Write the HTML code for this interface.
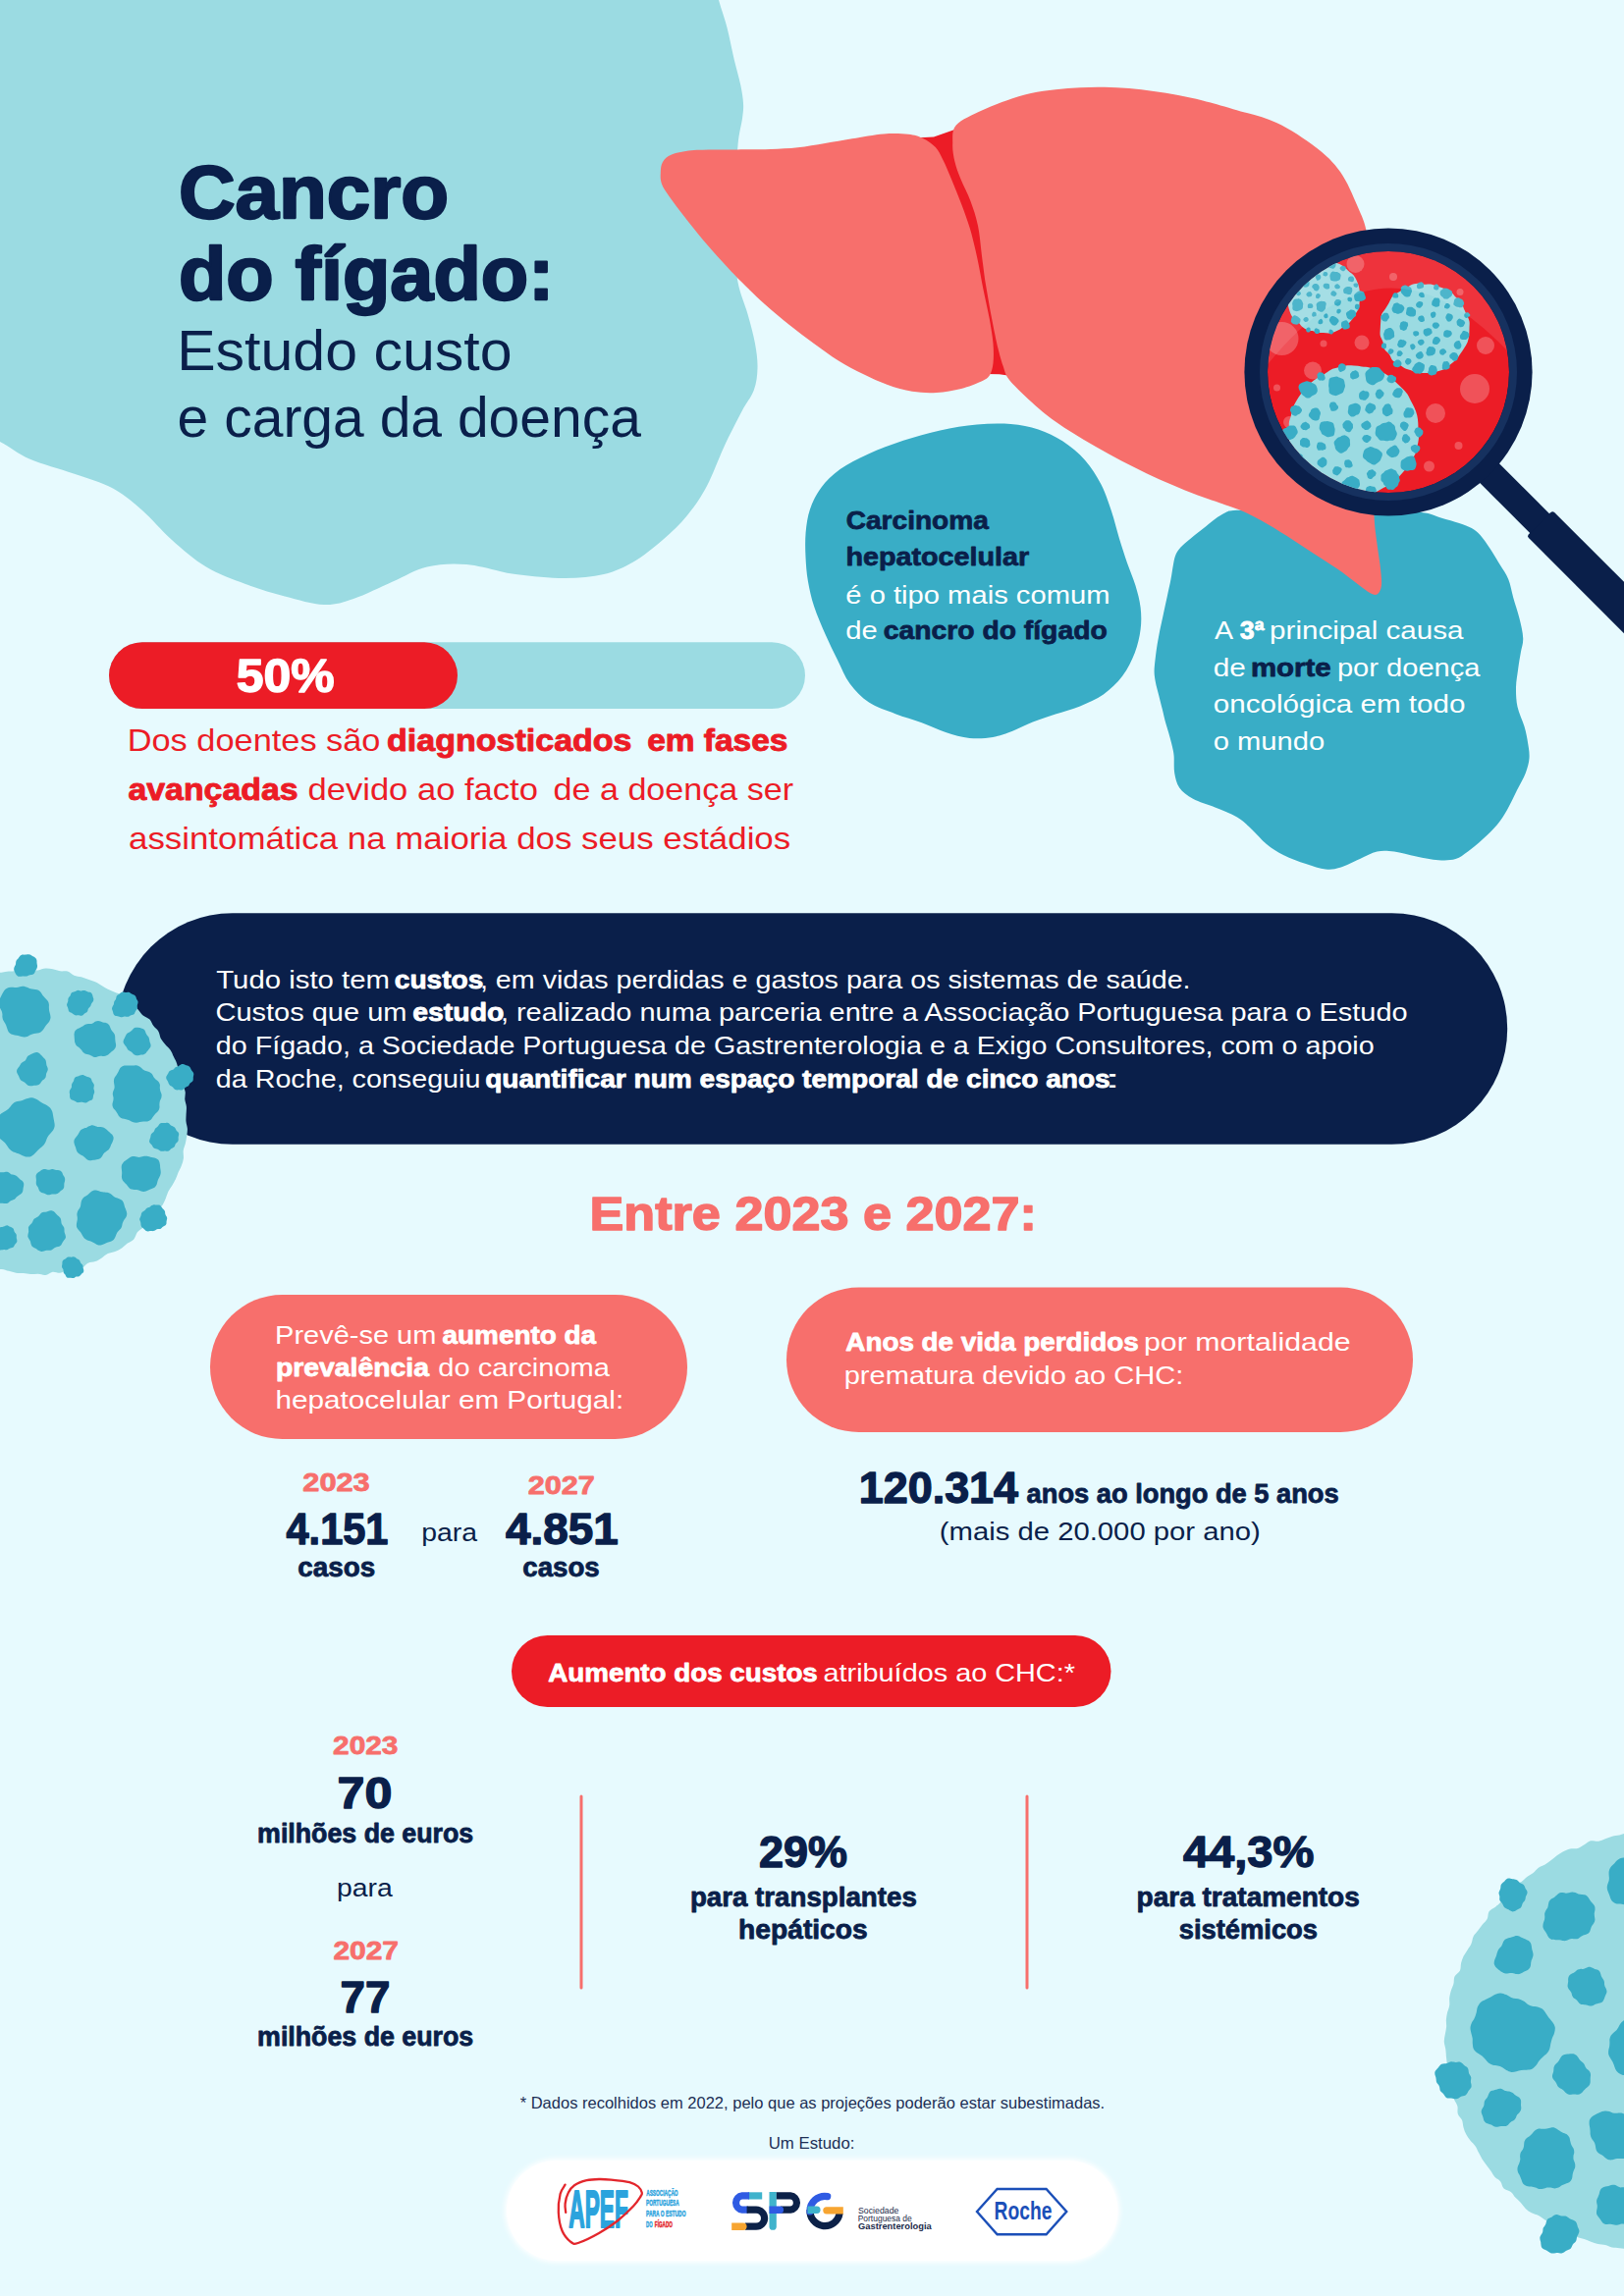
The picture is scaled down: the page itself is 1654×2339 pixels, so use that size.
<!DOCTYPE html>
<html lang="pt">
<head>
<meta charset="utf-8">
<title>Cancro do fígado: Estudo custo e carga da doença</title>
<style>
html,body{margin:0;padding:0;background:#e7fafe;}
body{width:1654px;height:2339px;position:relative;overflow:hidden;font-family:"Liberation Sans",sans-serif;}
svg text{white-space:pre;}
</style>
</head>
<body>
<svg width="1654" height="2339" viewBox="0 0 1654 2339" font-family="'Liberation Sans', sans-serif" style="position:absolute;left:0;top:0;display:block">
<rect width="1654" height="2339" fill="#e7fafe"/>
<path d="M722 -40C723.7 -33.3 728.9 -11.3 732 0C735.1 11.3 737.8 17.5 740.4 27.7C743 37.9 745.5 51.1 747.8 61C750.1 70.8 752.8 79.4 754.3 86.8C755.8 94.2 756.7 99.8 757 105.3C757.3 110.8 757 112.9 756.1 120C755.2 127.1 752.7 134.5 751.5 147.8C750.3 161.1 749.4 183 749 200C748.6 217 748.6 235.4 749 250C749.4 264.6 749.4 275.8 751.5 287.5C753.6 299.2 758.6 309.6 761.5 320C764.4 330.4 767.3 340.8 769 350C770.7 359.2 771.7 367.1 771.5 375C771.3 382.9 770.5 390 767.8 397.5C765 405 760 410.4 755 420C750 429.6 743.3 442.5 737.5 455C731.7 467.5 726.2 483.3 720 495C713.8 506.7 707.5 515.8 700 525C692.5 534.2 684.2 542.1 675 550C665.8 557.9 655 566.7 645 572.5C635 578.3 626.7 582.2 615 585C603.3 587.8 590 589 575 589C560 589 541.7 587.3 525 585C508.3 582.7 490 576.2 475 575C460 573.8 447.5 574.6 435 577.5C422.5 580.4 412.5 587.1 400 592.5C387.5 597.9 371.7 606.1 360 610C348.3 613.9 341.7 616.4 330 616C318.3 615.6 303.3 611 290 607.5C276.7 604 263.3 600 250 595C236.7 590 222.5 585 210 577.5C197.5 570 185.8 559.6 175 550C164.2 540.4 155 528.8 145 520C135 511.2 126.7 503.8 115 497.5C103.3 491.2 89.2 487.5 75 482.5C60.8 477.5 42.5 472.9 30 467.5C17.5 462.1 11.7 455.9 0 450C-11.7 444.1 -33.3 435 -40 432L-40 -40Z" fill="#9bdbe2"/>
<path d="M820.5 567.5C820.1 559.3 819.9 550.6 820.6 542.5C821.4 534.4 822.4 526.4 825 518.8C827.6 511.1 831.1 503.6 836.2 496.9C841.4 490.1 847.6 483.9 855.6 478.1C863.6 472.4 873.6 467.4 884.4 462.5C895.1 457.6 907.8 452.8 920 448.8C932.2 444.7 945 441.1 957.5 438.4C970 435.7 983 433.6 995 432.5C1007 431.4 1019 431.2 1029.4 432C1039.8 432.8 1048.6 434.6 1057.5 437.5C1066.4 440.4 1074.6 444.4 1082.5 449.6C1090.4 454.8 1098.5 461.5 1105 468.8C1111.5 476 1116.8 484.5 1121.2 493.1C1125.7 501.8 1128.8 511.4 1131.9 520.6C1135 529.9 1137.3 539.9 1140 548.8C1142.7 557.6 1145.4 565.8 1148.1 573.8C1150.9 581.7 1154.1 588.8 1156.4 596.2C1158.6 603.8 1160.8 611.2 1161.6 618.8C1162.5 626.2 1162.6 633.5 1161.6 641.2C1160.6 649 1158.8 657.1 1155.8 665C1152.7 672.9 1148.5 681.7 1143.1 688.8C1137.8 695.8 1130.9 702.4 1123.8 707.5C1116.6 712.6 1108.1 716 1100 719.4C1091.9 722.7 1083 724.8 1075 727.5C1067 730.2 1059.1 732.8 1051.9 735.6C1044.7 738.4 1038.6 741.8 1031.9 744.4C1025.1 746.9 1018.6 749.7 1011.2 750.9C1003.9 752.2 995.5 752.7 987.5 751.9C979.5 751 971.2 748.5 963.1 745.9C955 743.3 947.3 739.4 938.8 736.2C930.2 733.1 920.8 730.6 911.9 727.2C902.9 723.8 892.7 720.7 885 715.6C877.3 710.5 870.9 703.8 865.6 696.6C860.3 689.4 857.3 680.9 853.1 672.5C849 664.1 844.6 655.3 840.6 646.2C836.6 637.2 832.2 627.2 829.2 618.1C826.3 609.1 824.3 600.3 822.9 591.9C821.4 583.4 820.9 575.7 820.5 567.5Z" fill="#39adc6"/>
<path d="M1247.5 522.5C1250.6 521 1250 520.5 1256.2 520C1262.5 519.5 1271.9 519.5 1285 519.5C1298.1 519.5 1315.8 519.9 1335 520C1354.2 520.1 1381.2 519.7 1400 520C1418.8 520.3 1436.2 520.6 1447.5 521.9C1458.8 523.1 1461 525.6 1467.5 527.5C1474 529.4 1481 531.3 1486.2 533.1C1491.5 534.9 1495.2 536.1 1498.8 538.1C1502.3 540.1 1504.4 541.6 1507.5 545C1510.6 548.4 1514.2 553.8 1517.5 558.8C1520.8 563.8 1524.4 569.8 1527.5 575C1530.6 580.2 1534 584.4 1536.2 590C1538.5 595.6 1539.4 602.1 1541.2 608.8C1543.1 615.4 1545.8 623.1 1547.5 630C1549.2 636.9 1551 644.2 1551.2 650C1551.5 655.8 1549.6 659.8 1548.8 665C1547.9 670.2 1547 675.4 1546.2 681.2C1545.5 687.1 1544.1 693.5 1544 700C1543.9 706.5 1544.1 713.3 1545.5 720C1546.9 726.7 1550.7 733.8 1552.5 740C1554.3 746.2 1555.4 752.1 1556.2 757.5C1557.1 762.9 1557.9 767.5 1557.5 772.5C1557.1 777.5 1555.8 782.1 1553.8 787.5C1551.7 792.9 1548.1 798.8 1545 805C1541.9 811.2 1538.3 819.2 1535 825C1531.7 830.8 1529.2 835 1525 840C1520.8 845 1515 850.4 1510 855C1505 859.6 1499.6 864.2 1495 867.5C1490.4 870.8 1487.5 873.5 1482.5 875C1477.5 876.5 1471.7 876.7 1465 876.2C1458.3 875.8 1450 874 1442.5 872.5C1435 871 1426.7 868.3 1420 867.5C1413.3 866.7 1408.3 866.2 1402.5 867.5C1396.7 868.8 1391.2 872.3 1385 875C1378.8 877.7 1370.8 882 1365 883.8C1359.2 885.5 1355.8 886.1 1350 885.5C1344.2 884.9 1337.1 882.4 1330 880C1322.9 877.6 1314.2 874.6 1307.5 871.2C1300.8 867.9 1295.4 864.4 1290 860C1284.6 855.6 1280 849.6 1275 845C1270 840.4 1266.2 836.2 1260 832.5C1253.8 828.8 1245 825.6 1237.5 822.5C1230 819.4 1221 817.1 1215 813.8C1209 810.4 1204.4 806.9 1201.2 802.5C1198.1 798.1 1197.2 792.9 1196.2 787.5C1195.3 782.1 1196 774.6 1195.6 770C1195.2 765.4 1194.5 763.3 1193.8 760C1193 756.7 1192.3 753.8 1191.2 750C1190.2 746.2 1188.8 742.1 1187.5 737.5C1186.2 732.9 1185 727.5 1183.8 722.5C1182.5 717.5 1181.1 712.1 1180 707.5C1178.9 702.9 1177.6 698.8 1176.9 695C1176.2 691.2 1175.7 688.3 1175.6 685C1175.5 681.7 1175.8 679.2 1176.2 675C1176.7 670.8 1177.3 665.4 1178.1 660C1178.9 654.6 1180.1 648.3 1181.2 642.5C1182.4 636.7 1183.8 630.8 1185 625C1186.2 619.2 1187.5 613.3 1188.8 607.5C1190 601.7 1191.5 595.4 1192.5 590C1193.5 584.6 1194.2 579.2 1195 575C1195.8 570.8 1196.2 567.9 1197.5 565C1198.8 562.1 1200 560.2 1202.5 557.5C1205 554.8 1208.8 551.9 1212.5 548.8C1216.2 545.6 1220.8 542.1 1225 538.8C1229.2 535.4 1233.8 531.5 1237.5 528.8C1241.2 526 1244.4 524 1247.5 522.5Z" fill="#39adc6"/>
<path d="M922 141L951 139.5L978 130L1030 383L1017.75 381.25L1004 381Z" fill="#ec1c26"/>
<path d="M672.8 176.2C672.9 172.5 673.1 168.1 675 165C676.9 161.9 679.2 159.4 684 157.5C688.8 155.6 696.7 154.1 704 153.3C711.3 152.5 720.1 152.8 728 152.6C735.9 152.4 742 152.5 751.5 152.4C761 152.3 774.6 152.3 784.7 152C794.9 151.7 803.1 151.3 812.4 150.3C821.6 149.3 831 147.5 840.2 146C849.5 144.5 857.9 142.9 867.9 141.3C877.9 139.7 890.5 137.2 900 136.5C909.5 135.8 918.3 136.1 925 136.8C931.7 137.6 935.4 138.8 940 141C944.6 143.2 949.4 146.4 952.8 150C956.1 153.6 957.5 157.1 960.2 162.5C963 167.9 965.9 175 969 182.5C972.1 190 975.9 199.2 979 207.5C982.1 215.8 985 223.3 987.8 232.5C990.5 241.7 993 252.1 995.2 262.5C997.5 272.9 999.4 284.6 1001.5 295C1003.6 305.4 1006.1 315.8 1007.8 325C1009.4 334.2 1010.9 342.5 1011.5 350C1012.1 357.5 1012.1 364.6 1011.5 370C1010.9 375.4 1009.8 379.4 1007.8 382.5C1005.7 385.6 1003.8 386.5 999 388.8C994.2 391 986.5 394.1 979 396C971.5 397.9 962.3 399.5 954 400C945.7 400.5 937.3 400.1 929 398.8C920.7 397.4 912.3 395 904 392C895.7 389 887.3 385.1 879 381C870.7 376.9 862.3 372.7 854 367.5C845.7 362.3 837.3 356.1 829 350C820.7 343.9 812.3 337.7 804 331C795.7 324.3 787.3 317.5 779 310C770.7 302.5 761.1 293.1 754 286C746.9 278.9 742.8 274.3 736.5 267.5C730.2 260.7 723.2 252.9 716.5 245C709.8 237.1 702.3 227.5 696.5 220C690.7 212.5 685.2 205.4 681.5 200C677.8 194.6 675.5 191.5 674 187.5C672.5 183.5 672.6 180 672.8 176.2Z" fill="#f76f6c"/>
<path d="M973.8 127.5C978.7 121.8 991.5 116.7 1000 112.5C1008.5 108.3 1016.7 105.4 1025 102.5C1033.3 99.6 1041.7 96.9 1050 95C1058.3 93.1 1066.7 92.2 1075 91.2C1083.3 90.3 1091.7 89.7 1100 89.2C1108.3 88.8 1116.7 88.6 1125 88.8C1133.3 88.9 1141.7 89.3 1150 90C1158.3 90.7 1166.7 91.8 1175 93C1183.3 94.2 1191.7 95.4 1200 97C1208.3 98.6 1215.7 100.1 1225 102.5C1234.3 104.9 1243.5 107.5 1256 111.2C1268.5 115 1286 118.5 1300 125C1314 131.5 1329.2 141.7 1340 150C1350.8 158.3 1357.9 165 1365 175C1372.1 185 1377.9 199.2 1382.5 210C1387.1 220.8 1389.9 225 1392.5 240C1395.1 255 1396.8 273.3 1398 300C1399.2 326.7 1399.8 370 1400 400C1400.2 430 1399.1 459.2 1399 480C1398.9 500.8 1399 513.2 1399.5 525C1400 536.8 1401.1 542.7 1402.1 551C1403.1 559.3 1404.7 568.5 1405.5 575C1406.3 581.5 1406.8 586 1407 590C1407.2 594 1407.2 596.4 1406.5 599C1405.8 601.6 1404.3 604.6 1402.5 605.5C1400.7 606.4 1399 606 1395.7 604.3C1392.4 602.5 1388.3 599.1 1382.7 595C1377.1 590.9 1369.8 584.9 1362 579.5C1354.2 574.1 1344.8 568.3 1336.2 562.7C1327.6 557.1 1318.9 551.2 1310.3 545.8C1301.7 540.4 1292.2 534.6 1284.5 530.3C1276.8 526 1270.3 522.8 1263.8 520C1257.3 517.2 1253 516.1 1245.7 513.5C1238.4 510.9 1228.4 507.7 1219.8 504.5C1211.2 501.3 1202.6 497.8 1194 494.1C1185.4 490.4 1176.7 486.6 1168.1 482.5C1159.5 478.4 1150.8 474.1 1142.2 469.6C1133.6 465.1 1125 460.3 1116.4 455.3C1107.8 450.3 1099.1 445.4 1090.5 439.8C1081.9 434.2 1073.2 428.6 1064.6 421.7C1056 414.8 1045.1 404.5 1038.8 398.4C1032.5 392.3 1029.4 389.3 1026.5 385C1023.6 380.7 1023.2 377.5 1021.5 372.5C1019.8 367.5 1018.4 362.9 1016.5 355C1014.6 347.1 1012.3 335.8 1010.2 325C1008.2 314.2 1005.7 300.4 1004 290C1002.3 279.6 1001.6 272.5 1000.2 262.5C998.9 252.5 998 239.6 996 230C994 220.4 991.4 212.9 988.5 205C985.6 197.1 981.2 189.2 978.5 182.5C975.8 175.8 973.9 170.9 972.5 165C971.1 159.1 970 153.2 970.2 147C970.5 140.8 968.8 133.2 973.8 127.5Z" fill="#f76f6c"/>
<g transform="translate(1414 379) rotate(45)">
<rect x="130" y="-14" width="95" height="28" fill="#0a1f4a"/>
<rect x="218" y="-18.5" width="260" height="37" rx="3" fill="#0a1f4a"/>
</g>
<circle cx="1414" cy="379" r="146.6" fill="#0a1f4a"/>
<circle cx="1414" cy="379" r="127" fill="none" stroke="#16315f" stroke-width="8"/>
<clipPath id="lens"><circle cx="1414" cy="379" r="123"/></clipPath>
<g clip-path="url(#lens)">
<circle cx="1414" cy="379" r="123" fill="#ec1c26"/>
<circle cx="1305.5" cy="345" r="17" fill="#fff" opacity="0.24"/>
<circle cx="1387" cy="349" r="7.5" fill="#fff" opacity="0.24"/>
<circle cx="1337" cy="377.5" r="9" fill="#fff" opacity="0.24"/>
<circle cx="1502" cy="396" r="15" fill="#fff" opacity="0.24"/>
<circle cx="1462" cy="421" r="10" fill="#fff" opacity="0.24"/>
<circle cx="1513" cy="352" r="9" fill="#fff" opacity="0.24"/>
<circle cx="1455.5" cy="475" r="5.5" fill="#fff" opacity="0.24"/>
<circle cx="1485.5" cy="454" r="4" fill="#fff" opacity="0.24"/>
<circle cx="1419" cy="282" r="4" fill="#fff" opacity="0.24"/>
<circle cx="1348" cy="350" r="3.5" fill="#fff" opacity="0.24"/>
<circle cx="1300.5" cy="395" r="3.5" fill="#fff" opacity="0.24"/>
<circle cx="1487" cy="297.5" r="3.5" fill="#fff" opacity="0.24"/>
<circle cx="1380.5" cy="269" r="9" fill="#fff" opacity="0.24"/>
<circle cx="1313" cy="430" r="6" fill="#fff" opacity="0.24"/>
<path d="M1384.9 302.5C1384.9 304.4 1384.8 306.4 1384.6 308.3C1384.4 310.2 1384.4 312.3 1383.8 314.1C1383.2 316 1381.9 317.6 1380.9 319.3C1379.9 321 1379.1 322.7 1377.9 324.3C1376.8 325.8 1375.7 327.5 1374.3 328.8C1372.8 330.1 1371 330.9 1369.5 332.1C1367.9 333.2 1366.5 334.5 1364.8 335.5C1363.1 336.5 1361.3 337.2 1359.5 337.9C1357.7 338.5 1355.8 339.3 1353.9 339.5C1351.9 339.6 1349.9 339 1348 338.9C1346.1 338.8 1344.1 339.1 1342.3 338.8C1340.4 338.5 1338.6 337.6 1336.8 337.1C1334.9 336.6 1332.8 336.6 1331 335.9C1329.2 335.1 1327.5 333.9 1326.1 332.7C1324.6 331.4 1323.7 329.5 1322.3 328.2C1320.9 326.9 1318.8 326.1 1317.5 324.7C1316.2 323.2 1315.2 321.4 1314.4 319.6C1313.6 317.8 1313.1 315.9 1312.6 314C1312.1 312.1 1311.5 310.2 1311.3 308.3C1311.1 306.4 1311.4 304.4 1311.5 302.5C1311.7 300.6 1312 298.7 1312.2 296.8C1312.4 294.9 1312.2 292.9 1312.8 291.1C1313.3 289.2 1314.7 287.7 1315.6 286C1316.6 284.3 1317.4 282.6 1318.4 281C1319.5 279.5 1320.7 277.9 1322.1 276.6C1323.5 275.3 1325.1 274.3 1326.7 273.1C1328.2 272 1329.6 270.5 1331.2 269.6C1332.9 268.6 1334.8 268.1 1336.6 267.4C1338.4 266.7 1340.2 265.8 1342.1 265.5C1344 265.1 1346.1 265.4 1348 265.5C1349.9 265.5 1351.9 265.4 1353.8 265.8C1355.7 266.1 1357.6 266.7 1359.4 267.3C1361.3 267.9 1363.2 268.4 1364.9 269.3C1366.6 270.2 1368.2 271.4 1369.7 272.6C1371.2 273.8 1372.5 275.3 1373.9 276.6C1375.4 277.9 1377.2 278.9 1378.5 280.3C1379.8 281.8 1380.8 283.6 1381.6 285.4C1382.5 287.1 1383.1 289 1383.7 290.9C1384.2 292.8 1384.6 294.7 1384.8 296.7C1385.1 298.6 1385 300.6 1384.9 302.5Z" fill="#9bdbe2"/><path d="M1327.1 310.7C1327.1 311.2 1327 311.6 1327 312.1C1326.9 312.6 1327 313.2 1326.8 313.7C1326.6 314.2 1326.3 314.7 1325.9 315C1325.5 315.3 1324.9 315.5 1324.5 315.7C1324 316 1323.6 316.2 1323.1 316.5C1322.6 316.7 1322.1 317 1321.5 317.1C1321 317.2 1320.4 317.2 1319.8 317.1C1319.3 316.9 1318.7 316.7 1318.2 316.5C1317.7 316.2 1317.1 315.9 1316.8 315.4C1316.5 315 1316.3 314.3 1316.3 313.7C1316.2 313.1 1316.5 312.5 1316.5 312C1316.5 311.5 1316.4 311.1 1316.3 310.7C1316.3 310.2 1316.1 309.7 1316.1 309.2C1316.2 308.7 1316.4 308.3 1316.5 307.8C1316.7 307.3 1316.9 306.8 1317.2 306.3C1317.5 305.8 1317.8 305.3 1318.3 305C1318.7 304.7 1319.3 304.6 1319.9 304.5C1320.4 304.4 1321 304.5 1321.5 304.5C1322.1 304.4 1322.7 304.3 1323.2 304.4C1323.8 304.4 1324.4 304.6 1324.8 304.9C1325.3 305.3 1325.6 305.9 1325.9 306.3C1326.2 306.8 1326.4 307.3 1326.6 307.7C1326.8 308.2 1327.1 308.7 1327.2 309.2C1327.3 309.6 1327.2 310.2 1327.1 310.7ZM1363.6 326.8C1363.7 327.2 1363.5 327.7 1363.3 328C1363.1 328.4 1362.7 328.7 1362.5 329C1362.2 329.4 1362 329.7 1361.8 330C1361.5 330.3 1361.3 330.7 1361 331C1360.7 331.3 1360.3 331.5 1359.9 331.6C1359.5 331.7 1359 331.6 1358.6 331.6C1358.2 331.5 1357.7 331.4 1357.4 331.2C1357 331 1356.7 330.8 1356.4 330.6C1356.1 330.3 1355.9 330 1355.7 329.7C1355.5 329.4 1355.3 329.1 1355.1 328.8C1354.9 328.5 1354.7 328.2 1354.5 327.9C1354.3 327.5 1354 327.2 1353.9 326.8C1353.8 326.4 1353.8 325.9 1353.9 325.5C1354 325.1 1354.2 324.7 1354.4 324.4C1354.6 324 1354.8 323.6 1355 323.3C1355.3 322.9 1355.6 322.5 1356 322.3C1356.3 322 1356.8 321.9 1357.3 321.9C1357.7 321.9 1358.2 322.1 1358.6 322.3C1359 322.4 1359.3 322.6 1359.6 322.8C1360 322.9 1360.3 323.1 1360.6 323.3C1360.9 323.4 1361.2 323.7 1361.5 323.9C1361.7 324.1 1362 324.4 1362.2 324.6C1362.5 324.9 1362.9 325.2 1363.1 325.6C1363.3 325.9 1363.6 326.4 1363.6 326.8ZM1354.1 291.6C1354.2 292.2 1354.3 293.2 1353.9 293.7C1353.6 294.2 1352.6 294.4 1352 294.5C1351.4 294.6 1350.7 294.5 1350.1 294.3C1349.6 294.1 1349 293.8 1348.6 293.3C1348.2 292.9 1347.7 292.2 1347.6 291.6C1347.5 290.9 1347.8 290 1348.2 289.5C1348.6 289 1349.5 288.9 1350.1 288.7C1350.7 288.6 1351.4 288.6 1351.9 288.7C1352.5 288.9 1353.3 289.2 1353.7 289.6C1354 290.1 1354.1 290.9 1354.1 291.6ZM1381.1 320.5C1381.1 320.9 1381.1 321.4 1380.9 321.7C1380.7 322.1 1380.3 322.4 1379.9 322.7C1379.6 323 1379.2 323.1 1378.9 323.4C1378.7 323.6 1378.5 323.9 1378.2 324.2C1377.9 324.5 1377.7 324.9 1377.3 325.2C1376.9 325.4 1376.5 325.6 1376 325.7C1375.6 325.7 1375.1 325.6 1374.7 325.5C1374.2 325.4 1373.8 325.2 1373.4 325C1373 324.7 1372.7 324.4 1372.4 324.1C1372.1 323.8 1371.9 323.3 1371.8 322.9C1371.6 322.5 1371.5 322.1 1371.4 321.7C1371.2 321.3 1371.1 320.9 1371 320.5C1370.9 320 1370.9 319.5 1371 319.1C1371.2 318.7 1371.5 318.3 1371.8 318C1372.2 317.7 1372.6 317.6 1372.9 317.3C1373.3 317.1 1373.5 316.9 1373.8 316.7C1374.2 316.4 1374.5 316.1 1374.8 315.9C1375.2 315.8 1375.6 315.6 1376 315.6C1376.4 315.6 1376.9 315.6 1377.3 315.7C1377.7 315.8 1378.2 315.8 1378.6 316C1379 316.2 1379.5 316.4 1379.8 316.7C1380.1 317 1380.4 317.4 1380.6 317.8C1380.8 318.2 1380.9 318.7 1381 319.1C1381.1 319.6 1381.2 320 1381.1 320.5ZM1334.1 278.6C1334.1 279.1 1334.3 280 1334 280.4C1333.7 280.8 1332.9 280.9 1332.3 281.1C1331.8 281.2 1331.2 281.3 1330.7 281.1C1330.2 281 1329.6 280.6 1329.3 280.2C1329.1 279.8 1329.1 279.1 1329.1 278.6C1329.1 278.1 1329 277.5 1329.3 277C1329.6 276.5 1330.1 275.9 1330.6 275.8C1331.1 275.6 1331.8 276 1332.3 276.2C1332.8 276.4 1333.2 276.7 1333.5 277.1C1333.8 277.5 1334 278.1 1334.1 278.6ZM1377.2 305C1377.2 305.5 1377 306.1 1376.8 306.5C1376.5 306.9 1376 307.3 1375.6 307.4C1375.1 307.5 1374.5 307.3 1374.1 307.1C1373.6 307 1373.2 306.8 1372.9 306.4C1372.6 306.1 1372.5 305.5 1372.4 305C1372.4 304.5 1372.3 303.8 1372.6 303.4C1372.9 303.1 1373.6 302.9 1374.1 302.8C1374.5 302.7 1375 302.8 1375.5 302.9C1375.9 303.1 1376.5 303.2 1376.8 303.6C1377 303.9 1377.2 304.5 1377.2 305ZM1390.7 302C1390.8 302.5 1391.1 303.1 1391 303.6C1391 304.1 1390.7 304.7 1390.3 305.1C1390 305.5 1389.4 305.7 1388.9 306C1388.4 306.2 1388 306.3 1387.5 306.5C1387.1 306.6 1386.7 306.8 1386.2 306.8C1385.8 306.9 1385.4 306.9 1384.9 306.9C1384.5 307 1384.1 307 1383.6 307C1383.1 307 1382.5 307.1 1382 307C1381.5 306.9 1380.9 306.7 1380.5 306.4C1380.1 306.1 1379.8 305.5 1379.6 305C1379.4 304.5 1379.4 304 1379.3 303.5C1379.2 302.9 1379.1 302.5 1379.1 302C1379.1 301.5 1379.1 300.9 1379.2 300.4C1379.4 300 1379.8 299.5 1380.1 299.2C1380.4 298.8 1380.9 298.6 1381.3 298.3C1381.6 298 1381.9 297.7 1382.3 297.5C1382.7 297.2 1383.1 296.9 1383.5 296.7C1383.9 296.5 1384.4 296.4 1384.9 296.3C1385.4 296.3 1385.9 296.4 1386.4 296.5C1386.9 296.6 1387.4 296.7 1387.8 296.9C1388.3 297.1 1388.7 297.4 1389.1 297.8C1389.4 298.2 1389.5 298.7 1389.7 299.2C1389.9 299.7 1389.9 300.1 1390.1 300.6C1390.2 301 1390.5 301.5 1390.7 302ZM1345.3 282.5C1345.3 283 1345.1 283.6 1344.8 284.1C1344.5 284.6 1344 285.1 1343.5 285.3C1342.9 285.6 1342 285.9 1341.5 285.7C1341 285.4 1340.8 284.5 1340.5 283.9C1340.2 283.4 1339.9 283 1339.8 282.5C1339.8 281.9 1339.8 281.2 1340.1 280.7C1340.4 280.2 1341 279.7 1341.6 279.5C1342.2 279.3 1342.9 279.4 1343.5 279.6C1344 279.8 1344.6 280.3 1344.9 280.8C1345.2 281.2 1345.3 281.9 1345.3 282.5ZM1350.2 312C1350.1 312.4 1350.2 312.8 1350.1 313.2C1350.1 313.6 1350 314.1 1349.9 314.5C1349.7 314.8 1349.4 315.2 1349.2 315.5C1348.9 315.9 1348.6 316.2 1348.2 316.5C1347.9 316.8 1347.5 317.2 1347.1 317.4C1346.6 317.6 1346.1 317.7 1345.6 317.7C1345.1 317.7 1344.6 317.5 1344.2 317.4C1343.7 317.2 1343.3 317 1342.9 316.8C1342.5 316.5 1342 316.3 1341.7 315.9C1341.4 315.6 1341.2 315.1 1341 314.7C1340.9 314.2 1341 313.7 1341 313.3C1340.9 312.8 1340.9 312.4 1340.9 312C1340.8 311.6 1340.6 311.1 1340.6 310.7C1340.6 310.2 1340.7 309.7 1340.9 309.3C1341.1 308.9 1341.5 308.6 1341.9 308.3C1342.3 308 1342.7 307.8 1343.1 307.6C1343.5 307.5 1343.9 307.2 1344.3 307.1C1344.7 307 1345.2 306.9 1345.6 306.8C1346.1 306.8 1346.5 306.8 1347 306.9C1347.5 306.9 1348 306.9 1348.5 307.1C1349 307.2 1349.5 307.4 1349.9 307.7C1350.3 308.1 1350.6 308.6 1350.7 309.1C1350.8 309.6 1350.6 310.2 1350.5 310.7C1350.4 311.2 1350.3 311.6 1350.2 312ZM1343.7 292.6C1343.8 293.3 1343.6 294.2 1343.2 294.8C1342.9 295.5 1342.1 296.2 1341.4 296.4C1340.7 296.6 1339.7 296.4 1339.1 296C1338.4 295.7 1338.2 294.9 1337.8 294.3C1337.3 293.8 1336.4 293.3 1336.3 292.6C1336.1 291.9 1336.6 290.9 1337 290.3C1337.5 289.7 1338.3 289.2 1339 289C1339.7 288.8 1340.6 288.9 1341.3 289.2C1341.9 289.4 1342.5 290 1342.9 290.6C1343.4 291.1 1343.7 291.9 1343.7 292.6ZM1340.7 320.2C1340.7 320.7 1340.7 321.3 1340.5 321.7C1340.2 322 1339.6 322.2 1339.1 322.3C1338.6 322.5 1338.1 322.8 1337.6 322.7C1337.1 322.6 1336.5 322.2 1336.3 321.7C1336.1 321.3 1336.1 320.7 1336.2 320.2C1336.2 319.7 1336.3 319.3 1336.6 318.9C1336.8 318.5 1337.2 318 1337.6 317.8C1338.1 317.6 1338.7 317.6 1339.2 317.8C1339.7 317.9 1340.2 318.4 1340.4 318.8C1340.7 319.2 1340.7 319.7 1340.7 320.2ZM1333.6 289.1C1333.6 289.9 1333.3 290.7 1332.9 291.3C1332.5 291.9 1331.7 292.4 1331 292.6C1330.3 292.8 1329.4 292.8 1328.7 292.6C1328 292.4 1327.2 292 1326.7 291.4C1326.2 290.8 1325.9 289.9 1325.9 289.1C1325.9 288.3 1326.1 287.3 1326.6 286.7C1327.1 286.2 1328.1 286.2 1328.9 286C1329.6 285.8 1330.3 285.3 1331.1 285.4C1331.8 285.5 1332.7 286.1 1333.1 286.7C1333.6 287.3 1333.7 288.3 1333.6 289.1ZM1377.3 296C1377.3 296.3 1377.2 296.7 1377.1 297.1C1377 297.5 1376.8 297.8 1376.7 298.1C1376.5 298.5 1376.4 298.9 1376.2 299.2C1375.9 299.6 1375.6 299.9 1375.2 300C1374.8 300.1 1374.3 299.9 1374 299.9C1373.6 299.9 1373.2 299.9 1372.9 299.9C1372.5 299.8 1372.2 299.7 1371.9 299.6C1371.6 299.5 1371.3 299.3 1371 299.2C1370.7 299.1 1370.2 299.2 1369.8 299C1369.5 298.9 1369 298.7 1368.7 298.4C1368.5 298.1 1368.4 297.6 1368.3 297.2C1368.2 296.8 1368.1 296.4 1368.1 296C1368.1 295.6 1368.2 295.1 1368.3 294.7C1368.5 294.4 1368.9 294.1 1369.1 293.8C1369.4 293.5 1369.6 293.2 1369.8 292.9C1370.1 292.7 1370.5 292.5 1370.8 292.4C1371.1 292.3 1371.6 292.4 1371.9 292.3C1372.3 292.3 1372.5 292.1 1372.9 292.1C1373.2 292 1373.6 291.9 1374 292C1374.3 292 1374.6 292.2 1375 292.3C1375.4 292.4 1375.8 292.5 1376.2 292.7C1376.5 292.9 1376.9 293.2 1377 293.6C1377.2 293.9 1377.1 294.4 1377.2 294.8C1377.2 295.2 1377.3 295.6 1377.3 296ZM1379 284.3C1379 284.9 1379 285.7 1378.7 286.2C1378.3 286.7 1377.6 287.1 1377 287.2C1376.5 287.3 1375.9 286.9 1375.3 286.7C1374.7 286.5 1373.9 286.6 1373.5 286.2C1373.1 285.8 1372.9 284.9 1372.9 284.3C1373 283.7 1373.3 283 1373.6 282.5C1374 282.1 1374.6 281.8 1375.2 281.6C1375.8 281.4 1376.4 281.3 1377 281.5C1377.5 281.6 1378.2 282 1378.5 282.5C1378.9 283 1379 283.7 1379 284.3ZM1320.4 290.1C1320.3 290.4 1320.3 290.8 1320.2 291.1C1320.1 291.5 1320 291.9 1319.9 292.2C1319.7 292.5 1319.4 292.8 1319.2 293.1C1319 293.4 1318.8 293.7 1318.5 294C1318.2 294.2 1317.8 294.5 1317.4 294.5C1317 294.6 1316.6 294.4 1316.2 294.4C1315.8 294.3 1315.5 294.2 1315.1 294.1C1314.7 294.1 1314.3 294.2 1313.9 294.1C1313.5 293.9 1313.1 293.7 1312.8 293.5C1312.5 293.2 1312.2 292.8 1312 292.5C1311.8 292.1 1311.5 291.7 1311.4 291.3C1311.3 290.9 1311.3 290.5 1311.4 290.1C1311.5 289.6 1311.8 289.3 1312 288.9C1312.2 288.6 1312.3 288.2 1312.5 287.9C1312.7 287.6 1312.8 287.2 1313.1 287C1313.4 286.7 1313.8 286.6 1314.1 286.5C1314.5 286.3 1314.8 286.3 1315.2 286.2C1315.5 286.1 1315.8 285.9 1316.2 285.8C1316.6 285.7 1317 285.6 1317.4 285.6C1317.8 285.6 1318.2 285.8 1318.6 285.9C1319 286 1319.5 286.2 1319.8 286.4C1320.2 286.7 1320.6 287 1320.7 287.4C1320.9 287.8 1320.8 288.4 1320.7 288.8C1320.7 289.3 1320.4 289.7 1320.4 290.1ZM1344.2 337.3C1344.2 337.9 1344.2 338.7 1343.8 339.1C1343.5 339.6 1342.7 339.8 1342.2 339.9C1341.6 340.1 1341 340.1 1340.5 339.9C1340 339.7 1339.4 339.4 1339.1 338.9C1338.8 338.5 1338.7 337.9 1338.6 337.3C1338.6 336.7 1338.5 336 1338.8 335.5C1339.1 335 1339.8 334.4 1340.4 334.3C1340.9 334.3 1341.5 334.7 1342.1 335C1342.6 335.2 1343.1 335.3 1343.5 335.7C1343.8 336.1 1344.1 336.7 1344.2 337.3ZM1365.8 308.3C1365.7 308.9 1365.4 309.6 1365.1 310.2C1364.7 310.7 1364.1 311.4 1363.5 311.6C1362.9 311.8 1362.1 311.6 1361.4 311.4C1360.7 311.2 1359.9 310.9 1359.5 310.4C1359 309.9 1358.8 308.9 1358.8 308.3C1358.9 307.6 1359.4 306.9 1359.8 306.4C1360.2 305.8 1360.8 305.4 1361.4 305.1C1362 304.9 1362.8 304.9 1363.5 305C1364.2 305.2 1365.1 305.5 1365.5 306C1365.9 306.6 1365.9 307.6 1365.8 308.3ZM1339.4 267.9C1339.4 268.4 1339.3 269.1 1339 269.4C1338.8 269.7 1338.1 269.8 1337.7 270C1337.2 270.1 1336.7 270.3 1336.3 270.2C1335.9 270 1335.5 269.6 1335.2 269.2C1335 268.8 1334.8 268.4 1334.7 267.9C1334.7 267.4 1334.7 266.8 1334.9 266.4C1335.2 266 1335.8 265.7 1336.3 265.7C1336.7 265.6 1337.2 265.7 1337.6 265.9C1338.1 266.1 1338.5 266.3 1338.8 266.6C1339.1 266.9 1339.3 267.4 1339.4 267.9ZM1334.6 336.1C1334.6 336.6 1334.8 337.2 1334.5 337.6C1334.3 338 1333.7 338.3 1333.2 338.4C1332.8 338.6 1332.2 338.6 1331.7 338.5C1331.2 338.3 1330.8 337.9 1330.5 337.5C1330.2 337.1 1330.1 336.6 1330.2 336.1C1330.2 335.6 1330.3 335.1 1330.5 334.7C1330.8 334.3 1331.3 334 1331.7 333.8C1332.2 333.6 1332.8 333.4 1333.3 333.6C1333.8 333.7 1334.3 334.2 1334.5 334.6C1334.7 335 1334.6 335.6 1334.6 336.1ZM1360.5 269.2C1360.5 269.6 1360.6 269.9 1360.5 270.3C1360.5 270.6 1360.4 271 1360.3 271.3C1360.1 271.7 1359.9 271.9 1359.7 272.2C1359.4 272.5 1359.2 272.9 1358.9 273.2C1358.6 273.4 1358.2 273.7 1357.9 273.7C1357.5 273.8 1357 273.6 1356.7 273.5C1356.3 273.4 1356 273.3 1355.6 273.2C1355.2 273.1 1354.8 273.1 1354.5 273C1354.1 272.9 1353.7 272.7 1353.4 272.5C1353.1 272.2 1352.9 271.8 1352.7 271.5C1352.5 271.2 1352.3 270.8 1352.2 270.4C1352.1 270 1352.1 269.6 1352.2 269.2C1352.3 268.9 1352.7 268.5 1352.9 268.2C1353.1 267.9 1353.2 267.7 1353.4 267.3C1353.5 267 1353.6 266.6 1353.8 266.3C1353.9 266 1354.2 265.7 1354.5 265.5C1354.8 265.3 1355.2 265.2 1355.5 265C1355.9 264.9 1356.3 264.7 1356.7 264.6C1357.1 264.6 1357.5 264.6 1357.9 264.7C1358.2 264.9 1358.6 265.1 1358.9 265.4C1359.2 265.6 1359.5 265.8 1359.8 266.1C1360.1 266.3 1360.5 266.6 1360.6 266.9C1360.8 267.3 1360.7 267.8 1360.7 268.1C1360.7 268.5 1360.6 268.9 1360.5 269.2ZM1361.5 299.1C1361.5 299.6 1361.1 300.4 1360.7 300.8C1360.3 301.3 1359.7 301.7 1359.2 301.9C1358.7 302 1358.1 301.7 1357.5 301.5C1357 301.4 1356.3 301.2 1355.9 300.8C1355.5 300.4 1355.3 299.7 1355.3 299.1C1355.3 298.5 1355.6 297.9 1356 297.4C1356.3 296.9 1356.8 296.4 1357.4 296.2C1357.9 296.1 1358.7 296.2 1359.2 296.4C1359.7 296.7 1360 297.1 1360.4 297.6C1360.8 298 1361.4 298.5 1361.5 299.1ZM1370.9 273.5C1370.8 274 1370.3 274.6 1370 275.1C1369.6 275.5 1369.2 276.1 1368.7 276.2C1368.2 276.4 1367.5 276.2 1367 276C1366.5 275.8 1366 275.5 1365.6 275.1C1365.2 274.7 1364.6 274 1364.5 273.5C1364.5 272.9 1365 272.2 1365.4 271.8C1365.9 271.4 1366.5 271.2 1367 271C1367.5 270.9 1368.1 270.8 1368.6 270.9C1369.1 271.1 1369.8 271.3 1370.2 271.8C1370.5 272.2 1370.9 272.9 1370.9 273.5ZM1347.3 327.8C1347.3 328.3 1347.3 328.9 1347 329.3C1346.7 329.7 1346.2 329.9 1345.7 330.1C1345.2 330.3 1344.6 330.4 1344.1 330.3C1343.6 330.2 1342.9 329.9 1342.6 329.5C1342.3 329 1342.5 328.3 1342.6 327.8C1342.6 327.3 1342.8 326.8 1343 326.4C1343.3 326 1343.7 325.6 1344.2 325.4C1344.6 325.1 1345.4 324.7 1345.9 324.9C1346.3 325 1346.7 325.8 1347 326.3C1347.2 326.8 1347.3 327.3 1347.3 327.8ZM1324.1 278.5C1324.1 279 1324.2 279.6 1323.9 280C1323.6 280.4 1323 280.7 1322.5 280.9C1322 281 1321.5 281 1321 280.9C1320.4 280.8 1319.7 280.6 1319.4 280.2C1319.1 279.8 1319.1 279 1319.2 278.5C1319.2 278 1319.6 277.6 1319.9 277.1C1320.2 276.7 1320.5 276.1 1320.9 275.9C1321.4 275.7 1322.1 275.8 1322.6 275.9C1323.1 276.1 1323.7 276.4 1324 276.9C1324.2 277.3 1324.1 278 1324.1 278.5ZM1332.7 325.5C1332.7 326 1332.5 326.6 1332.2 327C1331.9 327.4 1331.3 327.5 1330.8 327.7C1330.3 327.8 1329.8 328 1329.3 327.9C1328.9 327.8 1328.4 327.3 1328.1 326.9C1327.7 326.5 1327.3 326 1327.3 325.5C1327.3 325 1327.8 324.5 1328.2 324.1C1328.5 323.7 1328.9 323.4 1329.4 323.3C1329.8 323.1 1330.4 322.9 1330.9 323C1331.4 323.1 1331.9 323.6 1332.2 324C1332.5 324.4 1332.7 325 1332.7 325.5ZM1336.5 299.8C1336.5 300.3 1336.1 301 1335.8 301.5C1335.4 301.9 1334.8 302.1 1334.3 302.3C1333.7 302.4 1333.2 302.5 1332.6 302.4C1332.1 302.2 1331.4 302 1331.1 301.5C1330.7 301.1 1330.3 300.3 1330.4 299.8C1330.4 299.2 1330.9 298.6 1331.3 298.2C1331.7 297.8 1332.2 297.5 1332.7 297.3C1333.2 297.1 1333.9 296.8 1334.4 296.9C1334.9 297.1 1335.3 297.7 1335.7 298.2C1336 298.7 1336.5 299.2 1336.5 299.8ZM1365.5 281.6C1365.4 282.1 1365.3 282.6 1365.2 283C1365.1 283.5 1365 284 1364.8 284.5C1364.6 284.9 1364.2 285.3 1363.8 285.5C1363.4 285.8 1362.8 285.8 1362.4 286C1362 286.1 1361.6 286.3 1361.2 286.4C1360.7 286.5 1360.3 286.6 1359.9 286.6C1359.4 286.6 1359 286.4 1358.6 286.4C1358.1 286.3 1357.7 286.3 1357.2 286.2C1356.7 286.1 1356.1 286 1355.8 285.7C1355.4 285.4 1355.1 284.9 1354.9 284.5C1354.7 284 1354.8 283.5 1354.7 283C1354.6 282.5 1354.4 282.1 1354.4 281.6C1354.4 281.1 1354.4 280.6 1354.5 280.2C1354.6 279.7 1354.9 279.3 1355.1 278.9C1355.3 278.4 1355.5 278 1355.8 277.6C1356.2 277.2 1356.6 276.8 1357 276.7C1357.4 276.5 1358.1 276.6 1358.5 276.7C1359 276.7 1359.4 276.9 1359.9 276.9C1360.3 277 1360.7 276.9 1361.1 276.9C1361.5 276.9 1362 277 1362.4 277.2C1362.8 277.3 1363.2 277.6 1363.6 277.9C1364 278.1 1364.5 278.4 1364.8 278.7C1365.2 279.1 1365.5 279.6 1365.6 280.1C1365.7 280.5 1365.6 281.1 1365.5 281.6ZM1337.3 311.7C1337.4 312.2 1337.2 313 1336.8 313.4C1336.4 313.7 1335.7 313.8 1335.2 314C1334.7 314.1 1334.2 314.1 1333.7 314C1333.2 313.9 1332.4 313.8 1332 313.4C1331.7 313 1331.8 312.2 1331.8 311.7C1331.8 311.1 1331.9 310.4 1332.2 310C1332.5 309.6 1333.2 309.3 1333.7 309.2C1334.2 309.1 1334.8 309.1 1335.3 309.2C1335.7 309.4 1336.3 309.7 1336.6 310.1C1337 310.5 1337.3 311.1 1337.3 311.7ZM1324.5 326.2C1324.5 326.6 1324.4 327 1324.3 327.4C1324.2 327.8 1324.1 328.3 1323.9 328.6C1323.6 329 1323.2 329.2 1322.9 329.5C1322.6 329.7 1322.2 330 1321.9 330.2C1321.5 330.4 1321.2 330.6 1320.8 330.7C1320.4 330.7 1319.9 330.5 1319.6 330.5C1319.2 330.4 1318.8 330.3 1318.5 330.2C1318.1 330.2 1317.7 330.2 1317.3 330C1317 329.9 1316.7 329.6 1316.3 329.4C1316 329.1 1315.7 328.9 1315.4 328.6C1315.1 328.2 1314.8 327.9 1314.7 327.5C1314.6 327.1 1314.8 326.6 1314.9 326.2C1314.9 325.7 1315.1 325.4 1315.2 325C1315.3 324.6 1315.3 324.2 1315.5 323.8C1315.7 323.4 1316 323.2 1316.2 322.8C1316.5 322.5 1316.8 322.2 1317.1 321.9C1317.4 321.6 1317.8 321.3 1318.2 321.2C1318.6 321.2 1319.2 321.4 1319.6 321.6C1320 321.7 1320.3 321.9 1320.6 322.1C1321 322.2 1321.4 322.3 1321.7 322.5C1322 322.7 1322.2 323 1322.5 323.2C1322.8 323.4 1323.1 323.6 1323.4 323.9C1323.8 324.2 1324.2 324.5 1324.4 324.9C1324.6 325.2 1324.5 325.7 1324.5 326.2ZM1316 300.7C1315.9 301.1 1315.8 301.4 1315.7 301.8C1315.6 302.1 1315.5 302.5 1315.3 302.8C1315 303.1 1314.7 303.3 1314.4 303.5C1314.1 303.7 1313.8 303.8 1313.6 304C1313.3 304.2 1313.1 304.6 1312.7 304.8C1312.4 305 1312 305.1 1311.7 305.1C1311.3 305.2 1310.9 305 1310.5 304.9C1310.2 304.8 1309.8 304.7 1309.4 304.6C1309.1 304.4 1308.7 304.2 1308.4 304C1308.1 303.7 1307.9 303.4 1307.7 303C1307.5 302.7 1307.3 302.3 1307.2 301.9C1307.1 301.5 1306.9 301.1 1307 300.7C1307 300.3 1307.2 299.9 1307.5 299.6C1307.7 299.3 1308.2 299.1 1308.4 298.8C1308.7 298.6 1308.9 298.4 1309.1 298.1C1309.3 297.9 1309.5 297.6 1309.7 297.4C1310 297.1 1310.3 297 1310.6 296.8C1310.9 296.6 1311.3 296.4 1311.7 296.3C1312 296.1 1312.5 296 1312.9 296C1313.3 296.1 1313.7 296.4 1314 296.6C1314.3 296.9 1314.5 297.3 1314.8 297.6C1315 297.9 1315.3 298.2 1315.5 298.5C1315.7 298.8 1316 299.2 1316.1 299.5C1316.1 299.9 1316 300.3 1316 300.7ZM1384.7 312.5C1384.7 313 1384.5 313.4 1384.2 313.9C1384 314.4 1383.7 315.2 1383.2 315.4C1382.7 315.6 1381.9 315.3 1381.4 315.1C1380.9 314.9 1380.3 314.5 1380.1 314.1C1379.8 313.6 1379.9 313 1379.9 312.5C1379.9 312 1379.8 311.3 1380.1 310.9C1380.3 310.4 1380.9 310 1381.4 309.8C1381.9 309.6 1382.6 309.7 1383.1 309.9C1383.6 310.1 1384.2 310.4 1384.5 310.8C1384.8 311.3 1384.8 312 1384.7 312.5ZM1374.5 331.1C1374.6 331.5 1374.7 331.9 1374.7 332.3C1374.7 332.7 1374.7 333.2 1374.6 333.6C1374.4 334 1374.1 334.3 1373.7 334.5C1373.4 334.8 1372.9 334.8 1372.5 334.9C1372.1 335.1 1371.7 335.1 1371.4 335.2C1371 335.3 1370.6 335.5 1370.3 335.6C1369.9 335.6 1369.4 335.6 1369.1 335.5C1368.7 335.4 1368.4 335.2 1368 334.9C1367.7 334.7 1367.5 334.4 1367.2 334.1C1367 333.9 1366.7 333.6 1366.5 333.3C1366.3 332.9 1366.2 332.6 1366.1 332.2C1366 331.8 1366.1 331.5 1366 331.1C1366 330.7 1366 330.4 1366 330C1366.1 329.6 1366 329.1 1366.2 328.7C1366.3 328.4 1366.6 328 1366.9 327.8C1367.2 327.5 1367.7 327.4 1368 327.2C1368.4 327.1 1368.7 326.9 1369.1 326.8C1369.5 326.6 1369.9 326.4 1370.3 326.4C1370.7 326.3 1371.1 326.4 1371.5 326.5C1371.9 326.7 1372.2 327 1372.4 327.3C1372.7 327.6 1372.9 327.9 1373.1 328.2C1373.4 328.5 1373.6 328.8 1373.8 329.1C1374 329.4 1374.1 329.7 1374.2 330C1374.4 330.4 1374.4 330.7 1374.5 331.1ZM1358 338.1C1358 338.6 1357.9 339.2 1357.6 339.6C1357.4 340 1356.9 340.4 1356.4 340.5C1356 340.6 1355.4 340.5 1355 340.3C1354.5 340.1 1354 339.9 1353.7 339.5C1353.5 339.2 1353.5 338.6 1353.5 338.1C1353.5 337.7 1353.4 337.1 1353.6 336.7C1353.9 336.3 1354.4 335.7 1354.8 335.6C1355.3 335.5 1355.9 335.8 1356.3 336C1356.8 336.2 1357.1 336.5 1357.4 336.9C1357.7 337.2 1358 337.7 1358 338.1ZM1346.3 272.7C1346.3 273.2 1346 273.9 1345.6 274.3C1345.2 274.7 1344.6 274.8 1344.1 275C1343.6 275.1 1343.1 275 1342.6 274.9C1342.1 274.8 1341.5 274.7 1341.1 274.3C1340.8 273.9 1340.4 273.2 1340.4 272.7C1340.4 272.1 1340.9 271.5 1341.3 271.2C1341.7 270.8 1342.1 270.6 1342.6 270.4C1343.1 270.2 1343.8 269.9 1344.2 270C1344.7 270.2 1345 270.8 1345.4 271.2C1345.7 271.6 1346.2 272.1 1346.3 272.7ZM1365.8 317.1C1365.7 317.5 1365.5 318 1365.2 318.3C1365 318.7 1364.6 319 1364.2 319.2C1363.7 319.4 1363.2 319.5 1362.7 319.4C1362.2 319.3 1361.6 319 1361.4 318.6C1361.2 318.2 1361.4 317.5 1361.4 317.1C1361.5 316.6 1361.4 316.1 1361.6 315.7C1361.9 315.4 1362.3 315.1 1362.8 314.9C1363.2 314.7 1363.8 314.6 1364.2 314.7C1364.7 314.9 1365.2 315.2 1365.5 315.6C1365.7 316 1365.8 316.6 1365.8 317.1ZM1383.3 290.5C1383.3 291 1383 291.5 1382.8 291.9C1382.5 292.3 1382.1 292.8 1381.7 292.9C1381.3 293 1380.7 292.7 1380.3 292.5C1379.8 292.3 1379.4 292.2 1379.1 291.9C1378.8 291.5 1378.5 291 1378.5 290.5C1378.4 290.1 1378.5 289.4 1378.8 289C1379.1 288.7 1379.8 288.6 1380.2 288.5C1380.7 288.4 1381.1 288.4 1381.6 288.5C1382 288.6 1382.6 288.8 1382.9 289.1C1383.2 289.4 1383.3 290.1 1383.3 290.5ZM1352.3 279.2C1352.3 279.6 1352.1 280.2 1351.8 280.6C1351.6 281 1351 281.3 1350.6 281.4C1350.2 281.5 1349.7 281.3 1349.2 281.2C1348.7 281 1348 281 1347.7 280.7C1347.4 280.4 1347.4 279.6 1347.4 279.2C1347.5 278.7 1347.7 278.1 1348 277.8C1348.2 277.4 1348.7 277.1 1349.2 277C1349.6 276.9 1350.1 276.8 1350.6 277C1351 277.1 1351.5 277.4 1351.8 277.7C1352.1 278.1 1352.3 278.7 1352.3 279.2ZM1325 298.9C1325 299.3 1324.6 299.9 1324.3 300.2C1324 300.6 1323.6 301 1323.1 301.1C1322.7 301.2 1322.2 301 1321.8 300.9C1321.3 300.7 1321 300.5 1320.6 300.2C1320.3 299.8 1319.7 299.3 1319.7 298.9C1319.7 298.4 1320.1 297.7 1320.4 297.4C1320.8 297.1 1321.3 297.1 1321.8 296.9C1322.2 296.8 1322.7 296.5 1323.1 296.6C1323.6 296.7 1324 297.1 1324.3 297.5C1324.6 297.9 1325 298.4 1325 298.9ZM1344.9 301.6C1344.8 302.1 1344.4 302.5 1344.1 302.9C1343.8 303.3 1343.5 303.7 1343.1 303.9C1342.7 304.1 1342 304.2 1341.5 304.1C1341 304 1340.3 303.6 1340.1 303.2C1339.8 302.8 1340 302.1 1340.1 301.6C1340.1 301.1 1340.1 300.6 1340.4 300.2C1340.6 299.8 1341.1 299.3 1341.6 299.2C1342 299 1342.6 299.1 1343.1 299.2C1343.6 299.3 1344.2 299.6 1344.5 300C1344.8 300.4 1344.9 301.1 1344.9 301.6ZM1333.2 271.2C1333.2 271.6 1332.7 272.1 1332.4 272.5C1332.1 272.8 1331.7 273 1331.3 273.2C1330.9 273.4 1330.3 273.7 1329.8 273.6C1329.4 273.5 1328.9 273 1328.7 272.6C1328.4 272.2 1328.3 271.6 1328.3 271.2C1328.3 270.7 1328.6 270.2 1328.8 269.9C1329.1 269.5 1329.5 269.1 1329.9 268.9C1330.3 268.8 1330.9 268.7 1331.4 268.9C1331.8 269 1332.2 269.4 1332.5 269.8C1332.8 270.2 1333.2 270.7 1333.2 271.2ZM1352.5 321.9C1352.5 322.4 1352.6 323 1352.4 323.3C1352.2 323.7 1351.6 324 1351.2 324.1C1350.7 324.3 1350.1 324.3 1349.7 324.2C1349.3 324 1348.9 323.6 1348.6 323.2C1348.4 322.9 1348.2 322.3 1348.2 321.9C1348.2 321.5 1348.4 321 1348.7 320.6C1349 320.3 1349.3 320 1349.8 319.8C1350.2 319.5 1350.9 319.3 1351.3 319.4C1351.7 319.5 1352 320.2 1352.2 320.6C1352.4 321 1352.5 321.5 1352.5 321.9ZM1364.9 291.9C1365 292.4 1364.7 293.2 1364.4 293.6C1364 294 1363.3 294.2 1362.8 294.3C1362.3 294.4 1361.8 294.4 1361.3 294.2C1360.8 294.1 1360.3 293.8 1359.9 293.4C1359.6 293.1 1359.2 292.4 1359.2 291.9C1359.1 291.4 1359.5 290.8 1359.8 290.3C1360.2 289.9 1360.7 289.5 1361.2 289.4C1361.7 289.2 1362.4 289.2 1362.8 289.4C1363.3 289.6 1363.5 290.2 1363.9 290.6C1364.2 291 1364.8 291.4 1364.9 291.9Z" fill="#39adc6"/>
<path d="M1496.5 334.5C1496.4 336.9 1496.5 339.3 1496.2 341.7C1495.9 344 1495.4 346.5 1494.6 348.7C1493.7 350.9 1492.2 352.9 1491 354.9C1489.7 356.9 1488.4 358.8 1487.1 360.7C1485.8 362.7 1484.6 364.8 1483 366.5C1481.4 368.2 1479.4 369.5 1477.5 371C1475.7 372.5 1474 374.4 1471.9 375.5C1469.9 376.7 1467.5 377.4 1465.2 378.1C1462.9 378.8 1460.5 379.3 1458.1 379.6C1455.8 380 1453.4 380.1 1451 380.1C1448.6 380.1 1446.1 380.2 1443.8 379.7C1441.5 379.2 1439.4 378 1437.1 377.2C1434.9 376.4 1432.5 376 1430.4 374.9C1428.3 373.9 1426.6 372.1 1424.6 370.8C1422.6 369.5 1419.9 368.9 1418.3 367.2C1416.7 365.5 1416.2 362.7 1414.8 360.8C1413.4 358.8 1411 357.5 1409.9 355.4C1408.9 353.3 1409.2 350.6 1408.5 348.3C1407.8 346 1406.2 344 1405.7 341.7C1405.3 339.4 1405.7 336.9 1405.8 334.5C1405.9 332.1 1406 329.8 1406.2 327.4C1406.5 325 1406.3 322.4 1407.1 320.2C1408 318.1 1410 316.2 1411.2 314.2C1412.5 312.2 1413.7 310.3 1414.8 308.2C1416 306.2 1416.7 303.6 1418.3 301.8C1419.9 300 1422.2 298.9 1424.2 297.7C1426.3 296.5 1428.6 295.8 1430.7 294.6C1432.8 293.4 1434.5 291.4 1436.7 290.4C1438.8 289.4 1441.4 288.9 1443.8 288.8C1446.1 288.6 1448.6 289.5 1451 289.7C1453.4 289.9 1455.8 289.3 1458.1 289.7C1460.4 290.1 1462.6 291.1 1464.9 291.9C1467.1 292.6 1469.3 293.3 1471.5 294.3C1473.7 295.2 1476 296.1 1477.9 297.5C1479.7 298.9 1481 301.1 1482.7 302.8C1484.4 304.4 1486.8 305.6 1488.1 307.5C1489.4 309.5 1489.9 312 1490.8 314.2C1491.7 316.4 1492.8 318.4 1493.7 320.6C1494.7 322.8 1496 325 1496.5 327.3C1497 329.6 1496.5 332.1 1496.5 334.5Z" fill="#9bdbe2"/><path d="M1420 340.4C1420 340.9 1420.2 341.4 1420.2 341.9C1420.2 342.4 1420 343 1419.8 343.4C1419.5 343.8 1418.9 344 1418.5 344.3C1418.1 344.6 1417.7 344.8 1417.3 345C1416.9 345.3 1416.5 345.7 1416 345.9C1415.6 346.1 1415.1 346.2 1414.6 346.3C1414.1 346.4 1413.5 346.4 1413 346.4C1412.4 346.4 1411.7 346.5 1411.2 346.2C1410.7 346 1410.2 345.5 1409.9 345.1C1409.6 344.6 1409.6 343.9 1409.5 343.3C1409.4 342.8 1409.3 342.3 1409.2 341.8C1409.2 341.3 1409 340.8 1409 340.4C1409.1 339.9 1409.3 339.4 1409.5 339C1409.6 338.6 1409.8 338.2 1410 337.7C1410.2 337.3 1410.3 336.7 1410.5 336.3C1410.8 335.9 1411.2 335.6 1411.7 335.3C1412.1 335.1 1412.6 335 1413.1 334.8C1413.6 334.6 1414 334.3 1414.6 334.1C1415.1 334 1415.8 333.8 1416.3 334C1416.8 334.1 1417.3 334.5 1417.7 334.9C1418.2 335.3 1418.5 335.7 1418.8 336.2C1419.1 336.6 1419.5 337 1419.6 337.4C1419.8 337.9 1419.9 338.4 1419.9 338.9C1420 339.4 1420 339.9 1420 340.4ZM1458.6 338.2C1458.6 338.6 1458.6 339.1 1458.4 339.4C1458.2 339.7 1457.8 340 1457.5 340.3C1457.2 340.5 1456.9 340.7 1456.7 340.9C1456.4 341.1 1456.2 341.4 1455.9 341.5C1455.6 341.7 1455.3 341.7 1454.9 341.8C1454.6 341.9 1454.3 342 1454 342.2C1453.6 342.3 1453.2 342.5 1452.8 342.5C1452.4 342.6 1451.9 342.5 1451.6 342.3C1451.3 342.1 1451.1 341.6 1450.8 341.3C1450.6 341 1450.4 340.7 1450.2 340.4C1450 340 1449.8 339.7 1449.7 339.4C1449.6 339 1449.6 338.6 1449.6 338.2C1449.6 337.8 1449.6 337.4 1449.7 337.1C1449.8 336.7 1449.8 336.2 1450 335.9C1450.2 335.6 1450.6 335.4 1451 335.2C1451.3 335 1451.7 335.1 1452.1 335C1452.4 334.8 1452.7 334.7 1453 334.6C1453.3 334.5 1453.6 334.3 1454 334.2C1454.3 334.2 1454.7 334.2 1455 334.3C1455.4 334.3 1455.7 334.4 1456.1 334.5C1456.5 334.6 1457 334.7 1457.3 334.9C1457.6 335.1 1457.8 335.5 1458 335.9C1458.1 336.3 1458.2 336.7 1458.3 337C1458.4 337.4 1458.6 337.8 1458.6 338.2ZM1450.7 375C1450.6 375.5 1450.6 376 1450.4 376.5C1450.3 377 1450 377.4 1449.7 377.8C1449.4 378.2 1449.1 378.5 1448.7 378.9C1448.4 379.3 1448.2 379.8 1447.8 380.1C1447.4 380.4 1446.9 380.7 1446.4 380.8C1445.9 380.9 1445.3 380.7 1444.8 380.6C1444.3 380.6 1443.9 380.5 1443.4 380.5C1442.8 380.4 1442.2 380.5 1441.7 380.4C1441.2 380.2 1440.6 380 1440.2 379.6C1439.8 379.3 1439.4 378.8 1439 378.3C1438.7 377.9 1438.3 377.3 1438.2 376.8C1438.1 376.2 1438.3 375.5 1438.5 375C1438.7 374.5 1439.2 374 1439.5 373.6C1439.8 373.1 1440.1 372.8 1440.3 372.4C1440.5 372 1440.7 371.5 1440.9 371.1C1441.2 370.7 1441.7 370.5 1442.1 370.2C1442.5 369.9 1442.9 369.7 1443.4 369.5C1443.8 369.3 1444.3 368.9 1444.8 368.8C1445.3 368.7 1445.9 368.8 1446.5 369C1447 369.1 1447.4 369.4 1447.9 369.7C1448.4 369.9 1449 370.1 1449.4 370.4C1449.9 370.7 1450.5 371.1 1450.7 371.6C1450.9 372.1 1450.9 372.8 1450.9 373.4C1450.9 373.9 1450.7 374.5 1450.7 375ZM1430.4 314.3C1430.4 314.8 1429.9 315.4 1429.7 315.9C1429.4 316.4 1429.1 316.8 1428.8 317.2C1428.5 317.7 1428.3 318.2 1427.9 318.5C1427.5 318.8 1426.9 318.9 1426.5 319.1C1426 319.2 1425.5 319.3 1425.1 319.5C1424.6 319.6 1424.1 319.8 1423.7 319.8C1423.2 319.8 1422.8 319.5 1422.3 319.4C1421.9 319.2 1421.4 319.2 1420.9 319.1C1420.4 318.9 1419.7 318.9 1419.3 318.6C1418.9 318.3 1418.6 317.8 1418.4 317.3C1418.1 316.9 1417.9 316.4 1417.8 315.9C1417.6 315.3 1417.5 314.8 1417.6 314.3C1417.6 313.8 1418 313.3 1418.2 312.8C1418.4 312.3 1418.6 311.9 1418.7 311.4C1418.9 310.9 1419 310.3 1419.3 309.9C1419.6 309.5 1420.1 309.2 1420.6 309C1421.1 308.7 1421.6 308.6 1422.1 308.5C1422.7 308.4 1423.2 308.4 1423.7 308.5C1424.2 308.7 1424.6 309.1 1425 309.4C1425.4 309.6 1425.7 309.8 1426.2 309.9C1426.6 310.1 1427.2 310.1 1427.6 310.3C1428.1 310.5 1428.4 310.9 1428.8 311.3C1429.2 311.7 1429.6 312.1 1429.8 312.6C1430.1 313.1 1430.4 313.7 1430.4 314.3ZM1473.2 358.4C1473.2 359 1472.3 359.6 1471.9 360.1C1471.4 360.6 1471 361.1 1470.4 361.4C1469.8 361.6 1469 361.8 1468.4 361.6C1467.8 361.5 1467.1 360.9 1466.7 360.4C1466.3 359.9 1466.1 359 1466.1 358.4C1466.1 357.7 1466.4 357 1466.8 356.5C1467.2 356 1467.9 355.6 1468.5 355.4C1469.1 355.2 1469.9 355.1 1470.5 355.3C1471.1 355.4 1471.7 355.9 1472.1 356.5C1472.6 357 1473.3 357.8 1473.2 358.4ZM1488.4 351.5C1488.5 352.3 1488.3 353.2 1487.9 353.9C1487.5 354.6 1486.8 355.4 1486 355.7C1485.2 356 1484.1 355.9 1483.3 355.5C1482.6 355.2 1481.9 354.5 1481.5 353.8C1481 353.2 1480.7 352.3 1480.7 351.5C1480.7 350.8 1481.1 349.9 1481.5 349.3C1482 348.6 1482.6 347.9 1483.4 347.6C1484.1 347.2 1485.4 346.8 1486.1 347.1C1486.8 347.4 1487.2 348.6 1487.6 349.4C1488 350.1 1488.4 350.8 1488.4 351.5ZM1419.5 358.1C1419.4 358.6 1419 359.1 1418.6 359.6C1418.2 360 1417.9 360.4 1417.3 360.6C1416.8 360.8 1416.1 361.1 1415.6 360.9C1415 360.8 1414.4 360.3 1414.1 359.8C1413.8 359.3 1413.6 358.6 1413.6 358.1C1413.7 357.5 1414.1 357 1414.4 356.6C1414.8 356.1 1415.1 355.4 1415.6 355.3C1416.1 355.1 1416.8 355.3 1417.4 355.5C1417.9 355.6 1418.7 355.8 1419 356.2C1419.4 356.7 1419.6 357.5 1419.5 358.1ZM1450.7 324.8C1450.8 325.4 1451.1 326.5 1450.7 327C1450.4 327.5 1449.3 327.8 1448.6 327.9C1448 328 1447.2 328 1446.6 327.8C1446 327.6 1445.5 327.1 1445.1 326.6C1444.6 326.1 1444.2 325.4 1444.1 324.8C1444.1 324.1 1444.4 323.2 1444.8 322.7C1445.2 322.2 1446 321.8 1446.6 321.7C1447.3 321.5 1448.1 321.3 1448.7 321.5C1449.3 321.7 1449.9 322.3 1450.2 322.9C1450.6 323.4 1450.6 324.1 1450.7 324.8ZM1466.5 308.1C1466.4 308.5 1466.2 308.7 1466.2 309.1C1466.1 309.4 1466.2 309.8 1466.2 310.2C1466.1 310.6 1466.1 311.2 1465.9 311.5C1465.7 311.8 1465.3 312.1 1465 312.3C1464.6 312.5 1464.2 312.5 1463.8 312.6C1463.4 312.7 1462.9 312.8 1462.6 312.8C1462.2 312.7 1461.8 312.6 1461.4 312.5C1461 312.3 1460.7 312.1 1460.3 312C1460 311.8 1459.5 311.7 1459.2 311.5C1458.8 311.3 1458.4 311 1458.3 310.6C1458.1 310.2 1458.2 309.7 1458.2 309.3C1458.2 308.9 1458.3 308.5 1458.4 308.1C1458.4 307.8 1458.4 307.4 1458.6 307.1C1458.7 306.7 1458.9 306.4 1459.1 306.1C1459.3 305.8 1459.5 305.6 1459.7 305.3C1459.9 305 1460.1 304.6 1460.3 304.3C1460.6 304 1461 303.7 1461.3 303.6C1461.7 303.4 1462.1 303.5 1462.6 303.4C1463 303.4 1463.4 303.4 1463.8 303.4C1464.2 303.4 1464.8 303.4 1465.1 303.6C1465.5 303.9 1465.8 304.3 1466 304.6C1466.2 305 1466.3 305.5 1466.4 305.9C1466.5 306.3 1466.6 306.7 1466.6 307C1466.6 307.4 1466.5 307.8 1466.5 308.1ZM1492.2 329C1492.2 329.4 1491.9 329.7 1491.7 330.1C1491.6 330.4 1491.4 330.7 1491.2 331.1C1491.1 331.4 1491 331.8 1490.7 332.1C1490.5 332.4 1490.2 332.6 1489.8 332.8C1489.5 333 1489.1 333 1488.8 333.1C1488.4 333.2 1488 333.4 1487.7 333.3C1487.3 333.3 1486.9 333.2 1486.6 333C1486.3 332.8 1486 332.5 1485.8 332.3C1485.5 332.1 1485.2 331.9 1484.9 331.7C1484.7 331.5 1484.3 331.3 1484.1 331C1483.9 330.8 1483.9 330.4 1483.8 330C1483.7 329.7 1483.7 329.4 1483.7 329C1483.6 328.6 1483.5 328.3 1483.5 327.9C1483.6 327.5 1483.7 327.1 1483.8 326.8C1484 326.5 1484.3 326.2 1484.5 325.9C1484.8 325.6 1485 325.2 1485.3 325C1485.7 324.7 1486.1 324.5 1486.5 324.5C1486.8 324.5 1487.3 324.8 1487.7 324.9C1488 325.1 1488.3 325.3 1488.6 325.5C1488.9 325.6 1489.2 325.7 1489.5 325.8C1489.8 325.9 1490.1 326.1 1490.4 326.3C1490.6 326.5 1490.8 326.8 1491.1 327C1491.4 327.3 1491.7 327.5 1491.9 327.9C1492.1 328.2 1492.2 328.6 1492.2 329ZM1496.4 341.8C1496.4 342.2 1496.3 342.6 1496.1 343C1495.9 343.3 1495.6 343.6 1495.3 343.9C1495.1 344.2 1494.8 344.4 1494.5 344.7C1494.3 344.9 1494 345.2 1493.7 345.4C1493.4 345.7 1493.1 345.9 1492.8 346C1492.4 346.1 1492 346 1491.6 346C1491.2 346 1490.9 346 1490.5 345.9C1490.1 345.9 1489.7 346 1489.2 345.9C1488.8 345.8 1488.3 345.7 1487.9 345.5C1487.6 345.2 1487.3 344.8 1487.1 344.4C1486.9 344 1486.9 343.5 1486.9 343C1486.9 342.6 1486.9 342.2 1487 341.8C1487.2 341.4 1487.4 341 1487.6 340.7C1487.8 340.4 1488.1 340.1 1488.3 339.8C1488.5 339.6 1488.7 339.3 1488.9 339C1489 338.7 1489.2 338.2 1489.4 337.9C1489.7 337.6 1490 337.2 1490.4 337.1C1490.7 336.9 1491.2 337 1491.6 337C1492 337.1 1492.4 337.3 1492.8 337.4C1493.2 337.5 1493.5 337.6 1493.9 337.8C1494.3 338 1494.7 338.1 1495 338.4C1495.3 338.6 1495.6 339 1495.7 339.4C1495.9 339.7 1496.1 340.1 1496.2 340.5C1496.3 340.9 1496.4 341.4 1496.4 341.8ZM1434 331.9C1433.9 332.3 1433.5 332.6 1433.4 332.9C1433.2 333.3 1433.1 333.5 1433 333.9C1432.9 334.2 1433 334.7 1432.8 335C1432.6 335.4 1432.3 335.6 1432 335.9C1431.7 336.1 1431.3 336.4 1430.9 336.6C1430.6 336.7 1430.1 337 1429.7 337C1429.3 337 1428.9 336.7 1428.5 336.6C1428.1 336.4 1427.7 336.3 1427.3 336.1C1426.9 335.9 1426.5 335.7 1426.2 335.4C1426 335.1 1425.9 334.6 1425.8 334.2C1425.7 333.8 1425.6 333.4 1425.6 333.1C1425.5 332.7 1425.4 332.3 1425.5 331.9C1425.5 331.6 1425.8 331.3 1425.9 330.9C1426 330.6 1426 330.2 1426.1 329.9C1426.2 329.5 1426.2 329 1426.4 328.7C1426.7 328.4 1427.1 328.2 1427.4 328C1427.8 327.8 1428.1 327.6 1428.5 327.5C1428.9 327.4 1429.3 327.2 1429.7 327.2C1430.1 327.2 1430.5 327.5 1430.9 327.6C1431.3 327.7 1431.7 327.7 1432.1 327.9C1432.5 328 1433 328.1 1433.3 328.3C1433.6 328.6 1433.8 329.1 1433.9 329.5C1434 329.9 1434.1 330.4 1434.1 330.8C1434.1 331.2 1434.1 331.6 1434 331.9ZM1478.8 340C1478.8 340.8 1478.1 341.7 1477.5 342.3C1476.9 342.9 1476.2 343.4 1475.5 343.6C1474.7 343.8 1473.9 343.8 1473.1 343.7C1472.3 343.5 1471.1 343.3 1470.6 342.6C1470.1 342 1470.1 340.8 1470.2 340C1470.2 339.1 1470.4 338.1 1470.9 337.5C1471.3 336.9 1472.3 336.4 1473.1 336.2C1473.8 336.1 1474.6 336.3 1475.4 336.5C1476.2 336.7 1477.3 336.8 1477.8 337.4C1478.4 338 1478.9 339.2 1478.8 340ZM1461.9 357.9C1461.8 358.3 1461.8 358.7 1461.7 359.1C1461.6 359.5 1461.6 359.9 1461.4 360.3C1461.1 360.6 1460.7 360.8 1460.4 361C1460 361.3 1459.7 361.5 1459.4 361.7C1459.1 361.9 1458.7 362.1 1458.4 362.2C1458 362.3 1457.6 362.2 1457.2 362.2C1456.8 362.3 1456.4 362.4 1455.9 362.5C1455.5 362.5 1454.9 362.7 1454.5 362.5C1454 362.4 1453.7 362 1453.4 361.7C1453 361.3 1452.8 360.9 1452.6 360.5C1452.4 360.1 1452.3 359.6 1452.3 359.2C1452.4 358.7 1452.7 358.3 1452.8 357.9C1453 357.5 1453 357.1 1453.1 356.8C1453.2 356.4 1453.1 355.9 1453.2 355.6C1453.4 355.2 1453.7 354.9 1453.9 354.6C1454.2 354.3 1454.5 354 1454.8 353.7C1455.1 353.5 1455.5 353.2 1455.9 353.1C1456.3 353 1456.8 353.2 1457.2 353.2C1457.6 353.3 1458 353.3 1458.4 353.3C1458.8 353.4 1459.3 353.3 1459.7 353.5C1460.1 353.7 1460.4 354 1460.7 354.3C1461 354.6 1461.3 355 1461.6 355.3C1461.8 355.7 1462.1 356.1 1462.1 356.5C1462.2 357 1462 357.4 1461.9 357.9ZM1476.5 372.5C1476.5 372.9 1476.6 373.2 1476.6 373.6C1476.6 373.9 1476.6 374.4 1476.4 374.7C1476.3 375 1475.9 375.3 1475.6 375.5C1475.3 375.7 1475 375.8 1474.7 376C1474.3 376.1 1474.1 376.3 1473.7 376.5C1473.4 376.6 1473 376.6 1472.7 376.7C1472.3 376.7 1471.9 376.6 1471.6 376.6C1471.2 376.6 1470.7 376.7 1470.3 376.6C1469.9 376.4 1469.5 376.3 1469.2 376C1469 375.6 1468.9 375.1 1468.8 374.7C1468.8 374.3 1468.9 373.9 1468.9 373.5C1468.9 373.2 1468.8 372.8 1468.8 372.5C1468.9 372.2 1469 371.9 1469.1 371.5C1469.1 371.2 1469.3 371 1469.4 370.6C1469.5 370.3 1469.5 369.9 1469.7 369.6C1469.9 369.2 1470.1 368.9 1470.4 368.6C1470.7 368.4 1471.2 368.4 1471.5 368.3C1471.9 368.2 1472.3 368.2 1472.7 368.2C1473 368.1 1473.5 368 1473.8 368.1C1474.2 368.1 1474.6 368.4 1474.9 368.6C1475.2 368.9 1475.4 369.2 1475.6 369.5C1475.9 369.8 1476.1 370.1 1476.3 370.4C1476.4 370.7 1476.5 371.1 1476.6 371.5C1476.6 371.8 1476.5 372.2 1476.5 372.5ZM1441.6 353.2C1441.6 353.8 1441.3 354.4 1441 354.8C1440.7 355.3 1440.3 355.8 1439.7 356.1C1439.2 356.3 1438.3 356.5 1437.8 356.3C1437.3 356 1437 355.3 1436.7 354.8C1436.5 354.3 1436.4 353.8 1436.3 353.2C1436.3 352.7 1436 351.9 1436.3 351.4C1436.5 351 1437.3 350.7 1437.9 350.5C1438.5 350.3 1439.2 350.2 1439.7 350.4C1440.2 350.6 1440.7 351.2 1441 351.7C1441.3 352.1 1441.6 352.7 1441.6 353.2ZM1442.1 317.8C1442.1 318.2 1442 318.6 1442 319.1C1441.9 319.5 1442 320.1 1441.8 320.5C1441.7 321 1441.4 321.5 1441.1 321.8C1440.7 322.1 1440.2 322.2 1439.7 322.4C1439.2 322.5 1438.7 322.4 1438.3 322.5C1437.9 322.5 1437.5 322.5 1437 322.5C1436.6 322.5 1436.2 322.4 1435.8 322.3C1435.4 322.2 1435 322.1 1434.7 321.9C1434.3 321.7 1433.9 321.5 1433.5 321.3C1433.2 321 1432.7 320.8 1432.4 320.4C1432.2 320 1432 319.6 1431.9 319.1C1431.9 318.7 1432.1 318.2 1432.2 317.8C1432.2 317.3 1432.4 317 1432.4 316.5C1432.5 316.1 1432.5 315.6 1432.6 315.2C1432.7 314.7 1432.8 314.2 1433.1 313.8C1433.4 313.5 1433.9 313.2 1434.3 313C1434.7 312.8 1435.2 312.8 1435.7 312.7C1436.2 312.7 1436.6 312.6 1437 312.7C1437.5 312.7 1437.9 312.9 1438.3 313C1438.7 313.2 1439 313.5 1439.4 313.7C1439.7 314 1440 314.2 1440.3 314.5C1440.6 314.7 1441.1 315 1441.3 315.3C1441.6 315.6 1441.9 316 1442 316.4C1442.1 316.8 1442.1 317.3 1442.1 317.8ZM1450.6 300.5C1450.7 301.1 1451 302 1450.7 302.5C1450.4 302.9 1449.4 303 1448.8 303.1C1448.2 303.2 1447.7 303.1 1447.2 303C1446.7 302.8 1446.2 302.5 1445.8 302.1C1445.4 301.6 1445 301 1444.9 300.5C1444.9 299.9 1445.2 299.2 1445.6 298.7C1445.9 298.3 1446.5 298 1447.1 297.8C1447.6 297.6 1448.3 297.6 1448.8 297.8C1449.3 298 1449.8 298.5 1450.1 298.9C1450.4 299.4 1450.5 299.9 1450.6 300.5ZM1491.1 308.4C1491.1 308.9 1491.1 309.4 1491 309.8C1490.9 310.3 1490.7 310.7 1490.4 311.1C1490.2 311.6 1490 312 1489.7 312.4C1489.3 312.7 1489 313.1 1488.5 313.3C1488.1 313.4 1487.5 313.3 1487 313.2C1486.5 313.2 1486.1 313 1485.7 312.9C1485.3 312.8 1484.9 312.9 1484.5 312.8C1484.1 312.7 1483.7 312.7 1483.4 312.5C1483 312.4 1482.6 312.1 1482.3 311.9C1481.9 311.6 1481.4 311.4 1481.1 311.1C1480.8 310.8 1480.4 310.3 1480.3 309.9C1480.3 309.4 1480.4 308.9 1480.5 308.4C1480.6 308 1480.8 307.6 1480.9 307.1C1481 306.7 1480.9 306.2 1481.1 305.8C1481.3 305.3 1481.5 304.9 1481.9 304.6C1482.2 304.3 1482.7 304 1483.1 303.8C1483.5 303.6 1483.9 303.4 1484.3 303.3C1484.8 303.2 1485.3 303.2 1485.7 303.3C1486.1 303.5 1486.5 303.8 1486.9 304C1487.3 304.2 1487.6 304.3 1488 304.5C1488.4 304.7 1488.8 304.7 1489.2 305C1489.5 305.2 1489.8 305.6 1490 305.9C1490.3 306.3 1490.4 306.7 1490.5 307.1C1490.7 307.5 1491 308 1491.1 308.4ZM1437.5 368.2C1437.4 368.8 1436.9 369.4 1436.5 369.9C1436.1 370.4 1435.7 370.9 1435.2 371.2C1434.6 371.5 1433.7 371.8 1433.1 371.6C1432.5 371.4 1431.9 370.7 1431.6 370.1C1431.2 369.6 1430.9 368.8 1430.9 368.2C1431 367.6 1431.5 367 1431.8 366.5C1432.2 366 1432.6 365.3 1433.2 365.1C1433.7 364.9 1434.5 365 1435.2 365.2C1435.8 365.3 1436.6 365.7 1437 366.2C1437.4 366.7 1437.6 367.6 1437.5 368.2ZM1463.8 377.4C1463.8 377.8 1463.6 378.2 1463.5 378.6C1463.4 378.9 1463.2 379.3 1463.1 379.7C1462.9 380.1 1462.8 380.5 1462.6 380.9C1462.3 381.2 1461.9 381.5 1461.5 381.6C1461.2 381.8 1460.7 381.8 1460.3 381.9C1459.9 381.9 1459.5 382.1 1459.1 382.2C1458.6 382.3 1458.2 382.5 1457.7 382.4C1457.3 382.4 1456.8 382.3 1456.4 382.1C1455.9 381.9 1455.5 381.6 1455.2 381.3C1454.8 380.9 1454.4 380.6 1454.3 380.1C1454.2 379.7 1454.3 379.1 1454.4 378.6C1454.5 378.2 1454.8 377.7 1454.9 377.4C1455 377 1455 376.7 1455.1 376.3C1455.1 375.9 1455.1 375.5 1455.2 375.1C1455.3 374.8 1455.5 374.4 1455.8 374.1C1456 373.7 1456.2 373.3 1456.5 373C1456.8 372.6 1457.2 372.2 1457.7 372.1C1458.1 371.9 1458.6 372 1459.1 372.1C1459.5 372.2 1459.9 372.4 1460.4 372.5C1460.8 372.6 1461.3 372.6 1461.7 372.8C1462.1 373 1462.5 373.3 1462.8 373.7C1463 374 1463.1 374.5 1463.2 375C1463.4 375.4 1463.5 375.7 1463.6 376.1C1463.7 376.6 1463.8 377 1463.8 377.4ZM1432.2 350C1432.1 350.4 1431.9 350.7 1431.7 351.1C1431.5 351.4 1431.4 351.8 1431.2 352C1430.9 352.3 1430.6 352.4 1430.3 352.7C1430 352.9 1429.8 353.1 1429.6 353.3C1429.3 353.6 1429 353.9 1428.7 354C1428.4 354.1 1428 354 1427.6 354.1C1427.3 354.1 1426.9 354.1 1426.5 354.1C1426.1 354.1 1425.7 354.1 1425.3 354C1424.9 353.9 1424.6 353.5 1424.3 353.3C1424 353 1423.7 352.7 1423.5 352.3C1423.3 352 1423.1 351.6 1423.1 351.2C1423.1 350.8 1423.3 350.4 1423.5 350C1423.6 349.6 1423.7 349.3 1423.8 348.9C1423.9 348.6 1423.9 348.2 1424 347.9C1424.2 347.6 1424.5 347.3 1424.7 347.1C1425 346.8 1425.2 346.5 1425.5 346.3C1425.8 346 1426.1 345.8 1426.5 345.7C1426.8 345.7 1427.3 345.9 1427.6 345.9C1428 346 1428.3 346.1 1428.7 346.2C1429 346.2 1429.4 346.2 1429.8 346.3C1430.1 346.4 1430.4 346.7 1430.7 346.9C1431.1 347.1 1431.5 347.3 1431.8 347.6C1432.1 347.9 1432.4 348.3 1432.5 348.7C1432.6 349.1 1432.3 349.6 1432.2 350ZM1449.2 310.3C1449.1 311 1448.6 311.5 1448.2 312.1C1447.8 312.6 1447.4 313.3 1446.8 313.6C1446.2 313.8 1445.4 313.6 1444.7 313.4C1444 313.3 1443.2 312.9 1442.8 312.4C1442.4 311.9 1442 311 1442.1 310.3C1442.1 309.6 1442.6 308.9 1443.1 308.4C1443.5 307.9 1444.1 307.5 1444.8 307.3C1445.4 307.1 1446.1 307 1446.7 307.2C1447.4 307.3 1448.5 307.5 1448.9 308C1449.3 308.5 1449.3 309.6 1449.2 310.3ZM1462.4 320.6C1462.3 321.2 1462.2 321.7 1461.9 322.2C1461.6 322.7 1461.2 323.2 1460.6 323.5C1460.1 323.8 1459.2 324 1458.6 323.9C1458.1 323.7 1457.7 322.8 1457.4 322.3C1457.1 321.8 1457 321.2 1456.9 320.6C1456.9 320.1 1457 319.3 1457.3 318.9C1457.6 318.4 1458.2 318.2 1458.8 318C1459.4 317.7 1460.1 317.4 1460.7 317.6C1461.3 317.7 1461.9 318.3 1462.2 318.8C1462.5 319.3 1462.5 320.1 1462.4 320.6ZM1479.8 323.4C1479.8 324.1 1479.3 324.8 1478.8 325.4C1478.4 326.1 1478 326.9 1477.3 327.2C1476.6 327.6 1475.4 327.8 1474.7 327.5C1474 327.2 1473.5 326.2 1473.1 325.5C1472.7 324.8 1472.3 324.1 1472.3 323.4C1472.3 322.7 1472.6 321.9 1473 321.2C1473.4 320.5 1474 319.6 1474.7 319.3C1475.4 319.1 1476.4 319.4 1477.2 319.7C1478 320 1478.8 320.4 1479.2 321C1479.7 321.6 1479.9 322.6 1479.8 323.4ZM1427.5 370.4C1427.5 371.2 1427 372.2 1426.4 372.8C1425.9 373.4 1425.1 373.8 1424.4 374C1423.6 374.3 1422.7 374.3 1422 374.1C1421.2 373.9 1420.4 373.5 1419.8 372.9C1419.3 372.2 1418.6 371.2 1418.7 370.4C1418.7 369.7 1419.6 368.9 1420.2 368.2C1420.7 367.6 1421.3 367 1422 366.7C1422.7 366.5 1423.7 366.4 1424.4 366.6C1425.2 366.8 1425.9 367.4 1426.4 368.1C1427 368.7 1427.5 369.6 1427.5 370.4ZM1445.3 339.8C1445.3 340.4 1445 341.2 1444.6 341.6C1444.2 342.1 1443.5 342.1 1442.9 342.3C1442.4 342.5 1441.7 342.8 1441.2 342.6C1440.7 342.5 1440.1 342 1439.8 341.6C1439.4 341.1 1439.2 340.4 1439.2 339.8C1439.2 339.2 1439.2 338.4 1439.5 338C1439.9 337.5 1440.7 337.3 1441.3 337.2C1441.8 337.1 1442.4 337.1 1443 337.3C1443.5 337.4 1444.1 337.7 1444.5 338.1C1444.9 338.6 1445.3 339.3 1445.3 339.8ZM1485.3 363.3C1485.3 363.6 1485.1 364 1485 364.3C1484.9 364.7 1484.8 365 1484.6 365.4C1484.5 365.7 1484.4 366.2 1484.2 366.5C1483.9 366.8 1483.6 367.1 1483.3 367.3C1482.9 367.5 1482.5 367.6 1482.1 367.7C1481.7 367.8 1481.3 367.9 1480.9 367.8C1480.5 367.7 1480.2 367.5 1479.9 367.3C1479.6 367 1479.4 366.6 1479.1 366.4C1478.9 366.1 1478.7 366 1478.4 365.8C1478.1 365.6 1477.7 365.5 1477.4 365.3C1477.1 365.1 1476.8 364.7 1476.7 364.4C1476.5 364.1 1476.4 363.7 1476.3 363.3C1476.2 362.9 1476.2 362.4 1476.3 362C1476.4 361.6 1476.7 361.3 1477 361C1477.3 360.7 1477.7 360.5 1478 360.3C1478.3 360.1 1478.5 359.8 1478.8 359.6C1479.1 359.4 1479.4 359.1 1479.8 359C1480.1 358.9 1480.6 359 1480.9 359C1481.3 359 1481.6 359.1 1482 359.2C1482.4 359.3 1482.7 359.4 1483 359.6C1483.3 359.8 1483.6 360.1 1483.8 360.3C1484.1 360.6 1484.2 361 1484.4 361.3C1484.6 361.6 1484.9 361.8 1485 362.2C1485.2 362.5 1485.3 362.9 1485.3 363.3ZM1479.1 299C1479.1 299.5 1479.1 300.1 1478.9 300.6C1478.7 301.1 1478.4 301.6 1478 302C1477.6 302.3 1477 302.5 1476.6 302.8C1476.2 303.1 1476 303.5 1475.6 303.8C1475.2 304.1 1474.8 304.5 1474.3 304.6C1473.9 304.7 1473.3 304.6 1472.8 304.5C1472.3 304.5 1471.8 304.6 1471.4 304.4C1470.9 304.3 1470.5 304 1470.1 303.7C1469.8 303.4 1469.6 302.9 1469.2 302.6C1468.9 302.3 1468.4 302.1 1468 301.8C1467.7 301.4 1467.2 301 1467 300.6C1466.8 300.1 1466.8 299.5 1466.7 299C1466.7 298.5 1466.5 297.9 1466.7 297.3C1466.8 296.8 1467.1 296.3 1467.4 295.9C1467.8 295.5 1468.4 295.3 1468.8 295C1469.2 294.6 1469.5 294.2 1470 294C1470.4 293.8 1470.9 293.5 1471.4 293.5C1471.9 293.5 1472.4 293.7 1472.8 293.8C1473.3 293.9 1473.8 293.8 1474.2 293.9C1474.6 294 1475.1 294.2 1475.5 294.4C1475.9 294.7 1476.1 295.1 1476.5 295.3C1476.9 295.6 1477.5 295.7 1477.9 296.1C1478.3 296.4 1478.8 296.9 1479 297.3C1479.2 297.8 1479.1 298.4 1479.1 299ZM1415 323.1C1415 323.4 1414.8 323.8 1414.7 324.1C1414.5 324.4 1414.2 324.7 1414 325C1413.8 325.2 1413.6 325.5 1413.4 325.8C1413.2 326 1413.1 326.4 1412.8 326.7C1412.6 327 1412.2 327.3 1411.9 327.4C1411.5 327.6 1411.1 327.6 1410.7 327.5C1410.3 327.5 1409.9 327.4 1409.6 327.3C1409.2 327.2 1408.8 327 1408.5 326.9C1408.2 326.7 1407.9 326.4 1407.7 326.1C1407.4 325.8 1407.3 325.5 1407.1 325.2C1406.9 324.9 1406.7 324.5 1406.5 324.2C1406.4 323.8 1406.2 323.4 1406.2 323.1C1406.2 322.7 1406.3 322.3 1406.5 321.9C1406.7 321.6 1407.1 321.4 1407.4 321.1C1407.6 320.9 1407.9 320.7 1408.1 320.5C1408.4 320.2 1408.5 319.9 1408.8 319.7C1409 319.4 1409.3 319.1 1409.6 319C1409.9 318.8 1410.3 318.7 1410.7 318.7C1411.1 318.6 1411.5 318.6 1411.9 318.7C1412.3 318.8 1412.7 318.8 1413 319C1413.4 319.2 1413.7 319.5 1413.9 319.9C1414.2 320.2 1414.3 320.6 1414.4 320.9C1414.6 321.3 1414.7 321.6 1414.8 322C1414.9 322.3 1415 322.7 1415 323.1ZM1438 296.4C1438 296.9 1437.8 297.4 1437.6 297.9C1437.5 298.3 1437.2 298.7 1437 299.2C1436.8 299.6 1436.8 300.2 1436.5 300.7C1436.3 301.2 1436 301.8 1435.6 302.1C1435.1 302.4 1434.5 302.5 1433.9 302.6C1433.4 302.6 1432.8 302.5 1432.3 302.5C1431.8 302.4 1431.2 302.3 1430.8 302.1C1430.3 301.9 1429.9 301.5 1429.6 301.1C1429.2 300.8 1429 300.4 1428.7 300C1428.4 299.7 1428 299.4 1427.7 299.1C1427.4 298.7 1427.1 298.3 1427 297.9C1426.8 297.4 1426.9 296.9 1426.9 296.4C1426.9 296 1426.8 295.5 1426.8 295C1426.8 294.4 1426.7 293.8 1426.8 293.3C1427 292.8 1427.3 292.2 1427.7 291.9C1428.1 291.5 1428.6 291.2 1429.1 291C1429.6 290.7 1430.1 290.5 1430.7 290.4C1431.2 290.4 1431.8 290.5 1432.3 290.7C1432.8 290.9 1433.2 291.3 1433.6 291.5C1434 291.7 1434.4 291.8 1434.9 291.9C1435.4 292.1 1435.9 292.1 1436.3 292.4C1436.7 292.7 1437 293.1 1437.3 293.6C1437.5 294 1437.6 294.5 1437.7 295C1437.9 295.5 1438 296 1438 296.4ZM1466.1 331.6C1466.1 332.2 1465.3 332.9 1464.9 333.4C1464.4 333.9 1463.9 334.4 1463.3 334.7C1462.7 334.9 1461.9 334.9 1461.3 334.7C1460.7 334.5 1460.1 334 1459.7 333.5C1459.2 333 1458.7 332.2 1458.7 331.6C1458.7 330.9 1459.1 330 1459.5 329.5C1459.9 329 1460.7 328.8 1461.3 328.6C1462 328.4 1462.7 328.4 1463.3 328.6C1463.9 328.7 1464.5 329.1 1465 329.6C1465.5 330.1 1466.2 330.9 1466.1 331.6ZM1465.6 292.6C1465.6 293.1 1465.4 293.8 1465.1 294.3C1464.9 294.7 1464.4 295.4 1463.8 295.6C1463.3 295.7 1462.6 295.4 1462 295.2C1461.5 295 1460.7 294.8 1460.4 294.4C1460.1 294 1460 293.2 1460.1 292.6C1460.1 292.1 1460.5 291.6 1460.8 291.1C1461.1 290.6 1461.4 290 1461.9 289.7C1462.5 289.5 1463.3 289.4 1463.8 289.7C1464.4 289.9 1464.8 290.5 1465.1 291C1465.4 291.5 1465.6 292.1 1465.6 292.6ZM1467 347.1C1467 347.8 1466.2 348.6 1465.7 349.2C1465.2 349.8 1464.7 350.4 1464 350.7C1463.3 351 1462.4 351.1 1461.6 350.9C1460.8 350.8 1459.5 350.4 1459.1 349.8C1458.7 349.1 1459 347.9 1459.1 347.1C1459.3 346.3 1459.5 345.6 1459.9 345C1460.3 344.3 1460.9 343.5 1461.6 343.2C1462.3 342.9 1463.3 343.1 1464.1 343.3C1464.8 343.6 1465.7 344 1466.2 344.7C1466.7 345.3 1467.1 346.3 1467 347.1ZM1450.1 290.8C1450.1 291.6 1450 292.5 1449.5 293C1449.1 293.5 1448.2 293.5 1447.5 293.7C1446.8 293.9 1446.1 294.4 1445.4 294.3C1444.7 294.2 1443.7 293.8 1443.3 293.2C1442.9 292.6 1442.9 291.5 1443 290.8C1443.1 290.1 1443.5 289.4 1443.9 288.9C1444.4 288.4 1444.9 288 1445.5 287.7C1446.2 287.4 1447.1 287.1 1447.7 287.2C1448.4 287.4 1449.2 288 1449.6 288.6C1450 289.2 1450.1 290.1 1450.1 290.8ZM1449.8 362.1C1449.8 362.8 1449.5 363.7 1449 364.3C1448.6 364.9 1447.8 365.3 1447.1 365.5C1446.4 365.8 1445.5 365.8 1444.8 365.7C1444.1 365.5 1443.3 365 1442.8 364.4C1442.3 363.8 1441.8 362.8 1441.8 362.1C1441.9 361.4 1442.6 360.6 1443.1 360C1443.7 359.5 1444.2 359.1 1444.9 358.8C1445.6 358.5 1446.6 357.9 1447.3 358.1C1448 358.3 1448.6 359.2 1449 359.9C1449.5 360.5 1449.8 361.3 1449.8 362.1ZM1412 352.4C1412 353 1412.1 353.6 1411.9 354.1C1411.6 354.6 1411 355.2 1410.5 355.4C1410 355.6 1409.2 355.3 1408.7 355.1C1408.1 354.9 1407.5 354.6 1407.2 354.1C1406.9 353.7 1406.8 353 1406.8 352.4C1406.8 351.9 1407.1 351.3 1407.3 350.8C1407.6 350.3 1408.1 349.8 1408.6 349.6C1409.1 349.4 1409.9 349.4 1410.5 349.6C1411 349.7 1411.7 350.2 1411.9 350.7C1412.2 351.2 1412 351.9 1412 352.4ZM1497.4 321.1C1497.4 321.6 1496.7 322.2 1496.2 322.6C1495.8 323.1 1495.4 323.4 1494.9 323.6C1494.4 323.8 1493.7 324.1 1493.2 323.9C1492.6 323.8 1492 323.3 1491.7 322.9C1491.3 322.4 1491.2 321.7 1491.2 321.1C1491.2 320.5 1491.5 319.9 1491.8 319.4C1492.2 319 1492.7 318.7 1493.3 318.5C1493.8 318.3 1494.5 318.2 1495 318.3C1495.5 318.5 1496 319 1496.4 319.4C1496.8 319.9 1497.4 320.6 1497.4 321.1ZM1424.2 301.1C1424.3 301.7 1424.3 302.6 1423.9 303C1423.6 303.4 1422.7 303.5 1422.1 303.6C1421.6 303.7 1421 303.7 1420.5 303.6C1419.9 303.5 1419.1 303.4 1418.8 302.9C1418.4 302.5 1418.2 301.7 1418.3 301.1C1418.3 300.5 1418.7 299.9 1419 299.4C1419.4 299 1419.8 298.4 1420.4 298.2C1420.9 298.1 1421.6 298.3 1422.1 298.5C1422.7 298.7 1423.3 298.9 1423.7 299.4C1424 299.8 1424.2 300.5 1424.2 301.1ZM1476.9 311.8C1476.8 312.4 1476.4 313 1476.1 313.4C1475.7 313.8 1475.2 314.2 1474.7 314.4C1474.2 314.6 1473.6 314.5 1473.1 314.4C1472.5 314.3 1471.6 314.2 1471.3 313.7C1471 313.3 1470.9 312.4 1471 311.8C1471.1 311.3 1471.6 310.8 1471.9 310.4C1472.2 309.9 1472.5 309.4 1473 309.1C1473.5 308.9 1474.3 308.9 1474.8 309.1C1475.3 309.3 1475.9 309.7 1476.2 310.1C1476.6 310.6 1476.9 311.3 1476.9 311.8ZM1450.6 348.7C1450.6 349.3 1450 350 1449.6 350.4C1449.2 350.9 1448.7 351.3 1448.2 351.5C1447.6 351.8 1446.8 352 1446.3 351.8C1445.7 351.6 1445.2 351 1444.8 350.5C1444.4 350 1443.9 349.3 1443.8 348.7C1443.8 348.1 1444.3 347.3 1444.7 346.9C1445.2 346.5 1445.8 346.2 1446.4 346C1447 345.9 1447.6 345.7 1448.2 345.8C1448.8 345.9 1449.5 346.3 1449.9 346.8C1450.3 347.3 1450.7 348.1 1450.6 348.7ZM1428.7 360.2C1428.7 360.7 1428 361.2 1427.6 361.7C1427.2 362.1 1426.9 362.6 1426.4 362.9C1425.9 363.1 1425.1 363.2 1424.6 363C1424 362.9 1423.3 362.5 1422.9 362C1422.6 361.6 1422.6 360.7 1422.7 360.2C1422.7 359.6 1423 359 1423.3 358.6C1423.6 358.1 1424.1 357.5 1424.6 357.3C1425.1 357.1 1425.9 357.2 1426.4 357.3C1427 357.5 1427.5 358 1427.9 358.4C1428.3 358.9 1428.8 359.6 1428.7 360.2Z" fill="#39adc6"/>
<path d="M1444.5 439C1444.6 441.7 1445.1 444.4 1444.9 447C1444.7 449.6 1444 452.3 1443.4 454.9C1442.8 457.5 1442.4 460.2 1441.4 462.6C1440.3 465.1 1438.3 467.1 1436.9 469.4C1435.5 471.6 1434.4 474 1432.9 476.2C1431.4 478.3 1429.6 480.3 1427.9 482.3C1426.1 484.3 1424.3 486.1 1422.4 488C1420.6 489.9 1418.9 492.2 1416.8 493.7C1414.6 495.2 1411.7 495.6 1409.3 496.8C1406.9 498 1404.9 499.8 1402.4 500.8C1400 501.7 1397.2 502 1394.7 502.5C1392.1 503.1 1389.5 503.7 1386.9 504.1C1384.3 504.5 1381.7 504.7 1379 504.9C1376.3 505 1373.6 505.4 1371 505.2C1368.3 504.9 1365.7 504.2 1363.2 503.3C1360.6 502.4 1358.4 500.9 1355.9 499.8C1353.5 498.8 1350.9 498.2 1348.5 497C1346.2 495.9 1344.2 494.1 1341.9 492.7C1339.6 491.4 1336.9 490.5 1334.7 489C1332.6 487.4 1330.9 485.2 1329.1 483.2C1327.4 481.2 1325.7 479 1324.2 476.8C1322.7 474.6 1321.2 472.3 1320 470C1318.8 467.6 1317.8 465.1 1316.8 462.6C1315.8 460.1 1314.7 457.6 1314.1 455C1313.4 452.4 1313 449.7 1312.9 447C1312.8 444.4 1313.5 441.7 1313.5 439C1313.5 436.3 1312.5 433.6 1312.8 431C1313 428.3 1314.3 425.8 1314.9 423.2C1315.6 420.6 1315.9 417.9 1316.8 415.4C1317.7 412.9 1319.1 410.6 1320.4 408.3C1321.8 406 1323.2 403.7 1324.8 401.6C1326.4 399.4 1328 397.4 1329.8 395.4C1331.6 393.4 1333.3 391.4 1335.3 389.7C1337.3 388 1339.5 386.4 1341.7 385C1343.9 383.6 1346.4 382.6 1348.7 381.2C1351 379.8 1353 377.8 1355.4 376.7C1357.8 375.5 1360.5 375 1363.1 374.3C1365.7 373.6 1368.3 372.8 1370.9 372.5C1373.6 372.2 1376.3 372.5 1379 372.6C1381.7 372.8 1384.3 373.1 1387 373.4C1389.6 373.7 1392.4 373.7 1394.9 374.4C1397.4 375.2 1399.7 377 1402.1 378C1404.6 378.9 1407.5 379.1 1409.8 380.2C1412.2 381.4 1414.3 383.1 1416.4 384.8C1418.5 386.4 1420.4 388.3 1422.3 390.1C1424.3 391.9 1426.1 393.7 1428 395.6C1429.8 397.5 1431.8 399.3 1433.4 401.5C1434.9 403.6 1435.8 406.2 1437 408.6C1438.2 410.9 1439.6 413.2 1440.6 415.6C1441.7 418.1 1442.7 420.6 1443.3 423.2C1443.9 425.7 1444.1 428.4 1444.3 431.1C1444.5 433.7 1444.4 436.3 1444.5 439Z" fill="#9bdbe2"/><path d="M1385 493.5C1384.9 494.3 1384.7 495.2 1384.4 495.8C1384 496.5 1383.2 496.9 1382.7 497.5C1382.2 498 1382 498.6 1381.6 499.2C1381.1 499.8 1380.8 500.5 1380.2 500.9C1379.6 501.3 1378.8 501.5 1378.1 501.7C1377.4 501.9 1376.7 502.3 1375.9 502.3C1375.2 502.4 1374.3 502.3 1373.6 502C1373 501.7 1372.5 501 1371.8 500.6C1371.2 500.2 1370.6 500 1369.9 499.6C1369.2 499.2 1368.4 498.8 1367.9 498.2C1367.4 497.6 1367.2 496.7 1366.9 496C1366.7 495.2 1366.3 494.4 1366.3 493.5C1366.3 492.7 1366.5 491.8 1366.9 491.1C1367.4 490.5 1368.3 490 1368.9 489.5C1369.5 489 1369.9 488.5 1370.4 488C1370.9 487.5 1371.3 486.9 1371.9 486.6C1372.5 486.2 1373.2 486.2 1373.9 485.9C1374.5 485.7 1375.2 485.2 1375.9 485.1C1376.6 484.9 1377.5 484.7 1378.2 484.9C1378.9 485.1 1379.5 485.7 1380.2 486.1C1380.9 486.5 1381.6 486.7 1382.3 487.2C1382.9 487.6 1383.7 488.1 1384.2 488.8C1384.6 489.5 1384.6 490.4 1384.7 491.2C1384.9 492 1385.1 492.8 1385 493.5ZM1401.2 415.9C1401.1 416.4 1400.8 416.9 1400.5 417.2C1400.2 417.6 1399.7 417.8 1399.4 418.1C1399.2 418.4 1399 418.8 1398.8 419.1C1398.6 419.4 1398.4 419.9 1398.1 420.2C1397.8 420.4 1397.3 420.6 1396.9 420.8C1396.5 421 1396.1 421.1 1395.6 421.2C1395.2 421.3 1394.6 421.4 1394.2 421.4C1393.7 421.3 1393.2 421 1392.8 420.7C1392.5 420.5 1392.1 420.1 1391.8 419.7C1391.4 419.4 1391 419.1 1390.8 418.7C1390.5 418.3 1390.3 417.8 1390.2 417.4C1390.2 416.9 1390.5 416.4 1390.6 415.9C1390.7 415.5 1390.9 415.1 1391 414.7C1391.2 414.3 1391.2 413.9 1391.4 413.5C1391.6 413.1 1391.9 412.8 1392.2 412.5C1392.5 412.2 1392.8 411.9 1393.2 411.6C1393.5 411.4 1393.8 411 1394.2 410.8C1394.7 410.6 1395.2 410.5 1395.6 410.6C1396.1 410.6 1396.5 410.9 1396.9 411.1C1397.3 411.2 1397.7 411.3 1398.2 411.5C1398.6 411.6 1399.2 411.7 1399.6 412C1400 412.2 1400.3 412.7 1400.6 413.1C1400.8 413.5 1401 414 1401.1 414.5C1401.2 414.9 1401.3 415.5 1401.2 415.9ZM1407.8 464C1407.6 464.8 1407.1 465.6 1406.8 466.4C1406.4 467.2 1406.3 468 1405.9 468.7C1405.5 469.4 1405 470 1404.4 470.6C1403.8 471.1 1403.1 471.5 1402.5 472C1401.8 472.4 1401.1 473.2 1400.4 473.4C1399.6 473.6 1398.6 473.4 1397.9 473.2C1397.1 472.9 1396.4 472.3 1395.7 471.9C1395.1 471.6 1394.4 471.5 1393.8 471.1C1393.2 470.7 1392.6 470.3 1392.1 469.8C1391.6 469.3 1391.1 468.8 1390.6 468.2C1390 467.7 1389 467.2 1388.5 466.5C1388.1 465.8 1387.9 464.8 1387.9 464C1387.9 463.2 1388.3 462.3 1388.5 461.5C1388.7 460.7 1388.8 459.7 1389.2 459C1389.6 458.3 1390.3 457.6 1391 457.1C1391.7 456.7 1392.5 456.4 1393.3 456.1C1394 455.7 1394.7 455.2 1395.5 455.1C1396.2 455 1397.1 455.3 1397.9 455.5C1398.6 455.8 1399.2 456.3 1399.9 456.5C1400.5 456.7 1401.3 456.7 1402 456.9C1402.7 457.1 1403.3 457.5 1404 457.9C1404.6 458.3 1405.1 458.9 1405.7 459.4C1406.4 460 1407.3 460.6 1407.6 461.4C1408 462.1 1407.9 463.2 1407.8 464ZM1377.9 434C1377.9 434.5 1378.1 434.9 1378 435.4C1377.9 435.8 1377.7 436.3 1377.5 436.7C1377.3 437.1 1376.9 437.4 1376.7 437.8C1376.4 438.3 1376.2 438.9 1375.9 439.3C1375.5 439.7 1375 440 1374.5 440.2C1374 440.3 1373.4 440.1 1372.8 440C1372.3 440 1371.8 439.9 1371.3 439.6C1370.9 439.4 1370.5 438.9 1370.2 438.5C1369.9 438.1 1369.8 437.6 1369.6 437.3C1369.3 436.9 1368.9 436.8 1368.6 436.5C1368.3 436.1 1368 435.8 1367.8 435.4C1367.6 434.9 1367.6 434.5 1367.6 434C1367.5 433.5 1367.3 433 1367.3 432.5C1367.4 432.1 1367.6 431.6 1367.9 431.2C1368.2 430.8 1368.6 430.5 1369 430.1C1369.3 429.8 1369.5 429.2 1369.9 428.9C1370.3 428.6 1370.8 428.3 1371.3 428.2C1371.8 428.1 1372.3 428.2 1372.8 428.3C1373.3 428.3 1373.9 428.3 1374.3 428.5C1374.8 428.6 1375.2 429 1375.5 429.3C1375.9 429.7 1376.1 430.1 1376.4 430.5C1376.7 430.8 1377.1 431 1377.4 431.4C1377.6 431.8 1377.8 432.2 1377.9 432.6C1378 433.1 1377.9 433.5 1377.9 434ZM1425.4 488.1C1425.6 488.5 1425.8 488.9 1425.8 489.3C1425.8 489.8 1425.6 490.2 1425.5 490.6C1425.3 490.9 1425 491.3 1424.8 491.6C1424.6 492 1424.5 492.4 1424.4 492.8C1424.2 493.2 1424.2 493.7 1424 494.1C1423.9 494.5 1423.6 494.9 1423.3 495.2C1423 495.5 1422.6 495.7 1422.3 495.9C1421.9 496.2 1421.6 496.4 1421.2 496.8C1420.9 497.1 1420.7 497.6 1420.3 497.9C1419.9 498.2 1419.5 498.6 1419.1 498.8C1418.7 499 1418.1 499 1417.7 499C1417.2 499 1416.7 498.8 1416.2 498.8C1415.8 498.7 1415.3 498.7 1414.8 498.7C1414.4 498.6 1413.9 498.6 1413.5 498.4C1413.1 498.2 1412.7 497.8 1412.4 497.4C1412 497.1 1411.8 496.5 1411.6 496.1C1411.3 495.7 1411.1 495.4 1410.9 495.1C1410.6 494.8 1410.2 494.6 1410 494.3C1409.7 494.1 1409.5 493.8 1409.3 493.4C1409.1 493.1 1409 492.7 1408.9 492.3C1408.7 492 1408.6 491.7 1408.4 491.3C1408.1 491 1407.7 490.8 1407.4 490.4C1407.1 490.1 1406.8 489.7 1406.6 489.4C1406.4 489 1406.4 488.5 1406.4 488.1C1406.3 487.7 1406.5 487.2 1406.5 486.8C1406.5 486.4 1406.5 485.9 1406.5 485.5C1406.5 485 1406.4 484.5 1406.6 484.1C1406.7 483.7 1407 483.2 1407.3 482.9C1407.6 482.6 1408.1 482.4 1408.4 482.1C1408.8 481.8 1409.1 481.6 1409.4 481.3C1409.7 481 1409.9 480.6 1410.2 480.3C1410.5 479.9 1410.8 479.6 1411.2 479.4C1411.6 479.2 1412 479.1 1412.5 479C1412.9 478.9 1413.3 478.8 1413.7 478.6C1414.1 478.5 1414.5 478.2 1414.9 478C1415.3 477.8 1415.8 477.5 1416.2 477.4C1416.7 477.4 1417.2 477.5 1417.6 477.6C1418 477.8 1418.4 478.1 1418.9 478.3C1419.3 478.5 1419.7 478.6 1420.1 478.8C1420.5 478.9 1421 479 1421.3 479.3C1421.7 479.5 1422 479.8 1422.3 480.2C1422.5 480.6 1422.6 481.1 1422.8 481.5C1423 481.9 1423.1 482.3 1423.4 482.6C1423.6 482.9 1423.9 483.2 1424.2 483.5C1424.4 483.8 1424.7 484.1 1424.9 484.5C1425 484.9 1425 485.3 1425 485.7C1425.1 486.1 1425 486.5 1425.1 486.9C1425.1 487.3 1425.3 487.7 1425.4 488.1ZM1410.1 382.7C1410 383.5 1409.5 384.4 1409.1 385.2C1408.7 386 1408.2 386.7 1407.6 387.3C1407 387.8 1406.3 388.3 1405.6 388.6C1405 389 1404.1 388.9 1403.5 389.2C1402.8 389.5 1402.4 389.8 1401.7 390.3C1401.1 390.7 1400.5 391.5 1399.7 391.9C1398.9 392.2 1398 392.4 1397.1 392.3C1396.3 392.2 1395.5 391.7 1394.7 391.3C1394 390.9 1393.2 390.4 1392.6 389.8C1392 389.1 1391.6 388.3 1391.3 387.5C1391 386.7 1391.1 385.8 1391 385C1390.8 384.2 1390.7 383.5 1390.6 382.7C1390.5 381.9 1390.3 381 1390.5 380.2C1390.7 379.4 1391.3 378.7 1391.8 378.1C1392.3 377.5 1393 377.1 1393.6 376.6C1394.2 376.1 1394.7 375.5 1395.3 375.1C1395.9 374.6 1396.7 374.3 1397.4 374.1C1398.1 373.9 1398.9 374 1399.7 374C1400.5 374 1401.2 373.9 1402 374C1402.8 374.1 1403.7 374.2 1404.4 374.5C1405.1 374.9 1405.6 375.6 1406.2 376.2C1406.7 376.8 1407.2 377.4 1407.7 378.1C1408.3 378.7 1409.1 379.3 1409.5 380.1C1409.9 380.8 1410.2 381.8 1410.1 382.7ZM1440.4 420.6C1440.4 421.1 1440.2 421.5 1440 422C1439.8 422.4 1439.5 422.8 1439.2 423.1C1439 423.5 1438.8 423.9 1438.5 424.2C1438.2 424.5 1437.9 424.9 1437.5 425.1C1437.1 425.4 1436.6 425.4 1436.2 425.5C1435.7 425.6 1435.3 425.4 1434.8 425.5C1434.4 425.5 1434 425.5 1433.5 425.6C1433 425.6 1432.4 425.7 1431.9 425.6C1431.4 425.5 1430.9 425.3 1430.5 424.9C1430.1 424.6 1429.9 424 1429.7 423.6C1429.5 423.1 1429.5 422.5 1429.4 422C1429.4 421.5 1429.4 421 1429.6 420.6C1429.7 420.1 1429.9 419.7 1430.1 419.3C1430.3 418.9 1430.6 418.6 1430.8 418.2C1431 417.9 1431.1 417.4 1431.3 417C1431.5 416.6 1431.7 416.1 1432.1 415.8C1432.4 415.5 1432.9 415.3 1433.4 415.2C1433.9 415.2 1434.4 415.3 1434.8 415.3C1435.3 415.4 1435.7 415.5 1436.2 415.5C1436.7 415.6 1437.2 415.6 1437.6 415.8C1438.1 416 1438.5 416.2 1438.9 416.6C1439.2 416.9 1439.4 417.4 1439.6 417.8C1439.9 418.2 1440.1 418.7 1440.2 419.2C1440.3 419.6 1440.4 420.1 1440.4 420.6ZM1344.8 422C1344.7 422.5 1344.5 422.9 1344.3 423.4C1344.2 423.9 1344.1 424.3 1344 424.8C1343.9 425.3 1343.9 426 1343.7 426.5C1343.4 427 1343.1 427.6 1342.6 427.9C1342.1 428.2 1341.5 428.4 1340.9 428.4C1340.4 428.5 1339.8 428.4 1339.2 428.4C1338.7 428.3 1338.1 428.2 1337.6 428C1337.1 427.8 1336.6 427.5 1336.2 427.2C1335.8 426.9 1335.4 426.6 1335 426.2C1334.6 425.9 1334.2 425.5 1333.9 425.1C1333.5 424.7 1333.1 424.2 1333 423.7C1332.8 423.2 1332.8 422.6 1333 422C1333.1 421.5 1333.6 421 1333.8 420.6C1334.1 420.2 1334.4 419.8 1334.6 419.4C1334.8 418.9 1334.9 418.4 1335.1 418C1335.4 417.5 1335.7 417 1336.1 416.7C1336.5 416.3 1337.1 416.1 1337.6 415.9C1338.1 415.7 1338.6 415.6 1339.2 415.5C1339.8 415.4 1340.4 415.4 1340.9 415.5C1341.5 415.7 1342.1 416 1342.5 416.3C1342.9 416.7 1343.3 417.2 1343.6 417.7C1343.9 418.1 1344.1 418.6 1344.4 419.1C1344.6 419.5 1344.8 420 1344.9 420.5C1345 421 1344.9 421.6 1344.8 422ZM1350.3 454.8C1350.4 455.2 1350.6 455.7 1350.5 456.1C1350.5 456.5 1350.3 457 1350.1 457.4C1349.8 457.7 1349.3 457.9 1348.9 458.1C1348.5 458.3 1348.1 458.5 1347.8 458.6C1347.4 458.7 1347 458.8 1346.6 458.8C1346.3 458.8 1345.9 458.7 1345.6 458.6C1345.2 458.6 1344.9 458.6 1344.5 458.7C1344.1 458.7 1343.6 458.9 1343.2 458.8C1342.8 458.7 1342.4 458.5 1342.1 458.2C1341.8 458 1341.7 457.5 1341.5 457.1C1341.3 456.7 1341.2 456.4 1341.1 456C1341 455.6 1340.9 455.2 1341 454.8C1341 454.4 1341.1 454 1341.2 453.6C1341.3 453.2 1341.4 452.8 1341.5 452.4C1341.7 452 1341.7 451.5 1342 451.2C1342.3 450.9 1342.7 450.7 1343.2 450.6C1343.6 450.5 1344 450.6 1344.4 450.6C1344.8 450.5 1345.2 450.5 1345.6 450.5C1345.9 450.5 1346.3 450.6 1346.7 450.7C1347 450.8 1347.3 451.1 1347.6 451.3C1347.9 451.4 1348.2 451.6 1348.6 451.8C1348.9 452 1349.3 452.2 1349.6 452.5C1349.8 452.8 1349.9 453.2 1350.1 453.6C1350.2 454 1350.2 454.4 1350.3 454.8ZM1370 393.2C1370 394 1369.6 394.7 1369.4 395.4C1369.2 396.1 1368.9 396.8 1368.7 397.5C1368.4 398.3 1368.3 399.2 1367.8 399.8C1367.3 400.4 1366.5 400.8 1365.8 401.1C1365 401.5 1364.3 401.8 1363.6 402.1C1362.8 402.5 1362 403 1361.2 403.1C1360.4 403.2 1359.4 403 1358.6 402.8C1357.8 402.6 1356.9 402.3 1356.2 401.9C1355.4 401.5 1354.5 401.1 1354 400.4C1353.6 399.7 1353.6 398.5 1353.5 397.6C1353.4 396.8 1353.5 396 1353.5 395.3C1353.4 394.5 1353.1 393.9 1353.1 393.2C1353 392.5 1353.2 391.8 1353.2 391.1C1353.3 390.3 1353.2 389.6 1353.4 388.7C1353.5 387.9 1353.5 386.7 1354 386C1354.4 385.3 1355.4 384.9 1356.2 384.6C1357 384.3 1357.9 384.2 1358.7 384C1359.5 383.9 1360.4 383.6 1361.2 383.6C1362 383.7 1362.8 384.1 1363.5 384.4C1364.3 384.6 1365 384.9 1365.8 385.2C1366.6 385.5 1367.6 385.7 1368.1 386.3C1368.7 386.8 1368.9 387.8 1369.2 388.6C1369.4 389.4 1369.5 390.2 1369.6 390.9C1369.8 391.7 1370.1 392.5 1370 393.2ZM1375.1 452.3C1375.1 453 1375 453.7 1374.8 454.4C1374.5 455 1373.8 455.4 1373.4 456C1373 456.5 1372.8 457.1 1372.4 457.7C1372 458.2 1371.6 458.8 1371.1 459.2C1370.5 459.6 1369.8 459.8 1369.2 460.2C1368.5 460.5 1367.8 461.2 1367.1 461.4C1366.3 461.6 1365.3 461.8 1364.6 461.6C1363.8 461.4 1363.2 460.6 1362.6 460.1C1362 459.5 1361.4 459 1360.9 458.4C1360.5 457.8 1360.1 457.1 1359.9 456.5C1359.6 455.8 1359.7 455 1359.5 454.3C1359.3 453.6 1358.9 453 1358.8 452.3C1358.7 451.6 1358.5 450.7 1358.8 450.1C1359 449.4 1359.7 448.9 1360.2 448.3C1360.6 447.8 1361 447.2 1361.5 446.7C1362 446.3 1362.6 445.9 1363.2 445.6C1363.8 445.3 1364.5 445.3 1365.1 445C1365.7 444.7 1366.3 444.1 1367.1 443.8C1367.8 443.5 1368.7 443.2 1369.5 443.2C1370.3 443.3 1371 443.9 1371.7 444.3C1372.4 444.7 1373.1 445.1 1373.6 445.7C1374.1 446.3 1374.6 447.1 1374.8 447.8C1375 448.6 1374.8 449.5 1374.9 450.2C1374.9 450.9 1375.1 451.6 1375.1 452.3ZM1396.4 433.4C1396.4 433.8 1396.5 434.3 1396.4 434.7C1396.2 435.1 1395.8 435.4 1395.5 435.7C1395.2 436 1395 436.3 1394.7 436.6C1394.4 436.8 1394.2 437.2 1393.8 437.4C1393.5 437.6 1393 437.6 1392.7 437.7C1392.3 437.8 1391.9 437.9 1391.5 437.9C1391.1 438 1390.7 438.1 1390.3 437.9C1389.9 437.8 1389.6 437.5 1389.3 437.2C1389 437 1388.7 436.8 1388.3 436.6C1388 436.3 1387.6 436.1 1387.3 435.8C1387 435.5 1386.9 435.1 1386.7 434.7C1386.6 434.3 1386.4 433.8 1386.3 433.4C1386.3 433 1386.3 432.4 1386.5 432C1386.7 431.7 1387.2 431.4 1387.6 431.1C1387.9 430.8 1388.2 430.6 1388.5 430.4C1388.8 430.1 1389 429.8 1389.4 429.7C1389.7 429.5 1390.1 429.4 1390.4 429.3C1390.8 429.1 1391.1 428.9 1391.5 428.8C1391.9 428.7 1392.4 428.5 1392.8 428.6C1393.2 428.7 1393.5 429.1 1393.9 429.3C1394.2 429.6 1394.5 429.8 1394.8 430.1C1395.1 430.4 1395.5 430.6 1395.7 431C1395.9 431.3 1396 431.8 1396.1 432.2C1396.2 432.6 1396.4 433 1396.4 433.4ZM1428.4 400.2C1428.3 400.6 1428 401 1427.9 401.4C1427.8 401.7 1427.8 402.2 1427.7 402.5C1427.5 402.9 1427.2 403.2 1427 403.5C1426.7 403.9 1426.4 404.2 1426.1 404.5C1425.8 404.8 1425.4 405.2 1425 405.3C1424.6 405.4 1424.1 405.3 1423.7 405.2C1423.2 405.1 1422.8 405 1422.4 404.9C1422 404.8 1421.5 404.9 1421 404.7C1420.6 404.6 1420.2 404.3 1419.9 404C1419.5 403.7 1419.2 403.4 1418.9 403C1418.6 402.6 1418.2 402.1 1418.2 401.7C1418.1 401.2 1418.4 400.7 1418.5 400.2C1418.7 399.8 1419 399.4 1419.2 399C1419.4 398.6 1419.4 398.2 1419.7 397.9C1419.9 397.6 1420.2 397.3 1420.5 397.1C1420.8 396.8 1421.1 396.6 1421.4 396.3C1421.7 396 1422 395.6 1422.4 395.4C1422.7 395.2 1423.2 395.3 1423.7 395.2C1424.1 395.2 1424.5 395.3 1425 395.3C1425.4 395.3 1426 395.2 1426.5 395.4C1426.9 395.5 1427.3 395.9 1427.6 396.3C1428 396.6 1428.2 397 1428.4 397.5C1428.6 397.9 1428.9 398.4 1428.9 398.8C1428.9 399.3 1428.6 399.8 1428.4 400.2ZM1449.4 440.2C1449.3 440.6 1449.3 441 1449.3 441.4C1449.2 441.8 1449.1 442.2 1448.9 442.5C1448.7 442.9 1448.3 443.1 1448.1 443.4C1447.8 443.7 1447.5 444 1447.2 444.3C1446.9 444.6 1446.7 445 1446.3 445.3C1445.9 445.5 1445.4 445.6 1444.9 445.5C1444.5 445.4 1444 445.1 1443.7 444.9C1443.3 444.6 1443 444.4 1442.7 444.1C1442.4 443.8 1442.2 443.5 1442 443.2C1441.8 442.9 1441.7 442.5 1441.6 442.2C1441.4 441.8 1441.3 441.6 1441.1 441.3C1440.9 440.9 1440.5 440.6 1440.4 440.2C1440.3 439.9 1440.3 439.4 1440.4 439C1440.5 438.6 1440.7 438.3 1440.9 437.9C1441.1 437.5 1441.2 437.1 1441.5 436.8C1441.7 436.4 1442 436.1 1442.4 435.9C1442.8 435.6 1443.2 435.6 1443.7 435.5C1444.1 435.4 1444.5 435.4 1444.9 435.4C1445.3 435.5 1445.8 435.5 1446.1 435.7C1446.5 435.9 1446.8 436.2 1447.1 436.5C1447.3 436.8 1447.5 437.1 1447.8 437.4C1448 437.6 1448.4 437.8 1448.7 438.1C1448.9 438.4 1449.2 438.7 1449.3 439.1C1449.4 439.4 1449.4 439.8 1449.4 440.2ZM1425.4 460.2C1425.3 460.7 1425 461.2 1424.8 461.7C1424.6 462.2 1424.4 462.7 1424.1 463.1C1423.8 463.5 1423.6 464 1423.2 464.3C1422.8 464.7 1422.4 465 1421.9 465.2C1421.4 465.4 1420.9 465.5 1420.5 465.6C1420 465.8 1419.5 465.9 1419 466C1418.5 466.1 1417.9 466.2 1417.4 466.1C1416.9 466 1416.4 465.8 1415.9 465.5C1415.5 465.2 1415.1 464.8 1414.7 464.4C1414.3 464.1 1413.8 463.8 1413.4 463.4C1413 463 1412.4 462.5 1412.2 462C1412 461.4 1411.9 460.7 1412 460.2C1412.2 459.6 1412.6 459 1413 458.5C1413.3 458.1 1413.8 457.7 1414.1 457.3C1414.5 457 1414.8 456.7 1415.2 456.4C1415.6 456.1 1416 455.8 1416.4 455.6C1416.8 455.3 1417.1 455.1 1417.6 454.9C1418 454.6 1418.5 454.2 1419 454C1419.5 453.8 1420.2 453.5 1420.8 453.6C1421.3 453.6 1421.9 454 1422.4 454.3C1422.8 454.7 1423.1 455.3 1423.4 455.7C1423.7 456.2 1424 456.6 1424.3 457.1C1424.6 457.5 1425 458 1425.2 458.5C1425.4 459 1425.4 459.6 1425.4 460.2ZM1321.7 440.4C1321.7 441 1321.2 441.7 1320.9 442.2C1320.5 442.8 1320.1 443.2 1319.8 443.7C1319.5 444.2 1319.3 444.8 1318.9 445.3C1318.5 445.7 1318 446.1 1317.5 446.5C1317 446.8 1316.4 447 1315.8 447.2C1315.3 447.4 1314.6 447.8 1314 447.9C1313.4 447.9 1312.7 447.9 1312.1 447.7C1311.5 447.4 1311 446.8 1310.6 446.4C1310.1 446 1309.7 445.6 1309.2 445.2C1308.7 444.8 1308 444.6 1307.6 444.1C1307.1 443.7 1306.7 443.1 1306.4 442.4C1306.1 441.8 1306 441.1 1306 440.4C1306 439.7 1305.9 438.9 1306.2 438.3C1306.4 437.7 1307 437.1 1307.5 436.7C1308.1 436.3 1308.9 436.1 1309.5 435.9C1310.1 435.6 1310.5 435.4 1310.9 435.1C1311.4 434.8 1311.8 434.3 1312.3 434C1312.8 433.7 1313.4 433.6 1314 433.5C1314.6 433.4 1315.2 433.4 1315.9 433.4C1316.6 433.4 1317.3 433.4 1317.9 433.6C1318.6 433.8 1319.2 434.3 1319.6 434.8C1320 435.3 1320.2 436 1320.5 436.6C1320.8 437.2 1321.2 437.8 1321.4 438.4C1321.6 439.1 1321.8 439.8 1321.7 440.4ZM1422.4 440C1422.5 440.5 1422.7 441 1422.8 441.5C1422.8 441.9 1422.8 442.4 1422.7 442.9C1422.5 443.4 1422.3 443.8 1422.1 444.3C1422 444.7 1421.8 445.2 1421.6 445.6C1421.4 446.1 1421.2 446.6 1420.9 447C1420.7 447.4 1420.3 447.8 1419.9 448.1C1419.5 448.4 1419 448.6 1418.5 448.7C1418 448.8 1417.4 448.7 1416.9 448.8C1416.4 448.8 1415.9 448.7 1415.5 448.8C1415 448.8 1414.7 448.9 1414.3 449C1413.9 449.1 1413.5 449.2 1413.1 449.3C1412.7 449.3 1412.3 449.4 1411.9 449.3C1411.5 449.3 1411.1 449.1 1410.7 449C1410.3 448.9 1409.9 448.8 1409.5 448.7C1409.1 448.7 1408.7 448.7 1408.3 448.7C1407.8 448.7 1407.3 448.8 1406.8 448.7C1406.4 448.7 1405.9 448.6 1405.5 448.4C1405 448.2 1404.7 447.8 1404.4 447.5C1404.1 447.2 1403.8 446.8 1403.6 446.4C1403.3 446 1403 445.7 1402.7 445.3C1402.4 445 1402 444.6 1401.7 444.2C1401.4 443.8 1401.1 443.4 1401 442.9C1400.8 442.5 1400.7 442 1400.7 441.5C1400.6 441 1400.7 440.5 1400.8 440C1400.8 439.5 1400.9 439.1 1401 438.6C1401.1 438.1 1401.1 437.6 1401.2 437.2C1401.2 436.7 1401.3 436.2 1401.5 435.7C1401.7 435.3 1402 434.9 1402.4 434.5C1402.7 434.2 1403.2 434 1403.7 433.7C1404.1 433.5 1404.6 433.4 1405 433.2C1405.4 433 1405.8 432.8 1406.1 432.5C1406.5 432.3 1406.8 432 1407.1 431.8C1407.5 431.6 1407.8 431.3 1408.2 431.2C1408.6 431.1 1409 431 1409.4 431C1409.8 430.9 1410.2 430.9 1410.7 430.8C1411.1 430.7 1411.4 430.6 1411.9 430.5C1412.3 430.3 1412.7 430.1 1413.2 429.9C1413.7 429.8 1414.2 429.6 1414.6 429.6C1415.1 429.6 1415.6 429.8 1416 430C1416.5 430.1 1416.8 430.5 1417.2 430.8C1417.6 431.1 1417.9 431.4 1418.2 431.7C1418.6 432 1418.9 432.3 1419.3 432.6C1419.6 432.9 1420 433.2 1420.2 433.6C1420.5 434 1420.7 434.4 1420.8 434.8C1421 435.3 1421 435.8 1421 436.2C1421.1 436.7 1421.1 437.1 1421.2 437.5C1421.3 437.9 1421.5 438.3 1421.7 438.7C1421.9 439.1 1422.2 439.6 1422.4 440ZM1351.5 487.9C1351.5 488.4 1351.6 489 1351.3 489.4C1351.1 489.8 1350.5 490.1 1350.2 490.4C1349.8 490.7 1349.4 490.9 1349.1 491.1C1348.7 491.4 1348.5 491.8 1348.1 492C1347.8 492.2 1347.4 492.2 1347 492.3C1346.6 492.5 1346.2 492.6 1345.8 492.7C1345.4 492.8 1344.9 493 1344.4 493C1344 492.9 1343.6 492.6 1343.2 492.3C1342.8 492.1 1342.5 491.8 1342.1 491.5C1341.8 491.3 1341.3 491 1341 490.6C1340.8 490.3 1340.7 489.7 1340.6 489.3C1340.6 488.8 1340.6 488.3 1340.6 487.9C1340.6 487.4 1340.6 486.9 1340.8 486.5C1340.9 486.1 1341.4 485.8 1341.6 485.5C1341.9 485.1 1342.1 484.8 1342.4 484.5C1342.7 484.1 1342.8 483.6 1343.2 483.4C1343.5 483.1 1344 483 1344.5 482.9C1344.9 482.8 1345.4 482.8 1345.8 482.8C1346.2 482.8 1346.7 482.8 1347.1 483C1347.5 483.2 1347.8 483.6 1348.1 483.9C1348.4 484.1 1348.7 484.4 1349.1 484.6C1349.5 484.8 1350 484.9 1350.4 485.2C1350.7 485.6 1350.9 486 1351.1 486.5C1351.3 486.9 1351.5 487.4 1351.5 487.9ZM1396.4 446.8C1396.3 447.2 1396.2 447.6 1396 447.9C1395.9 448.3 1395.6 448.6 1395.4 448.8C1395.1 449.1 1394.8 449.2 1394.5 449.4C1394.2 449.7 1394 449.9 1393.8 450.1C1393.5 450.4 1393.3 450.7 1393 450.9C1392.7 451.1 1392.2 451.1 1391.9 451.1C1391.5 451 1391.2 450.8 1390.8 450.7C1390.5 450.6 1390.2 450.5 1389.9 450.3C1389.6 450.1 1389.2 449.9 1389 449.7C1388.7 449.5 1388.6 449.1 1388.4 448.8C1388.1 448.6 1387.9 448.3 1387.7 447.9C1387.5 447.6 1387.2 447.2 1387.2 446.8C1387.2 446.4 1387.3 446 1387.5 445.7C1387.7 445.3 1388 445 1388.2 444.7C1388.5 444.4 1388.6 444.1 1388.9 443.8C1389.2 443.6 1389.5 443.4 1389.8 443.3C1390.1 443.1 1390.5 443.2 1390.9 443.2C1391.2 443.1 1391.5 443.1 1391.9 443.1C1392.2 443 1392.6 443 1392.9 443.1C1393.2 443.1 1393.5 443.4 1393.8 443.5C1394.1 443.6 1394.4 443.8 1394.7 443.9C1395.1 444.1 1395.6 444.2 1395.9 444.5C1396.2 444.8 1396.5 445.2 1396.6 445.6C1396.7 446 1396.5 446.4 1396.4 446.8ZM1331.5 472.1C1331.5 472.5 1331.4 472.9 1331.4 473.3C1331.5 473.7 1331.6 474.2 1331.6 474.6C1331.6 475.1 1331.7 475.6 1331.6 476C1331.5 476.4 1331.2 476.8 1330.8 477.1C1330.5 477.4 1330.1 477.6 1329.8 477.9C1329.5 478.2 1329.2 478.6 1329 478.9C1328.7 479.2 1328.5 479.6 1328.1 479.9C1327.8 480.1 1327.4 480.3 1326.9 480.4C1326.5 480.5 1326.1 480.5 1325.7 480.7C1325.3 480.8 1325 481.1 1324.6 481.3C1324.2 481.5 1323.9 481.9 1323.4 482C1323 482.1 1322.6 482 1322.1 482C1321.7 481.9 1321.3 481.6 1320.9 481.6C1320.5 481.5 1320.1 481.5 1319.6 481.4C1319.2 481.4 1318.7 481.4 1318.4 481.2C1318 481 1317.7 480.6 1317.4 480.3C1317.1 479.9 1317 479.4 1316.7 479.1C1316.5 478.8 1316.2 478.6 1315.9 478.3C1315.6 478 1315.3 477.8 1315.1 477.5C1314.8 477.2 1314.7 476.8 1314.6 476.4C1314.5 476 1314.5 475.6 1314.4 475.3C1314.3 474.9 1314 474.6 1313.8 474.3C1313.6 474 1313.3 473.6 1313.2 473.3C1313.1 472.9 1313.1 472.5 1313.1 472.1C1313.2 471.7 1313.4 471.3 1313.4 470.9C1313.5 470.5 1313.4 470.1 1313.4 469.7C1313.4 469.3 1313.3 468.8 1313.4 468.4C1313.5 468.1 1313.8 467.7 1314 467.4C1314.3 467.1 1314.7 466.8 1314.9 466.5C1315.1 466.2 1315.3 465.8 1315.5 465.4C1315.7 465 1315.9 464.6 1316.1 464.2C1316.4 463.9 1316.8 463.7 1317.2 463.5C1317.6 463.3 1318 463.2 1318.4 463C1318.8 462.7 1319.1 462.4 1319.5 462.2C1319.9 461.9 1320.3 461.5 1320.7 461.4C1321.2 461.3 1321.7 461.4 1322.1 461.5C1322.6 461.6 1323 461.9 1323.5 462.1C1323.9 462.3 1324.3 462.3 1324.7 462.5C1325.1 462.6 1325.6 462.7 1325.9 463C1326.2 463.3 1326.5 463.8 1326.7 464.2C1326.9 464.6 1327 465.1 1327.2 465.5C1327.4 465.8 1327.6 466.1 1327.9 466.3C1328.1 466.6 1328.5 466.8 1328.7 467.1C1328.9 467.4 1329 467.7 1329.1 468.1C1329.2 468.4 1329.3 468.7 1329.4 469.1C1329.6 469.4 1329.9 469.6 1330.2 469.9C1330.5 470.2 1331 470.5 1331.2 470.9C1331.4 471.2 1331.4 471.7 1331.5 472.1ZM1351.4 471.1C1351.4 471.5 1351.4 471.9 1351.3 472.3C1351.2 472.7 1351.1 473.2 1350.9 473.5C1350.7 473.9 1350.4 474.2 1350 474.4C1349.7 474.7 1349.4 474.9 1349 475.1C1348.7 475.3 1348.4 475.7 1348 475.9C1347.6 476.1 1347.1 476.3 1346.7 476.4C1346.2 476.4 1345.7 476.3 1345.3 476.1C1344.9 475.9 1344.6 475.6 1344.2 475.3C1343.9 475.1 1343.6 474.8 1343.2 474.5C1342.9 474.3 1342.5 474 1342.2 473.6C1342 473.3 1341.8 472.9 1341.6 472.4C1341.5 472 1341.6 471.5 1341.6 471.1C1341.6 470.6 1341.7 470.2 1341.9 469.8C1342 469.4 1342.2 469 1342.5 468.7C1342.8 468.4 1343.2 468.2 1343.5 467.9C1343.9 467.7 1344.2 467.6 1344.5 467.3C1344.8 467.1 1345.1 466.8 1345.5 466.5C1345.8 466.2 1346.2 465.8 1346.7 465.7C1347.1 465.6 1347.7 465.6 1348.1 465.8C1348.5 465.9 1348.9 466.3 1349.3 466.6C1349.7 466.8 1350 467.2 1350.3 467.5C1350.6 467.8 1350.9 468.2 1351.1 468.6C1351.2 468.9 1351.4 469.4 1351.4 469.8C1351.5 470.2 1351.4 470.7 1351.4 471.1ZM1401.7 500.5C1401.6 501 1401.1 501.5 1400.9 501.9C1400.7 502.4 1400.5 502.8 1400.3 503.2C1400 503.6 1399.9 504 1399.5 504.3C1399.2 504.6 1398.7 504.7 1398.2 504.9C1397.8 505.1 1397.5 505.3 1397.1 505.5C1396.6 505.7 1396.2 505.9 1395.7 506C1395.3 506 1394.8 505.9 1394.3 505.8C1393.8 505.8 1393.3 505.8 1392.7 505.7C1392.2 505.6 1391.5 505.5 1391.1 505.2C1390.7 504.8 1390.5 504.2 1390.4 503.6C1390.2 503.1 1390.1 502.6 1390.1 502.1C1390 501.5 1390 501 1390.1 500.5C1390.3 500.1 1390.7 499.7 1390.9 499.2C1391 498.8 1391.1 498.4 1391.2 497.9C1391.4 497.5 1391.5 496.9 1391.8 496.6C1392.1 496.2 1392.6 496 1393 495.8C1393.4 495.6 1393.9 495.4 1394.3 495.3C1394.8 495.1 1395.3 495 1395.7 495C1396.2 495.1 1396.6 495.4 1397.1 495.5C1397.6 495.6 1398 495.6 1398.5 495.7C1399 495.8 1399.7 495.8 1400.1 496.1C1400.5 496.4 1400.8 497 1401.1 497.5C1401.3 497.9 1401.5 498.4 1401.7 498.9C1401.8 499.5 1401.8 500 1401.7 500.5ZM1326.1 418.1C1326.1 418.6 1325.7 419.2 1325.4 419.6C1325.2 420.1 1324.9 420.5 1324.5 420.8C1324.2 421.2 1323.8 421.5 1323.4 421.7C1323 422 1322.5 422 1322.1 422.2C1321.7 422.4 1321.4 422.7 1321 423C1320.7 423.3 1320.2 423.7 1319.7 423.8C1319.3 423.9 1318.7 423.7 1318.3 423.6C1317.8 423.5 1317.3 423.3 1316.8 423.1C1316.4 422.9 1316 422.5 1315.7 422.1C1315.4 421.7 1315.4 421.1 1315.2 420.7C1315 420.3 1314.7 419.9 1314.5 419.5C1314.3 419.1 1314 418.6 1313.9 418.1C1313.9 417.6 1314.1 417.1 1314.2 416.6C1314.3 416.1 1314.5 415.6 1314.7 415.2C1314.9 414.8 1315.3 414.3 1315.7 414C1316.1 413.8 1316.7 413.7 1317.1 413.6C1317.6 413.4 1317.9 413.2 1318.4 413C1318.8 412.9 1319.3 412.7 1319.7 412.7C1320.2 412.8 1320.6 413.1 1321 413.2C1321.5 413.3 1321.9 413.4 1322.4 413.5C1322.8 413.7 1323.3 413.9 1323.6 414.2C1324 414.5 1324.2 414.9 1324.5 415.3C1324.8 415.7 1325.3 416.1 1325.5 416.5C1325.8 417 1326.1 417.6 1326.1 418.1ZM1384.1 382C1384.2 382.4 1384.4 382.8 1384.2 383.2C1384.1 383.6 1383.8 383.9 1383.5 384.2C1383.2 384.5 1382.9 384.8 1382.6 385C1382.3 385.2 1382 385.4 1381.6 385.6C1381.3 385.7 1380.9 385.6 1380.6 385.7C1380.2 385.8 1379.9 386 1379.6 386.1C1379.2 386.2 1378.7 386.5 1378.3 386.5C1377.9 386.6 1377.5 386.3 1377.1 386.2C1376.8 386 1376.4 385.7 1376.1 385.5C1375.8 385.2 1375.4 384.8 1375.3 384.5C1375.1 384.1 1375.2 383.6 1375.2 383.2C1375.1 382.7 1375.1 382.4 1375.1 382C1375.1 381.6 1375 381.1 1375.2 380.8C1375.3 380.4 1375.7 380.1 1375.9 379.9C1376.2 379.6 1376.4 379.3 1376.7 379.1C1376.9 378.8 1377.1 378.5 1377.4 378.3C1377.7 378.1 1378.1 378.1 1378.5 378C1378.8 377.8 1379.2 377.7 1379.6 377.5C1380 377.4 1380.4 377.2 1380.8 377.2C1381.2 377.3 1381.6 377.6 1381.9 377.9C1382.3 378.1 1382.6 378.4 1382.8 378.7C1383.1 379 1383.4 379.3 1383.6 379.6C1383.8 380 1383.7 380.4 1383.8 380.8C1383.9 381.2 1384 381.6 1384.1 382ZM1442.6 472.4C1442.6 473.1 1442.4 473.8 1442.3 474.5C1442.2 475.1 1442 475.8 1441.7 476.5C1441.4 477.1 1441.1 477.9 1440.6 478.3C1440 478.7 1439.2 478.8 1438.5 479C1437.8 479.1 1437.1 478.9 1436.5 479C1435.8 479.1 1435.3 479.3 1434.7 479.5C1434.1 479.6 1433.4 479.8 1432.8 479.7C1432.1 479.7 1431.5 479.4 1430.8 479.2C1430.1 479 1429.4 478.8 1428.7 478.4C1428.1 478 1427.4 477.5 1427 476.9C1426.6 476.3 1426.6 475.4 1426.5 474.6C1426.5 473.9 1426.6 473.2 1426.6 472.4C1426.7 471.7 1426.6 471 1426.8 470.3C1427.1 469.7 1427.5 469 1428 468.6C1428.5 468.1 1429.3 467.9 1429.8 467.6C1430.4 467.2 1430.8 466.9 1431.3 466.5C1431.8 466.2 1432.3 465.7 1432.8 465.5C1433.4 465.2 1434 465.1 1434.7 465C1435.4 464.8 1436.1 464.7 1436.8 464.6C1437.5 464.6 1438.5 464.5 1439.1 464.8C1439.8 465 1440.4 465.7 1440.8 466.3C1441.2 467 1441.3 467.9 1441.5 468.5C1441.7 469.2 1441.9 469.8 1442.1 470.5C1442.3 471.1 1442.6 471.8 1442.6 472.4ZM1363 414.2C1363.1 414.6 1363.1 415.1 1363 415.5C1363 415.9 1362.7 416.3 1362.5 416.6C1362.2 417 1362 417.3 1361.6 417.6C1361.3 417.8 1361 418.1 1360.6 418.2C1360.2 418.4 1359.8 418.5 1359.4 418.5C1359.1 418.6 1358.7 418.7 1358.3 418.7C1357.9 418.8 1357.4 418.9 1357 418.8C1356.6 418.8 1356.2 418.7 1355.8 418.4C1355.5 418.2 1355.3 417.7 1355.2 417.3C1355 417 1355 416.5 1354.9 416.2C1354.7 415.8 1354.6 415.6 1354.5 415.2C1354.3 414.9 1354.1 414.6 1354.1 414.2C1354 413.8 1354 413.4 1354 413.1C1354 412.7 1354.1 412.3 1354.3 411.9C1354.4 411.5 1354.5 411.1 1354.8 410.7C1355 410.4 1355.4 410 1355.7 409.8C1356.1 409.6 1356.6 409.5 1357 409.4C1357.4 409.4 1357.9 409.4 1358.3 409.5C1358.7 409.6 1359.1 409.6 1359.5 409.8C1359.8 409.9 1360.2 410.1 1360.5 410.4C1360.7 410.7 1360.9 411.1 1361.1 411.4C1361.3 411.7 1361.3 412 1361.5 412.3C1361.7 412.6 1362 412.8 1362.3 413.1C1362.5 413.5 1362.9 413.8 1363 414.2ZM1359.6 436.9C1359.7 437.5 1359.5 438.2 1359.5 438.9C1359.4 439.6 1359.4 440.4 1359.2 441.1C1359.1 441.9 1359 442.9 1358.5 443.5C1358 444.1 1357.1 444.3 1356.4 444.6C1355.6 444.9 1354.8 444.9 1354.1 445C1353.3 445.1 1352.6 445.3 1351.9 445.2C1351.2 445.1 1350.5 444.6 1349.9 444.3C1349.3 444 1348.8 443.7 1348.2 443.3C1347.6 443 1346.9 442.8 1346.4 442.3C1346 441.9 1345.9 441.1 1345.6 440.5C1345.3 439.9 1345.1 439.4 1344.8 438.8C1344.5 438.2 1343.9 437.6 1343.8 436.9C1343.6 436.2 1343.7 435.4 1343.8 434.7C1343.9 434 1344 433.2 1344.2 432.5C1344.5 431.7 1344.8 430.8 1345.3 430.3C1345.9 429.8 1346.9 429.7 1347.7 429.6C1348.4 429.4 1349.2 429.4 1349.9 429.3C1350.6 429.2 1351.2 428.9 1351.9 429C1352.6 429 1353.2 429.3 1353.9 429.4C1354.6 429.6 1355.2 429.8 1355.9 430C1356.5 430.3 1357.3 430.5 1357.8 431C1358.2 431.5 1358.4 432.4 1358.6 433C1358.8 433.7 1358.8 434.3 1359 435C1359.2 435.6 1359.5 436.2 1359.6 436.9ZM1385.6 417.4C1385.5 418 1385.3 418.5 1385.2 419C1385 419.6 1385 420.2 1384.7 420.6C1384.5 421.1 1384.1 421.6 1383.6 421.9C1383.2 422.2 1382.6 422.4 1382.2 422.6C1381.7 422.8 1381.2 423 1380.7 423.3C1380.2 423.5 1379.8 423.9 1379.2 424.2C1378.6 424.4 1377.9 424.6 1377.3 424.5C1376.6 424.5 1376 424.2 1375.4 423.9C1374.9 423.6 1374.4 423.1 1374 422.6C1373.6 422.2 1373.2 421.6 1373 421C1372.8 420.4 1372.8 419.7 1372.8 419.1C1372.8 418.5 1373 418 1373.1 417.4C1373.2 416.9 1373.2 416.4 1373.3 415.8C1373.3 415.3 1373.3 414.7 1373.5 414.1C1373.6 413.6 1374 413 1374.4 412.7C1374.8 412.3 1375.5 412.1 1376 411.9C1376.5 411.7 1377 411.6 1377.6 411.5C1378.1 411.3 1378.6 411 1379.2 410.9C1379.7 410.8 1380.4 410.6 1381 410.7C1381.6 410.8 1382.2 411 1382.7 411.3C1383.3 411.5 1383.8 411.9 1384.3 412.3C1384.8 412.7 1385.3 413.2 1385.5 413.8C1385.8 414.3 1385.9 415 1385.9 415.6C1385.9 416.2 1385.7 416.9 1385.6 417.4ZM1401.4 483C1401.3 483.4 1401.1 483.8 1400.9 484.2C1400.7 484.5 1400.5 484.9 1400.2 485.1C1399.9 485.4 1399.5 485.5 1399.2 485.7C1398.9 485.9 1398.7 486 1398.4 486.3C1398.2 486.6 1398 487 1397.7 487.3C1397.3 487.6 1396.9 487.9 1396.5 488C1396.1 488.1 1395.6 488 1395.2 487.9C1394.8 487.8 1394.3 487.6 1394 487.4C1393.6 487.2 1393.2 486.9 1393 486.5C1392.8 486.1 1392.7 485.7 1392.6 485.3C1392.4 484.9 1392.4 484.5 1392.3 484.1C1392.2 483.7 1391.9 483.4 1391.9 483C1391.9 482.6 1392 482.2 1392.1 481.8C1392.3 481.5 1392.6 481.2 1392.8 480.9C1393.1 480.6 1393.2 480.2 1393.5 480C1393.7 479.7 1393.9 479.3 1394.3 479.1C1394.6 478.9 1395 478.8 1395.4 478.7C1395.7 478.6 1396.1 478.5 1396.5 478.4C1396.9 478.4 1397.4 478.3 1397.8 478.3C1398.1 478.4 1398.5 478.7 1398.9 478.9C1399.2 479.1 1399.4 479.5 1399.7 479.8C1400.1 480 1400.5 480.2 1400.7 480.5C1401 480.9 1401.4 481.3 1401.5 481.7C1401.6 482.1 1401.5 482.6 1401.4 483ZM1341.7 396.6C1341.8 397.4 1341.9 398.3 1341.6 399.1C1341.3 399.9 1340.8 400.7 1340.2 401.2C1339.6 401.8 1338.7 402.1 1338 402.4C1337.3 402.8 1336.7 403.1 1336.1 403.5C1335.5 403.9 1335 404.5 1334.4 404.9C1333.7 405.2 1332.9 405.6 1332.1 405.6C1331.4 405.6 1330.6 405.3 1329.9 404.9C1329.2 404.6 1328.6 404.1 1328.1 403.6C1327.5 403.2 1326.9 402.8 1326.4 402.3C1325.9 401.8 1325.5 401.3 1325.1 400.7C1324.6 400.1 1324.4 399.4 1324 398.8C1323.7 398.1 1323.3 397.4 1323 396.6C1322.8 395.8 1322.4 394.8 1322.5 394C1322.6 393.2 1322.9 392.2 1323.4 391.6C1324 390.9 1324.9 390.5 1325.7 390.1C1326.4 389.7 1327.2 389.5 1327.9 389.3C1328.6 389 1329.3 388.6 1330 388.5C1330.7 388.3 1331.4 388.2 1332.1 388.4C1332.8 388.5 1333.5 388.9 1334.1 389.1C1334.8 389.4 1335.3 389.7 1336 390C1336.6 390.2 1337.3 390.4 1338 390.7C1338.6 391.1 1339.4 391.5 1339.9 392.1C1340.4 392.7 1340.8 393.4 1341.1 394.2C1341.4 394.9 1341.7 395.8 1341.7 396.6ZM1446.3 457.1C1446.2 457.5 1446.1 458 1446 458.3C1445.8 458.7 1445.6 459 1445.4 459.3C1445.1 459.6 1444.8 459.9 1444.5 460.1C1444.3 460.4 1444 460.6 1443.7 460.9C1443.4 461.1 1443.1 461.5 1442.8 461.6C1442.4 461.8 1441.9 461.9 1441.6 461.9C1441.2 461.8 1440.8 461.5 1440.4 461.3C1440.1 461.1 1439.9 460.8 1439.6 460.5C1439.3 460.3 1439 460.2 1438.7 460C1438.4 459.8 1438.1 459.6 1437.8 459.3C1437.6 459 1437.4 458.7 1437.2 458.3C1437.1 457.9 1436.9 457.5 1436.9 457.1C1436.8 456.7 1436.7 456.3 1436.8 455.9C1436.9 455.5 1437.1 455 1437.3 454.7C1437.6 454.4 1438 454.1 1438.3 453.9C1438.6 453.7 1439 453.5 1439.4 453.4C1439.7 453.2 1440.1 453 1440.4 453C1440.8 452.9 1441.2 452.9 1441.6 453C1441.9 453 1442.2 453.2 1442.6 453.4C1442.9 453.5 1443.1 453.7 1443.5 453.8C1443.8 453.9 1444.3 453.9 1444.6 454.1C1445 454.2 1445.5 454.4 1445.8 454.7C1446 455 1446.2 455.5 1446.3 455.9C1446.4 456.3 1446.3 456.7 1446.3 457.1ZM1366.3 479.6C1366.2 480 1365.9 480.3 1365.7 480.7C1365.5 481 1365.4 481.3 1365.2 481.6C1365 481.9 1364.7 482.1 1364.5 482.4C1364.2 482.6 1364 482.8 1363.7 483.1C1363.4 483.4 1363.2 483.8 1362.9 484C1362.5 484.2 1362.1 484.4 1361.7 484.4C1361.3 484.4 1360.9 484.1 1360.5 484C1360.1 483.9 1359.7 483.8 1359.4 483.6C1359 483.4 1358.5 483.3 1358.2 483C1357.9 482.8 1357.7 482.3 1357.5 482C1357.4 481.6 1357.3 481.1 1357.3 480.7C1357.2 480.3 1357.1 480 1357.1 479.6C1357.1 479.2 1357.3 478.8 1357.5 478.4C1357.6 478.1 1357.9 477.8 1358.1 477.5C1358.3 477.2 1358.4 476.8 1358.6 476.5C1358.8 476.2 1359.1 475.8 1359.4 475.6C1359.7 475.4 1360.1 475.3 1360.5 475.3C1360.9 475.2 1361.3 475.3 1361.7 475.3C1362.1 475.3 1362.5 475.2 1362.8 475.3C1363.2 475.3 1363.6 475.5 1363.9 475.7C1364.3 475.8 1364.6 476.1 1365 476.3C1365.3 476.5 1365.8 476.7 1366.1 477C1366.4 477.4 1366.7 477.8 1366.7 478.2C1366.7 478.6 1366.5 479.2 1366.3 479.6ZM1394.4 402.8C1394.4 403.3 1394.2 403.7 1394 404.1C1393.8 404.5 1393.6 404.9 1393.3 405.2C1393 405.5 1392.7 405.8 1392.4 406.1C1392.1 406.4 1391.9 406.7 1391.5 407C1391.2 407.3 1390.8 407.6 1390.4 407.7C1390 407.9 1389.6 407.8 1389.1 407.8C1388.7 407.8 1388.3 407.6 1387.9 407.5C1387.4 407.4 1387 407.4 1386.5 407.3C1386.1 407.1 1385.6 407 1385.2 406.7C1384.8 406.4 1384.5 406 1384.4 405.6C1384.2 405.1 1384.2 404.6 1384.1 404.1C1384.1 403.7 1384 403.2 1384.1 402.8C1384.1 402.4 1384.1 401.9 1384.2 401.5C1384.3 401.1 1384.5 400.6 1384.7 400.3C1385 399.9 1385.3 399.6 1385.6 399.3C1385.9 399 1386.2 398.6 1386.6 398.4C1386.9 398.2 1387.4 398 1387.8 397.9C1388.2 397.8 1388.7 398 1389.1 398.1C1389.5 398.2 1389.9 398.4 1390.3 398.4C1390.7 398.5 1391.1 398.5 1391.6 398.5C1392 398.6 1392.6 398.6 1393.1 398.9C1393.5 399.1 1393.9 399.5 1394.1 399.9C1394.4 400.3 1394.4 400.9 1394.5 401.4C1394.5 401.8 1394.5 402.3 1394.4 402.8ZM1349.3 383.6C1349.4 384 1349.6 384.4 1349.7 384.8C1349.7 385.2 1349.7 385.7 1349.5 386C1349.4 386.4 1349 386.6 1348.7 386.9C1348.4 387.2 1348.1 387.4 1347.7 387.6C1347.4 387.7 1346.9 387.8 1346.5 387.8C1346.2 387.8 1345.8 387.6 1345.4 387.6C1345.1 387.6 1344.7 387.7 1344.3 387.7C1344 387.6 1343.6 387.5 1343.3 387.3C1343 387.1 1342.8 386.8 1342.6 386.5C1342.3 386.2 1342.1 386 1341.9 385.7C1341.8 385.3 1341.7 385 1341.7 384.6C1341.6 384.3 1341.8 384 1341.7 383.6C1341.7 383.3 1341.5 382.9 1341.5 382.6C1341.4 382.2 1341.4 381.7 1341.5 381.4C1341.7 381 1342 380.7 1342.2 380.4C1342.5 380.1 1342.7 379.7 1343.1 379.5C1343.4 379.3 1343.8 379.2 1344.2 379.2C1344.6 379.2 1345 379.4 1345.4 379.4C1345.8 379.5 1346.2 379.4 1346.5 379.5C1346.9 379.6 1347.2 379.8 1347.5 380.1C1347.7 380.3 1347.9 380.7 1348.1 381C1348.3 381.3 1348.5 381.5 1348.7 381.7C1348.9 382 1349 382.3 1349.1 382.6C1349.2 383 1349.2 383.3 1349.3 383.6ZM1418.5 417.9C1418.6 418.4 1418.5 418.9 1418.5 419.3C1418.4 419.8 1418.4 420.4 1418.2 420.9C1418 421.3 1417.7 421.8 1417.3 422.1C1416.9 422.4 1416.3 422.5 1415.9 422.7C1415.4 423 1415 423.2 1414.5 423.4C1414.1 423.7 1413.6 424.1 1413.1 424.1C1412.5 424.2 1411.9 424.1 1411.4 423.9C1410.9 423.8 1410.5 423.4 1410.1 423.1C1409.6 422.8 1409.2 422.5 1408.8 422.1C1408.5 421.7 1408.3 421.2 1408.1 420.7C1408 420.3 1408.1 419.7 1408 419.3C1408 418.8 1407.9 418.4 1407.8 417.9C1407.8 417.4 1407.7 416.9 1407.8 416.5C1407.9 416.1 1408.3 415.7 1408.5 415.3C1408.8 414.9 1409 414.6 1409.3 414.1C1409.6 413.7 1409.7 413.2 1410.1 412.8C1410.4 412.3 1410.9 411.9 1411.4 411.7C1411.9 411.5 1412.5 411.4 1413.1 411.4C1413.6 411.3 1414.3 411.3 1414.8 411.5C1415.3 411.7 1415.8 412.1 1416.2 412.5C1416.5 412.9 1416.6 413.7 1416.8 414.2C1417 414.6 1417.1 415.1 1417.3 415.5C1417.5 415.9 1417.9 416.2 1418.1 416.6C1418.3 417 1418.4 417.4 1418.5 417.9ZM1377.2 472.5C1377.3 472.9 1377.6 473.3 1377.6 473.7C1377.7 474.1 1377.6 474.6 1377.5 475C1377.3 475.3 1376.9 475.6 1376.5 475.8C1376.2 476.1 1375.8 476.2 1375.4 476.4C1375.1 476.5 1374.7 476.6 1374.3 476.6C1373.9 476.7 1373.6 476.5 1373.2 476.5C1372.9 476.4 1372.6 476.4 1372.2 476.3C1371.8 476.3 1371.4 476.3 1371.1 476.2C1370.7 476.1 1370.4 475.9 1370.2 475.6C1369.9 475.3 1369.9 474.9 1369.7 474.5C1369.6 474.2 1369.5 473.9 1369.4 473.6C1369.3 473.2 1369.1 472.9 1369.1 472.5C1369.1 472.2 1369.2 471.8 1369.2 471.5C1369.3 471.1 1369.3 470.7 1369.4 470.3C1369.5 470 1369.6 469.5 1369.8 469.2C1370.1 468.8 1370.5 468.6 1370.9 468.5C1371.3 468.4 1371.7 468.4 1372.1 468.4C1372.5 468.3 1372.8 468.3 1373.2 468.3C1373.6 468.3 1374 468.3 1374.3 468.4C1374.6 468.6 1374.9 468.9 1375.2 469.1C1375.5 469.4 1375.7 469.6 1375.9 469.8C1376.2 470.1 1376.5 470.3 1376.6 470.6C1376.8 470.8 1376.9 471.2 1377 471.5C1377.1 471.9 1377.1 472.2 1377.2 472.5ZM1334.1 451C1334.1 451.5 1334.4 452 1334.4 452.4C1334.4 452.9 1334.3 453.5 1334.1 453.9C1333.9 454.3 1333.5 454.7 1333.1 455C1332.8 455.3 1332.4 455.7 1331.9 455.9C1331.5 456 1330.9 456 1330.4 455.9C1330 455.9 1329.6 455.5 1329.1 455.5C1328.7 455.4 1328.4 455.5 1328 455.5C1327.5 455.4 1327.1 455.4 1326.7 455.2C1326.3 455 1326 454.8 1325.7 454.5C1325.3 454.3 1324.8 454.1 1324.5 453.7C1324.2 453.4 1324 452.9 1324 452.4C1323.9 452 1324.1 451.5 1324.1 451C1324.1 450.6 1323.9 450.1 1324 449.6C1324 449.2 1324.2 448.7 1324.4 448.3C1324.6 447.9 1325.1 447.6 1325.4 447.3C1325.7 447 1326 446.6 1326.4 446.3C1326.8 446.1 1327.4 446.1 1327.8 446.1C1328.3 446.1 1328.7 446.3 1329.1 446.3C1329.6 446.4 1330 446.2 1330.4 446.3C1330.8 446.4 1331.3 446.5 1331.6 446.7C1332 446.9 1332.2 447.3 1332.5 447.6C1332.9 447.9 1333.3 448.2 1333.5 448.5C1333.8 448.9 1333.9 449.3 1334 449.7C1334.1 450.1 1334 450.6 1334.1 451ZM1362.2 500.2C1362.1 500.6 1361.8 501.1 1361.6 501.5C1361.3 501.9 1361.1 502.3 1360.8 502.6C1360.6 502.9 1360.2 503.2 1359.9 503.4C1359.6 503.7 1359.3 503.9 1359 504.2C1358.6 504.6 1358.4 505.1 1358 505.4C1357.6 505.7 1357.1 506.1 1356.6 506.1C1356.1 506.2 1355.6 506 1355.1 505.8C1354.6 505.6 1354.2 505.3 1353.8 505.1C1353.4 504.8 1352.9 504.5 1352.6 504.1C1352.3 503.8 1352.2 503.3 1352 502.8C1351.8 502.4 1351.8 501.9 1351.6 501.5C1351.5 501 1351.3 500.6 1351.2 500.2C1351.2 499.7 1351.3 499.2 1351.5 498.8C1351.6 498.4 1352 498 1352.3 497.7C1352.5 497.3 1352.7 496.9 1353 496.5C1353.3 496.2 1353.5 495.7 1353.9 495.4C1354.2 495.2 1354.8 495.1 1355.2 495C1355.7 494.9 1356.1 494.9 1356.6 494.9C1357.1 494.9 1357.6 494.8 1358 494.9C1358.5 495 1358.9 495.2 1359.3 495.5C1359.7 495.8 1360 496.1 1360.3 496.4C1360.7 496.7 1361.2 496.9 1361.6 497.3C1361.9 497.7 1362.3 498.1 1362.5 498.6C1362.6 499.1 1362.4 499.7 1362.2 500.2ZM1409.5 401.4C1409.4 401.8 1409.3 402.2 1409.2 402.5C1409.1 402.9 1408.9 403.3 1408.7 403.5C1408.5 403.8 1408.1 404 1407.9 404.3C1407.6 404.5 1407.4 404.7 1407.1 405C1406.8 405.3 1406.6 405.8 1406.3 406.1C1405.9 406.3 1405.4 406.5 1405 406.5C1404.6 406.5 1404.1 406.3 1403.7 406.2C1403.3 406 1402.9 405.8 1402.6 405.6C1402.3 405.4 1401.9 405.1 1401.7 404.7C1401.5 404.4 1401.4 403.9 1401.3 403.6C1401.2 403.2 1401.1 402.8 1401 402.5C1400.9 402.1 1400.7 401.8 1400.7 401.4C1400.7 401 1400.9 400.7 1401 400.3C1401.1 400 1401.3 399.7 1401.5 399.4C1401.6 399 1401.7 398.6 1401.9 398.3C1402.1 397.9 1402.3 397.5 1402.6 397.2C1402.9 397 1403.3 396.8 1403.7 396.7C1404.2 396.6 1404.6 396.5 1405 396.5C1405.4 396.5 1405.9 396.5 1406.3 396.7C1406.6 396.9 1406.9 397.3 1407.2 397.6C1407.5 397.9 1407.7 398.2 1408 398.4C1408.3 398.7 1408.6 398.9 1408.9 399.2C1409.2 399.4 1409.4 399.8 1409.5 400.2C1409.6 400.6 1409.5 401 1409.5 401.4ZM1334.1 434.2C1334.1 434.6 1334.2 435.1 1334.1 435.5C1333.9 435.8 1333.6 436.2 1333.3 436.5C1333 436.8 1332.6 436.9 1332.2 437.1C1331.9 437.3 1331.7 437.5 1331.4 437.7C1331.1 437.9 1330.8 438.1 1330.4 438.2C1330.1 438.3 1329.7 438.2 1329.4 438.2C1329 438.2 1328.7 438.1 1328.3 438.1C1328 438 1327.5 438.1 1327.2 437.9C1326.9 437.8 1326.5 437.5 1326.3 437.3C1326 437 1325.8 436.7 1325.5 436.4C1325.3 436.1 1324.9 435.8 1324.7 435.4C1324.6 435.1 1324.4 434.6 1324.5 434.2C1324.5 433.8 1324.8 433.4 1325.1 433C1325.3 432.7 1325.5 432.4 1325.8 432.1C1326 431.8 1326.2 431.5 1326.4 431.3C1326.7 431 1327 430.8 1327.3 430.6C1327.6 430.4 1327.9 430.3 1328.3 430.2C1328.6 430 1329 429.8 1329.4 429.8C1329.7 429.7 1330.2 429.8 1330.5 429.9C1330.8 430.1 1331.1 430.5 1331.4 430.7C1331.7 430.9 1331.9 431.1 1332.2 431.3C1332.5 431.6 1332.9 431.7 1333.2 432C1333.4 432.3 1333.6 432.6 1333.8 433C1333.9 433.4 1334 433.8 1334.1 434.2ZM1436.3 446.9C1436.4 447.2 1436.4 447.7 1436.2 448C1436.1 448.4 1435.7 448.6 1435.5 448.9C1435.3 449.2 1435.1 449.6 1434.9 449.8C1434.7 450.1 1434.4 450.5 1434.1 450.7C1433.8 450.9 1433.4 451 1433 451.1C1432.7 451.2 1432.3 451.3 1431.9 451.4C1431.5 451.4 1431.1 451.4 1430.7 451.2C1430.4 451.1 1430.1 450.7 1429.8 450.5C1429.5 450.2 1429.2 450.1 1429 449.8C1428.7 449.6 1428.4 449.3 1428.2 449C1428.1 448.7 1428.1 448.3 1428 447.9C1428 447.5 1427.9 447.2 1427.9 446.9C1427.8 446.5 1427.8 446.1 1428 445.8C1428.1 445.5 1428.3 445.2 1428.5 444.9C1428.6 444.6 1428.7 444.2 1428.9 443.8C1429 443.4 1429.2 443 1429.5 442.7C1429.8 442.5 1430.3 442.4 1430.7 442.3C1431.1 442.2 1431.5 442.1 1431.9 442.2C1432.3 442.2 1432.7 442.4 1433.1 442.6C1433.4 442.8 1433.6 443.3 1433.8 443.6C1434.1 443.8 1434.3 444 1434.6 444.2C1434.9 444.4 1435.2 444.6 1435.4 444.8C1435.7 445.1 1435.7 445.5 1435.9 445.8C1436 446.1 1436.3 446.5 1436.3 446.9ZM1370.7 374.4C1370.7 375.2 1370.3 376.1 1369.8 376.7C1369.4 377.3 1368.6 377.6 1367.8 378C1367.1 378.3 1366 379.1 1365.2 378.9C1364.5 378.8 1363.7 377.6 1363.3 376.9C1362.9 376.1 1362.9 375.2 1362.9 374.4C1362.9 373.6 1363 372.7 1363.4 372.1C1363.9 371.4 1364.7 370.8 1365.4 370.6C1366.2 370.3 1367.2 370.2 1368 370.5C1368.8 370.7 1369.7 371.2 1370.2 371.9C1370.7 372.5 1370.8 373.6 1370.7 374.4ZM1434.6 434C1434.5 434.4 1434.2 434.7 1434.1 435C1433.9 435.4 1433.9 435.7 1433.8 436C1433.7 436.4 1433.5 436.7 1433.3 437C1433.1 437.4 1432.8 437.6 1432.5 437.9C1432.2 438.2 1431.9 438.7 1431.5 438.9C1431.2 439 1430.6 439 1430.2 438.9C1429.8 438.8 1429.4 438.4 1429.1 438.2C1428.7 438 1428.4 437.8 1428.2 437.6C1427.9 437.3 1427.7 437 1427.5 436.8C1427.3 436.5 1427.2 436.2 1427 435.9C1426.8 435.6 1426.4 435.4 1426.2 435.1C1426 434.8 1425.9 434.4 1425.8 434C1425.8 433.6 1426 433.2 1426 432.9C1426.1 432.5 1426.1 432 1426.2 431.7C1426.4 431.3 1426.6 430.9 1426.9 430.7C1427.2 430.4 1427.6 430.3 1428 430.1C1428.3 429.9 1428.6 429.6 1429 429.5C1429.4 429.4 1429.9 429.5 1430.2 429.6C1430.6 429.7 1430.9 430 1431.3 430.1C1431.6 430.2 1432 430.2 1432.3 430.4C1432.6 430.5 1433 430.7 1433.3 431C1433.5 431.2 1433.7 431.5 1433.9 431.8C1434.2 432.1 1434.5 432.5 1434.6 432.8C1434.7 433.2 1434.7 433.6 1434.6 434ZM1422 386.1C1422 386.5 1422 386.9 1421.8 387.3C1421.7 387.7 1421.5 388.1 1421.2 388.4C1420.9 388.7 1420.5 388.9 1420.2 389.1C1419.9 389.3 1419.6 389.5 1419.3 389.7C1419 389.9 1418.7 390.2 1418.3 390.3C1418 390.3 1417.6 390.3 1417.2 390.2C1416.8 390.1 1416.5 390 1416.2 389.9C1415.8 389.8 1415.4 389.8 1415.1 389.7C1414.7 389.6 1414.3 389.5 1414 389.2C1413.7 389 1413.5 388.7 1413.3 388.3C1413 388 1412.8 387.7 1412.6 387.3C1412.5 386.9 1412.3 386.5 1412.4 386.1C1412.4 385.7 1412.7 385.3 1412.9 384.9C1413.1 384.6 1413.3 384.3 1413.5 383.9C1413.7 383.6 1413.8 383.2 1414 382.9C1414.2 382.6 1414.5 382.3 1414.9 382.1C1415.2 381.9 1415.7 381.9 1416.1 381.9C1416.5 381.8 1416.8 381.8 1417.2 381.8C1417.6 381.9 1417.9 382 1418.3 382.1C1418.6 382.3 1418.8 382.6 1419.1 382.8C1419.4 382.9 1419.7 383.1 1420 383.2C1420.4 383.4 1420.9 383.5 1421.2 383.8C1421.5 384 1421.8 384.4 1421.9 384.8C1422.1 385.2 1422 385.7 1422 386.1Z" fill="#39adc6"/>
<path d="M1290.5 372A123.5 123.5 0 0 1 1537.5 360Q1410 221 1290.5 372Z" fill="#fff" opacity="0.10"/>
</g>
<rect x="111" y="654.2" width="709" height="67.8" rx="33.9" fill="#9bdbe2"/>
<rect x="111" y="654.2" width="355" height="67.8" rx="33.9" fill="#ec1c26"/>
<rect x="119" y="930.3" width="1416.2" height="235.5" rx="117.75" fill="#0a1f4a"/>
<path d="M189.5 1142.5C189.7 1145 190.8 1147.5 190.9 1150C191 1152.5 190.5 1155.1 190.2 1157.5C189.8 1160 189.4 1162.5 188.8 1165C188.2 1167.4 187.1 1169.7 186.7 1172.2C186.4 1174.7 187.2 1177.4 186.9 1179.9C186.6 1182.4 185.8 1184.9 184.9 1187.2C184.1 1189.6 182.7 1191.8 181.7 1194.1C180.7 1196.4 180.1 1198.9 179 1201.1C178 1203.4 176.6 1205.5 175.3 1207.7C174 1209.8 172.4 1211.8 171.3 1214C170.2 1216.3 169.7 1218.8 168.7 1221.1C167.7 1223.4 166.8 1225.9 165.3 1227.9C163.8 1229.9 161.1 1231 159.7 1233.1C158.3 1235.2 158.4 1238.5 157 1240.4C155.5 1242.4 152.6 1243.4 150.8 1245.1C148.9 1246.7 147.5 1248.8 145.7 1250.5C143.9 1252.2 141.5 1253.3 139.9 1255.3C138.4 1257.3 137.9 1260.6 136.3 1262.5C134.6 1264.4 131.9 1265.2 129.9 1266.6C127.8 1268.1 126.1 1270.1 124 1271.4C121.9 1272.8 119.6 1273.9 117.2 1274.9C114.9 1275.8 112.1 1276 109.9 1277.1C107.6 1278.2 105.8 1280.1 103.7 1281.4C101.6 1282.7 99.4 1284.2 97.1 1285.1C94.8 1285.9 92 1285.7 89.7 1286.8C87.4 1287.9 85.8 1290.8 83.5 1291.7C81.2 1292.6 78.3 1291.9 75.7 1292.1C73.2 1292.4 70.7 1292.5 68.3 1293.3C65.9 1294.1 63.8 1296.4 61.3 1296.8C58.9 1297.2 56.1 1295.3 53.6 1295.7C51.1 1296.1 48.8 1298.6 46.4 1298.9C43.9 1299.3 41.3 1297.9 38.8 1297.8C36.2 1297.7 33.7 1298.2 31.2 1298.1C28.7 1298 26.3 1297.3 23.8 1297.1C21.3 1296.9 18.7 1297.2 16.3 1296.8C13.8 1296.4 11.4 1295.5 9 1294.8C6.6 1294.2 4.3 1293.1 1.8 1292.9C-0.8 1292.7 -3.7 1294.2 -6.1 1293.6C-8.6 1293.1 -10.4 1290.4 -12.8 1289.6C-15.2 1288.8 -18.1 1289.6 -20.5 1288.7C-22.8 1287.8 -24.4 1285.1 -26.7 1284.2C-29.1 1283.3 -32.2 1284 -34.6 1283.2C-37 1282.4 -39 1280.8 -41.2 1279.5C-43.3 1278.2 -45.4 1276.7 -47.5 1275.3C-49.6 1273.9 -51.8 1272.6 -53.8 1271.1C-55.8 1269.6 -57.6 1267.8 -59.6 1266.3C-61.6 1264.7 -64 1263.7 -65.7 1261.9C-67.5 1260.1 -68.4 1257.3 -70.1 1255.5C-71.8 1253.7 -74.2 1252.6 -76.2 1251.1C-78.2 1249.5 -80.6 1248.3 -82.2 1246.3C-83.7 1244.3 -83.9 1241.2 -85.5 1239.3C-87.1 1237.4 -90.1 1236.5 -91.9 1234.7C-93.6 1232.9 -94.9 1230.6 -96.1 1228.4C-97.2 1226.1 -97.8 1223.5 -98.8 1221.2C-99.8 1218.9 -101.1 1216.8 -102.3 1214.6C-103.5 1212.4 -104.8 1210.2 -105.9 1208C-106.9 1205.7 -107.5 1203.2 -108.7 1201C-109.9 1198.8 -112.3 1197 -113.1 1194.6C-114 1192.3 -113.4 1189.4 -113.7 1186.9C-113.9 1184.3 -114.1 1181.8 -114.6 1179.4C-115 1176.9 -115.5 1174.5 -116.4 1172.1C-117.2 1169.8 -118.7 1167.5 -119.5 1165.1C-120.4 1162.7 -121.2 1160.2 -121.3 1157.7C-121.4 1155.1 -120.4 1152.5 -120.3 1150C-120.2 1147.5 -120.4 1145 -120.5 1142.5C-120.5 1140 -120.5 1137.5 -120.5 1135C-120.5 1132.5 -121 1129.9 -120.5 1127.4C-120.1 1124.9 -118.4 1122.6 -118 1120.2C-117.6 1117.7 -118.2 1115 -117.9 1112.6C-117.6 1110.1 -116.7 1107.7 -116.2 1105.2C-115.6 1102.8 -115.3 1100.3 -114.4 1097.9C-113.5 1095.6 -111.8 1093.5 -110.7 1091.2C-109.7 1088.9 -108.9 1086.6 -108.1 1084.2C-107.2 1081.9 -106.3 1079.6 -105.6 1077.2C-104.9 1074.7 -105 1071.8 -103.9 1069.6C-102.7 1067.4 -100 1066 -98.6 1063.9C-97.2 1061.8 -96.7 1059.2 -95.3 1057.1C-93.9 1055 -92 1053.3 -90.3 1051.5C-88.6 1049.6 -86.9 1047.8 -85.3 1045.9C-83.6 1044 -81.8 1042.4 -80.4 1040.3C-79 1038.2 -78.5 1035.2 -77 1033.2C-75.5 1031.2 -73.5 1029.5 -71.5 1028C-69.5 1026.5 -67 1025.5 -65 1023.9C-63.1 1022.4 -61.7 1020.1 -59.8 1018.5C-57.9 1016.8 -55.7 1015.6 -53.6 1014.1C-51.6 1012.6 -49.8 1010.8 -47.7 1009.4C-45.6 1007.9 -43.6 1006.4 -41.3 1005.4C-38.9 1004.4 -36 1004.5 -33.8 1003.4C-31.5 1002.2 -29.9 999.8 -27.7 998.5C-25.5 997.3 -23.1 996.5 -20.6 995.8C-18.2 995.1 -15.6 995.1 -13.1 994.3C-10.7 993.6 -8.6 991.9 -6.2 991.3C-3.7 990.7 -1.1 991 1.5 990.7C4 990.4 6.4 989.9 8.9 989.6C11.4 989.3 13.9 989.5 16.4 988.9C18.8 988.4 21.2 986.4 23.7 986.2C26.1 986.1 28.8 987.7 31.3 988.1C33.8 988.5 36.2 988.7 38.7 988.4C41.2 988.1 43.8 986.6 46.3 986.5C48.9 986.3 51.4 986.8 53.8 987.3C56.3 987.8 58.7 988.9 61.2 989.3C63.7 989.7 66.4 988.9 68.8 989.6C71.2 990.4 73.1 992.9 75.5 993.8C77.8 994.8 80.4 994.7 82.8 995.3C85.2 996 87.5 996.9 89.9 997.7C92.3 998.5 94.7 999.1 97 1000.2C99.3 1001.2 101.3 1002.8 103.5 1004C105.6 1005.3 107.7 1006.6 109.9 1007.8C112.1 1008.9 114.4 1009.9 116.8 1010.8C119.1 1011.8 121.8 1012.4 124 1013.5C126.3 1014.7 128.4 1016.2 130.3 1017.7C132.3 1019.3 134 1021.2 135.8 1023.1C137.5 1024.9 139.2 1026.8 140.9 1028.7C142.5 1030.6 143.8 1032.8 145.7 1034.4C147.7 1036 150.7 1036.7 152.5 1038.4C154.2 1040.2 154.8 1043 156.3 1045.1C157.8 1047.1 160.1 1048.5 161.4 1050.7C162.6 1052.8 162.7 1055.8 163.8 1058.1C165 1060.3 166.6 1062.2 168.3 1064.1C169.9 1066.1 172.2 1067.7 173.6 1069.7C175.1 1071.8 175.8 1074.3 176.9 1076.6C177.9 1078.9 179.3 1081 180.1 1083.4C181 1085.8 181.4 1088.3 182 1090.8C182.6 1093.2 183.1 1095.7 183.8 1098.1C184.5 1100.5 185.4 1102.8 186.2 1105.2C187 1107.6 188.3 1109.9 188.7 1112.4C189 1114.9 188.1 1117.6 188.3 1120.1C188.5 1122.6 189.7 1125 189.9 1127.5C190.1 1130 189.7 1132.5 189.6 1135C189.6 1137.5 189.2 1140 189.5 1142.5Z" fill="#9bdbe2"/><path d="M38 983.8C38 984.3 38 984.8 37.9 985.3C37.8 985.8 37.6 986.3 37.4 986.7C37.2 987.2 36.9 987.6 36.6 988C36.4 988.5 36.2 988.9 35.9 989.3C35.7 989.8 35.6 990.3 35.4 990.7C35.1 991.2 34.8 991.6 34.5 992C34.1 992.3 33.6 992.5 33.1 992.7C32.6 992.9 32.1 992.9 31.6 993C31.1 993.1 30.6 993.2 30.2 993.3C29.8 993.4 29.4 993.7 29 993.8C28.5 994 28.1 994.3 27.7 994.4C27.2 994.5 26.7 994.6 26.2 994.6C25.8 994.7 25.3 994.6 24.8 994.5C24.4 994.5 23.9 994.5 23.4 994.5C22.9 994.5 22.3 994.6 21.7 994.7C21.1 994.7 20.5 994.9 19.9 994.8C19.3 994.8 18.6 994.7 18.1 994.4C17.6 994.1 17.1 993.7 16.7 993.3C16.4 992.8 16.1 992.3 15.8 991.8C15.5 991.2 15.3 990.7 15.1 990.2C14.8 989.7 14.6 989.2 14.4 988.7C14.3 988.1 14.1 987.5 14.2 987C14.2 986.4 14.4 985.8 14.6 985.3C14.8 984.7 15.1 984.2 15.3 983.8C15.6 983.3 15.8 982.8 15.9 982.4C16.1 981.9 16.1 981.5 16.1 981C16.2 980.6 16.2 980.1 16.3 979.6C16.4 979.2 16.6 978.7 16.8 978.3C17 977.9 17.4 977.5 17.7 977.2C18 976.8 18.4 976.5 18.7 976.2C19 975.8 19.2 975.4 19.5 975C19.8 974.6 20.1 974.1 20.5 973.7C20.8 973.4 21.3 973 21.7 972.9C22.2 972.7 22.8 972.6 23.3 972.6C23.8 972.6 24.3 972.7 24.8 972.7C25.3 972.7 25.8 972.7 26.2 972.6C26.7 972.5 27.2 972.4 27.8 972.3C28.3 972.3 28.8 972.2 29.3 972.2C29.9 972.3 30.4 972.4 30.9 972.6C31.3 972.8 31.8 973.2 32.2 973.5C32.6 973.7 33.1 974 33.5 974.3C34 974.5 34.5 974.7 35 975C35.4 975.3 36 975.6 36.3 976C36.7 976.4 37 976.9 37.2 977.4C37.4 977.9 37.4 978.6 37.5 979.1C37.5 979.7 37.5 980.2 37.5 980.7C37.6 981.3 37.7 981.7 37.7 982.2C37.8 982.7 38 983.2 38 983.8ZM50.2 1030C50.4 1031.1 50.9 1032.3 51.1 1033.4C51.3 1034.6 51.6 1035.9 51.5 1037.1C51.3 1038.3 50.8 1039.4 50.3 1040.5C49.7 1041.5 48.7 1042.3 48 1043.3C47.3 1044.2 46.5 1045.1 45.9 1046C45.2 1047 44.7 1048.1 44 1049C43.3 1049.9 42.4 1050.8 41.4 1051.4C40.4 1052 39.2 1052.3 38 1052.6C36.9 1052.8 35.7 1052.8 34.6 1053.1C33.5 1053.3 32.5 1053.7 31.5 1054.1C30.4 1054.6 29.5 1055.3 28.4 1055.7C27.3 1056.1 26.1 1056.5 25 1056.6C23.9 1056.7 22.7 1056.4 21.6 1056.1C20.4 1055.9 19.4 1055.4 18.3 1055.1C17.2 1054.8 16 1054.7 14.9 1054.4C13.7 1054.2 12.5 1054 11.4 1053.5C10.4 1053 9.4 1052.2 8.7 1051.2C8 1050.2 7.7 1048.9 7.3 1047.7C6.8 1046.6 6.6 1045.4 6.2 1044.4C5.8 1043.4 5.2 1042.6 4.7 1041.7C4.2 1040.8 3.5 1040 3.1 1039.1C2.7 1038.1 2.6 1037.1 2.4 1036C2.3 1035 2.5 1034 2.4 1033C2.2 1032 2.1 1031 1.7 1030C1.3 1029 0.5 1027.9 0 1026.7C-0.4 1025.5 -1.1 1024.2 -1.3 1023C-1.4 1021.7 -1.3 1020.4 -1 1019.2C-0.7 1018.1 0 1017 0.6 1015.9C1.1 1014.8 1.7 1013.7 2.3 1012.6C2.9 1011.5 3.4 1010.2 4.2 1009.2C5 1008.2 6 1007.2 7.1 1006.7C8.2 1006.1 9.7 1005.9 11 1005.8C12.3 1005.7 13.8 1005.9 15 1005.9C16.3 1005.9 17.4 1005.8 18.5 1005.7C19.6 1005.5 20.6 1005.1 21.7 1005C22.8 1004.9 23.9 1004.8 25 1004.9C26.1 1005.1 27.1 1005.6 28.2 1006C29.2 1006.4 30.1 1007 31.1 1007.3C32.1 1007.6 33.1 1007.7 34.2 1007.8C35.3 1008 36.5 1007.9 37.6 1008.2C38.6 1008.5 39.7 1009 40.5 1009.7C41.4 1010.4 41.9 1011.5 42.6 1012.4C43.2 1013.3 43.7 1014.3 44.4 1015.1C45.1 1016 45.9 1016.7 46.7 1017.5C47.4 1018.3 48.3 1019.1 48.9 1020.1C49.4 1021.1 49.7 1022.2 49.9 1023.3C50 1024.4 49.8 1025.6 49.9 1026.7C49.9 1027.8 50 1028.9 50.2 1030ZM94 1021.2C93.6 1021.8 93.2 1022.3 93 1022.8C92.7 1023.3 92.7 1023.8 92.5 1024.3C92.3 1024.7 92.1 1025.2 91.8 1025.6C91.5 1026 91 1026.3 90.6 1026.7C90.3 1027 90 1027.3 89.8 1027.8C89.6 1028.3 89.6 1028.9 89.4 1029.4C89.2 1029.9 89 1030.5 88.6 1030.9C88.3 1031.2 87.7 1031.4 87.3 1031.7C86.8 1032 86.4 1032.3 86 1032.6C85.5 1033 85.2 1033.6 84.7 1034C84.2 1034.3 83.6 1034.6 83 1034.7C82.5 1034.8 81.8 1034.6 81.2 1034.5C80.7 1034.4 80.1 1034.3 79.5 1034.3C79 1034.2 78.3 1034.4 77.7 1034.4C77.1 1034.4 76.5 1034.3 76 1034C75.4 1033.8 75 1033.3 74.5 1032.9C74 1032.6 73.6 1032.2 73.1 1031.9C72.5 1031.6 71.9 1031.5 71.3 1031.2C70.8 1030.8 70.3 1030.4 70 1029.9C69.7 1029.4 69.6 1028.6 69.5 1028.1C69.3 1027.5 69.2 1026.9 69 1026.3C68.8 1025.8 68.4 1025.3 68.3 1024.7C68.1 1024.2 68 1023.6 68.1 1023C68.2 1022.4 68.6 1021.8 68.8 1021.2C69 1020.7 69.2 1020.2 69.3 1019.7C69.4 1019.1 69.3 1018.6 69.3 1018.1C69.4 1017.5 69.5 1017 69.8 1016.5C70 1016 70.5 1015.6 70.8 1015.2C71.1 1014.8 71.5 1014.4 71.7 1013.9C72 1013.5 72.1 1012.8 72.3 1012.3C72.6 1011.9 73 1011.4 73.4 1011.1C73.9 1010.8 74.5 1010.7 75.1 1010.6C75.6 1010.4 76.1 1010.3 76.6 1010.1C77.1 1009.9 77.5 1009.4 78 1009.2C78.5 1009 79.1 1008.8 79.6 1008.8C80.2 1008.8 80.7 1009.2 81.2 1009.3C81.8 1009.4 82.3 1009.5 82.8 1009.5C83.3 1009.4 83.9 1009.2 84.5 1009.1C85.1 1009 85.7 1009 86.3 1009.1C86.8 1009.2 87.3 1009.6 87.9 1009.8C88.4 1010 89 1010.2 89.6 1010.4C90.2 1010.6 91 1010.6 91.7 1010.8C92.3 1011.1 93 1011.5 93.4 1011.9C93.8 1012.4 93.9 1013.2 94.2 1013.8C94.4 1014.4 94.5 1015.1 94.7 1015.7C94.9 1016.3 95.2 1016.9 95.3 1017.5C95.4 1018.1 95.3 1018.8 95.1 1019.4C94.9 1020.1 94.3 1020.7 94 1021.2ZM139.9 1023.8C139.8 1024.3 139.8 1024.8 139.8 1025.4C139.8 1025.9 140 1026.5 139.9 1027.1C139.8 1027.6 139.5 1028.1 139.2 1028.6C138.9 1029.1 138.4 1029.4 138.1 1029.9C137.9 1030.4 137.7 1030.9 137.4 1031.4C137.2 1031.9 137.1 1032.5 136.7 1032.9C136.3 1033.3 135.8 1033.6 135.2 1033.8C134.7 1034 134 1034 133.5 1034.2C133 1034.4 132.6 1034.6 132.1 1034.9C131.6 1035.1 131.2 1035.6 130.7 1035.7C130.2 1035.8 129.6 1035.8 129.1 1035.7C128.5 1035.7 128 1035.4 127.5 1035.4C127 1035.4 126.5 1035.6 125.9 1035.7C125.4 1035.9 124.7 1036.2 124.1 1036.3C123.6 1036.3 123 1036.2 122.4 1036.1C121.8 1035.9 121.4 1035.6 120.8 1035.4C120.2 1035.3 119.5 1035.2 118.8 1035C118.2 1034.9 117.4 1034.8 116.8 1034.4C116.3 1034.1 115.9 1033.5 115.6 1032.9C115.3 1032.3 115.2 1031.6 115.1 1030.9C114.9 1030.3 114.6 1029.7 114.5 1029.2C114.3 1028.6 114 1028 114 1027.4C114 1026.7 114.3 1026.1 114.6 1025.5C114.8 1024.9 115.3 1024.3 115.6 1023.8C115.8 1023.2 115.9 1022.7 116 1022.2C116.1 1021.7 116 1021.2 116.2 1020.7C116.3 1020.2 116.6 1019.8 116.9 1019.4C117.2 1018.9 117.6 1018.6 117.8 1018.2C118.1 1017.7 118.1 1017.2 118.3 1016.7C118.4 1016.1 118.4 1015.4 118.7 1014.9C118.9 1014.4 119.3 1014 119.8 1013.7C120.2 1013.3 120.8 1013.2 121.2 1012.9C121.7 1012.6 122.1 1012.2 122.5 1011.8C123 1011.4 123.5 1010.9 124 1010.7C124.5 1010.5 125.2 1010.5 125.8 1010.5C126.3 1010.6 126.9 1010.9 127.5 1011C128.1 1011 128.6 1011 129.2 1010.9C129.8 1010.9 130.4 1010.7 131 1010.8C131.5 1010.9 132.1 1011.1 132.6 1011.4C133.1 1011.7 133.5 1012.2 134 1012.5C134.5 1012.8 135.1 1012.9 135.6 1013.2C136.2 1013.4 136.9 1013.5 137.3 1013.9C137.8 1014.3 138.1 1014.8 138.4 1015.4C138.7 1015.9 138.7 1016.6 138.9 1017.2C139.1 1017.7 139.4 1018.2 139.7 1018.7C140 1019.2 140.4 1019.7 140.5 1020.3C140.6 1020.8 140.5 1021.5 140.4 1022C140.3 1022.6 140 1023.2 139.9 1023.8ZM117.3 1058.8C117.3 1059.6 117.5 1060.5 117.6 1061.4C117.7 1062.3 118.1 1063.3 118.1 1064.3C118.1 1065.2 118.1 1066.3 117.7 1067.1C117.4 1068 116.6 1068.7 116 1069.4C115.3 1070.1 114.4 1070.6 113.7 1071.2C113 1071.8 112.4 1072.4 111.7 1072.9C111 1073.5 110.5 1074.2 109.7 1074.7C109 1075.1 108.2 1075.5 107.3 1075.7C106.4 1075.9 105.5 1075.8 104.6 1075.9C103.7 1075.9 102.9 1075.7 102.1 1075.8C101.3 1075.9 100.6 1076.1 99.8 1076.3C99.1 1076.5 98.3 1076.9 97.5 1077C96.7 1077 95.9 1076.9 95.1 1076.7C94.4 1076.5 93.7 1075.9 93 1075.6C92.3 1075.2 91.7 1074.8 91 1074.5C90.2 1074.3 89.4 1074.2 88.7 1074C87.9 1073.8 87 1073.7 86.3 1073.3C85.6 1073 85 1072.4 84.4 1071.8C83.9 1071.2 83.6 1070.5 83.1 1069.8C82.6 1069.2 82.1 1068.6 81.4 1068C80.8 1067.4 80 1066.9 79.2 1066.3C78.5 1065.7 77.7 1065 77.2 1064.2C76.7 1063.4 76.4 1062.5 76.1 1061.6C75.9 1060.7 76 1059.7 75.9 1058.8C75.8 1057.8 75.7 1056.9 75.7 1055.9C75.6 1054.9 75.4 1053.8 75.6 1052.9C75.8 1051.9 76 1050.9 76.6 1050.1C77.2 1049.3 78.1 1048.6 79 1048.1C79.9 1047.5 81 1047.2 81.8 1046.7C82.7 1046.3 83.5 1045.9 84.2 1045.5C84.9 1045 85.5 1044.5 86.3 1044.1C87 1043.7 87.8 1043.4 88.6 1043.3C89.4 1043.1 90.3 1043.2 91 1043.1C91.8 1043.1 92.5 1043.1 93.2 1042.9C94 1042.7 94.6 1042.2 95.3 1041.9C96 1041.5 96.7 1040.9 97.5 1040.6C98.3 1040.3 99.1 1040.1 100 1040.1C100.8 1040.1 101.6 1040.4 102.4 1040.6C103.1 1040.9 103.9 1041.2 104.7 1041.4C105.5 1041.6 106.4 1041.6 107.3 1041.8C108.1 1042.1 109 1042.3 109.7 1042.8C110.4 1043.3 111 1044 111.5 1044.8C111.9 1045.5 112.1 1046.5 112.5 1047.2C112.8 1048 113.1 1048.8 113.6 1049.5C114 1050.2 114.6 1050.7 115.2 1051.4C115.7 1052.1 116.3 1052.8 116.6 1053.6C117 1054.4 117.1 1055.3 117.2 1056.2C117.3 1057 117.2 1057.9 117.3 1058.8ZM152.5 1061.2C152.7 1061.8 153 1062.4 153.2 1063C153.3 1063.6 153.6 1064.3 153.6 1064.9C153.6 1065.5 153.4 1066.1 153.2 1066.7C153 1067.3 152.5 1067.8 152.1 1068.3C151.8 1068.8 151.3 1069.2 151 1069.7C150.6 1070.1 150.3 1070.6 149.9 1071.1C149.5 1071.6 149.2 1072.2 148.7 1072.7C148.3 1073.1 147.8 1073.5 147.3 1073.8C146.7 1074.1 146.1 1074.3 145.5 1074.4C144.8 1074.6 144.2 1074.6 143.6 1074.6C143 1074.7 142.4 1074.8 141.8 1074.9C141.2 1075 140.6 1075.2 140 1075.2C139.4 1075.3 138.8 1075.3 138.2 1075.1C137.6 1074.9 137 1074.6 136.5 1074.2C136 1073.8 135.6 1073.3 135.2 1072.9C134.7 1072.5 134.4 1072.1 133.9 1071.8C133.5 1071.4 133 1071.2 132.6 1071C132.1 1070.7 131.6 1070.4 131.1 1070.1C130.7 1069.8 130.3 1069.4 130 1068.9C129.7 1068.5 129.4 1068 129.2 1067.5C128.9 1067 128.6 1066.6 128.3 1066.1C128 1065.6 127.6 1065.2 127.2 1064.7C126.8 1064.2 126.3 1063.7 126 1063.1C125.8 1062.5 125.6 1061.9 125.5 1061.2C125.5 1060.6 125.7 1060 125.9 1059.4C126.1 1058.8 126.5 1058.3 126.8 1057.7C127 1057.2 127.3 1056.6 127.6 1056.1C127.8 1055.6 128 1055 128.3 1054.5C128.6 1054 128.9 1053.5 129.3 1053C129.7 1052.6 130.2 1052.3 130.7 1052C131.2 1051.7 131.8 1051.5 132.3 1051.2C132.8 1050.9 133.2 1050.6 133.6 1050.2C134.1 1049.8 134.4 1049.3 134.9 1048.9C135.3 1048.4 135.8 1047.9 136.3 1047.5C136.9 1047.2 137.5 1046.9 138.1 1046.8C138.7 1046.7 139.4 1046.7 140 1046.8C140.6 1046.8 141.2 1047 141.9 1047.1C142.5 1047.2 143.1 1047.2 143.7 1047.4C144.3 1047.5 145 1047.7 145.5 1047.9C146.1 1048.2 146.6 1048.6 147 1049.1C147.4 1049.6 147.7 1050.3 148 1050.8C148.3 1051.4 148.4 1052.1 148.6 1052.6C148.9 1053.1 149.1 1053.6 149.4 1054C149.7 1054.5 150.1 1054.8 150.4 1055.2C150.8 1055.6 151.1 1056.1 151.4 1056.5C151.6 1057 151.8 1057.5 151.9 1058.1C152.1 1058.6 152.1 1059.1 152.2 1059.6C152.3 1060.2 152.4 1060.7 152.5 1061.2ZM48.7 1090C48.6 1090.6 48.2 1091.3 47.9 1091.9C47.7 1092.5 47.4 1093 47.2 1093.6C47 1094.2 47 1094.8 46.9 1095.4C46.8 1096.1 46.7 1096.8 46.5 1097.4C46.2 1097.9 45.8 1098.5 45.4 1098.9C45 1099.4 44.4 1099.7 43.9 1100.1C43.4 1100.6 43 1100.9 42.5 1101.5C42.1 1102 41.8 1102.6 41.4 1103.2C40.9 1103.7 40.5 1104.4 39.9 1104.8C39.3 1105.2 38.6 1105.5 37.9 1105.6C37.3 1105.8 36.5 1105.7 35.8 1105.8C35.1 1105.8 34.5 1105.9 33.8 1106C33 1106.1 32.3 1106.3 31.6 1106.3C30.9 1106.3 30.1 1106.3 29.4 1106.1C28.8 1105.8 28.1 1105.3 27.6 1104.9C27 1104.5 26.6 1103.8 26 1103.4C25.5 1103 24.9 1102.6 24.4 1102.3C23.8 1101.9 23.1 1101.7 22.5 1101.3C21.9 1100.9 21.3 1100.5 20.8 1099.9C20.4 1099.4 20.1 1098.7 19.8 1098.1C19.4 1097.4 19.3 1096.8 19 1096.1C18.7 1095.5 18.3 1094.9 18 1094.2C17.7 1093.6 17.2 1092.9 17.1 1092.2C17 1091.5 17 1090.7 17.2 1090C17.4 1089.3 17.9 1088.6 18.4 1088C18.8 1087.4 19.4 1086.8 19.8 1086.3C20.2 1085.7 20.4 1085.2 20.8 1084.6C21.1 1084.1 21.3 1083.5 21.7 1083.1C22.1 1082.6 22.6 1082.2 23.2 1081.9C23.7 1081.5 24.3 1081.3 24.8 1081C25.2 1080.7 25.6 1080.4 26 1079.9C26.4 1079.4 26.6 1078.8 26.9 1078.2C27.2 1077.5 27.6 1076.8 28 1076.2C28.5 1075.7 29.1 1075.2 29.7 1074.9C30.3 1074.5 31 1074.3 31.6 1074C32.3 1073.8 33 1073.4 33.8 1073.1C34.5 1072.9 35.3 1072.4 36.1 1072.3C36.9 1072.1 37.8 1072 38.5 1072.2C39.3 1072.4 40 1072.9 40.6 1073.4C41.2 1073.9 41.7 1074.7 42.3 1075.3C42.8 1075.8 43.3 1076.4 43.8 1076.9C44.3 1077.4 44.9 1077.8 45.4 1078.4C45.8 1078.9 46.3 1079.5 46.6 1080.2C46.8 1080.8 46.9 1081.6 47 1082.3C47.2 1083 47.1 1083.8 47.3 1084.4C47.4 1085.1 47.6 1085.6 47.9 1086.2C48.1 1086.8 48.5 1087.4 48.6 1088C48.7 1088.7 48.8 1089.4 48.7 1090ZM95.7 1110C95.8 1110.5 96.1 1111.1 96.1 1111.6C96.2 1112.2 96.2 1112.8 96.1 1113.3C95.9 1113.8 95.6 1114.3 95.5 1114.8C95.3 1115.4 95.1 1115.9 95 1116.5C94.9 1117.1 94.9 1117.8 94.7 1118.4C94.6 1119 94.3 1119.7 93.9 1120.2C93.5 1120.6 92.9 1120.9 92.3 1121.1C91.7 1121.4 91.1 1121.5 90.6 1121.8C90 1122.1 89.5 1122.4 89 1122.7C88.5 1123 87.9 1123.3 87.3 1123.4C86.8 1123.5 86.1 1123.4 85.5 1123.3C84.9 1123.2 84.3 1122.9 83.8 1122.8C83.2 1122.7 82.7 1122.7 82.1 1122.8C81.5 1122.9 80.8 1123.1 80.2 1123.1C79.6 1123.2 79 1123.1 78.4 1123C77.8 1122.8 77.3 1122.4 76.8 1122.1C76.2 1121.8 75.7 1121.5 75.1 1121.3C74.5 1121 73.8 1120.9 73.2 1120.6C72.6 1120.2 72 1119.8 71.7 1119.3C71.3 1118.7 71.2 1118 71.1 1117.3C71 1116.6 71.1 1115.9 71.1 1115.3C71 1114.6 70.9 1114.1 70.8 1113.5C70.8 1112.9 70.7 1112.3 70.8 1111.7C70.9 1111.1 71.2 1110.5 71.5 1110C71.7 1109.5 72.2 1109 72.5 1108.5C72.7 1108 72.9 1107.6 73 1107.1C73 1106.6 72.9 1106 72.9 1105.5C73 1105 73.1 1104.4 73.3 1104C73.5 1103.5 73.9 1103.1 74.2 1102.6C74.4 1102.2 74.7 1101.8 75 1101.2C75.2 1100.6 75.3 1099.9 75.5 1099.3C75.8 1098.7 76.1 1098 76.6 1097.5C77 1097.1 77.6 1096.9 78.2 1096.7C78.8 1096.4 79.5 1096.4 80.1 1096.2C80.7 1096 81.2 1095.8 81.8 1095.6C82.5 1095.4 83.1 1095.1 83.8 1095C84.4 1095 85.1 1095.2 85.7 1095.4C86.3 1095.6 86.8 1096 87.4 1096.3C88 1096.6 88.5 1096.8 89.1 1097C89.7 1097.2 90.4 1097.3 90.9 1097.5C91.5 1097.8 92.1 1098.2 92.5 1098.6C92.9 1099.1 93.1 1099.8 93.4 1100.4C93.6 1101 93.8 1101.6 94 1102.1C94.3 1102.6 94.7 1103 95 1103.5C95.3 1104 95.6 1104.5 95.8 1105C95.9 1105.6 95.8 1106.2 95.7 1106.8C95.7 1107.4 95.5 1107.9 95.4 1108.5C95.4 1109 95.5 1109.5 95.7 1110ZM164.6 1115C164.7 1116.1 164.6 1117.3 164.3 1118.4C164 1119.4 163.2 1120.4 162.9 1121.5C162.6 1122.5 162.5 1123.6 162.4 1124.8C162.3 1126 162.7 1127.5 162.4 1128.7C162.2 1129.9 161.7 1131.1 161 1132.1C160.3 1133.1 159.2 1133.7 158.4 1134.6C157.5 1135.5 156.8 1136.4 156 1137.5C155.2 1138.5 154.6 1139.9 153.6 1140.8C152.6 1141.6 151.4 1142.2 150.1 1142.5C148.9 1142.7 147.4 1142.4 146.1 1142.4C144.8 1142.5 143.6 1142.6 142.4 1142.9C141.2 1143.1 140 1143.7 138.8 1143.8C137.5 1143.8 136.2 1143.5 135 1143.1C133.9 1142.7 132.8 1141.7 131.7 1141.2C130.6 1140.7 129.5 1140.4 128.3 1140.2C127.1 1139.9 125.7 1140 124.6 1139.6C123.4 1139.2 122.3 1138.4 121.5 1137.5C120.6 1136.6 120.2 1135.3 119.5 1134.2C118.9 1133.2 118.2 1132.3 117.5 1131.3C116.7 1130.4 115.7 1129.7 115.2 1128.6C114.6 1127.6 114.4 1126.3 114.4 1125.1C114.5 1123.8 115.1 1122.4 115.3 1121.3C115.5 1120.1 115.6 1119.1 115.5 1118.1C115.4 1117 114.8 1116 114.8 1115C114.7 1114 114.9 1112.9 115.2 1111.9C115.4 1110.9 116.2 1110 116.4 1109C116.7 1108 116.6 1107 116.5 1105.8C116.4 1104.6 115.9 1103.1 115.9 1101.8C115.9 1100.5 116.1 1099.1 116.6 1098C117.1 1096.9 118 1096 118.7 1094.9C119.4 1093.8 119.9 1092.6 120.7 1091.4C121.4 1090.2 121.9 1088.5 122.9 1087.6C123.9 1086.6 125.2 1085.9 126.6 1085.6C127.9 1085.2 129.5 1085.6 130.9 1085.6C132.3 1085.6 133.6 1085.6 134.9 1085.6C136.2 1085.5 137.5 1085.1 138.8 1085.3C140 1085.5 141.3 1086 142.5 1086.7C143.6 1087.4 144.6 1088.6 145.6 1089.4C146.7 1090.1 147.6 1090.6 148.7 1091C149.7 1091.5 151 1091.5 152 1092C153.1 1092.5 154 1093.2 154.8 1094.1C155.5 1095 155.9 1096.3 156.5 1097.2C157.2 1098.1 157.9 1098.9 158.7 1099.7C159.6 1100.4 160.8 1101 161.5 1101.9C162.2 1102.8 162.7 1103.9 162.9 1105C163.1 1106.1 162.7 1107.4 162.8 1108.6C162.9 1109.7 163.1 1110.7 163.4 1111.8C163.7 1112.8 164.4 1113.9 164.6 1115ZM196.8 1097.5C196.7 1098.1 196.9 1098.7 196.8 1099.2C196.7 1099.8 196.7 1100.4 196.5 1100.9C196.2 1101.4 195.7 1101.9 195.3 1102.3C194.8 1102.7 194.3 1103 193.9 1103.3C193.5 1103.7 193.2 1104.1 192.9 1104.6C192.7 1105 192.5 1105.5 192.1 1105.9C191.8 1106.3 191.4 1106.6 190.9 1106.8C190.5 1107.1 189.9 1107.2 189.5 1107.5C189.1 1107.7 188.7 1108 188.2 1108.4C187.8 1108.7 187.5 1109.3 187 1109.6C186.5 1110 186 1110.4 185.5 1110.5C184.9 1110.6 184.3 1110.5 183.8 1110.5C183.2 1110.5 182.6 1110.3 182.1 1110.3C181.5 1110.3 180.9 1110.4 180.3 1110.4C179.7 1110.3 179.1 1110.3 178.5 1110.1C178 1109.9 177.5 1109.4 177.1 1109C176.7 1108.6 176.4 1108 176 1107.6C175.6 1107.2 175.1 1106.9 174.6 1106.6C174.2 1106.3 173.6 1106 173.1 1105.7C172.7 1105.3 172.3 1104.8 172 1104.3C171.7 1103.8 171.5 1103.2 171.3 1102.6C171.1 1102.1 170.9 1101.6 170.6 1101C170.3 1100.5 169.8 1100 169.6 1099.4C169.3 1098.8 169.1 1098.1 169.2 1097.5C169.2 1096.9 169.6 1096.2 169.9 1095.7C170.2 1095.1 170.6 1094.6 171 1094.1C171.3 1093.5 171.5 1093 171.7 1092.5C172 1092 172.3 1091.5 172.7 1091.1C173.1 1090.7 173.7 1090.5 174.3 1090.2C174.8 1090 175.5 1089.9 176 1089.7C176.4 1089.5 176.8 1089.2 177.2 1088.9C177.5 1088.6 177.8 1088.1 178.1 1087.8C178.5 1087.4 178.9 1087.1 179.4 1086.9C179.8 1086.7 180.3 1086.6 180.8 1086.5C181.3 1086.3 181.7 1086.1 182.2 1085.8C182.7 1085.6 183.2 1085 183.8 1084.7C184.3 1084.4 184.9 1084.1 185.5 1084C186.1 1084 186.7 1084.2 187.3 1084.3C187.8 1084.5 188.4 1084.8 188.9 1085C189.5 1085.2 190.1 1085.3 190.7 1085.5C191.3 1085.7 191.9 1085.8 192.4 1086.2C192.9 1086.5 193.3 1087.1 193.7 1087.6C194 1088.1 194.2 1088.7 194.5 1089.3C194.8 1089.8 195.1 1090.3 195.4 1090.8C195.8 1091.2 196.3 1091.6 196.6 1092.2C196.9 1092.7 197.2 1093.3 197.3 1093.9C197.4 1094.5 197.2 1095.1 197.1 1095.7C197 1096.3 196.8 1096.9 196.8 1097.5ZM55.6 1147.5C55.4 1148.8 54.8 1150 54.2 1151.2C53.5 1152.3 52.5 1153.3 51.7 1154.3C50.8 1155.3 49.9 1156.1 49.3 1157C48.6 1158 48.2 1158.9 47.7 1159.9C47.3 1160.9 47 1162.1 46.6 1163.1C46.1 1164.1 45.6 1165.2 44.9 1166.1C44.2 1167 43.3 1167.8 42.4 1168.6C41.6 1169.4 40.6 1170 39.7 1170.8C38.8 1171.6 38 1172.5 37 1173.5C36 1174.4 35.1 1175.6 34 1176.4C32.9 1177.2 31.6 1178.1 30.3 1178.4C29 1178.7 27.6 1178.7 26.3 1178.4C24.9 1178.2 23.6 1177.5 22.4 1177C21.1 1176.5 20 1175.8 18.8 1175.3C17.6 1174.8 16.4 1174.5 15.3 1174C14.1 1173.5 12.9 1173.1 11.9 1172.4C10.8 1171.7 9.9 1170.8 9.1 1169.9C8.3 1168.9 7.6 1167.8 6.9 1166.8C6.2 1165.8 5.6 1164.9 4.8 1164C3.9 1163.1 2.9 1162.4 1.9 1161.5C0.9 1160.7 -0.3 1159.9 -1.2 1158.9C-2.1 1157.9 -2.9 1156.7 -3.4 1155.4C-3.9 1154.2 -3.9 1152.8 -3.9 1151.5C-3.9 1150.1 -3.6 1148.8 -3.4 1147.5C-3.2 1146.2 -3.1 1144.9 -2.8 1143.7C-2.6 1142.4 -2.6 1141.1 -2.2 1139.9C-1.8 1138.7 -1.4 1137.4 -0.6 1136.4C0.1 1135.3 1.2 1134.4 2.3 1133.7C3.3 1132.9 4.6 1132.4 5.7 1131.7C6.7 1131 7.6 1130.5 8.5 1129.7C9.3 1129 9.9 1128 10.7 1127.2C11.4 1126.3 12.1 1125.3 13 1124.5C13.8 1123.7 14.9 1123.1 15.9 1122.6C17 1122.1 18.2 1122 19.3 1121.7C20.5 1121.4 21.6 1121.3 22.8 1120.9C23.9 1120.6 25 1120.1 26.2 1119.6C27.5 1119.2 28.8 1118.6 30.1 1118.4C31.4 1118.2 32.8 1118.2 34 1118.5C35.3 1118.8 36.5 1119.5 37.6 1120.1C38.7 1120.7 39.7 1121.6 40.8 1122.3C41.9 1123 42.9 1123.6 44.1 1124.3C45.2 1124.9 46.6 1125.3 47.7 1126C48.9 1126.8 50.1 1127.5 51 1128.5C51.9 1129.5 52.6 1130.7 53.1 1132C53.6 1133.2 53.8 1134.7 54 1136C54.3 1137.3 54.4 1138.6 54.7 1139.9C54.9 1141.2 55.3 1142.4 55.4 1143.7C55.6 1144.9 55.8 1146.2 55.6 1147.5ZM114.4 1163.8C114 1164.6 113.6 1165.4 113.2 1166.1C112.9 1166.9 112.6 1167.7 112.3 1168.4C111.9 1169.1 111.6 1169.8 111.1 1170.4C110.7 1171.1 110.1 1171.6 109.5 1172.1C108.9 1172.6 108.1 1173 107.6 1173.4C107 1173.8 106.4 1174.2 106 1174.7C105.5 1175.2 105.2 1175.9 104.8 1176.5C104.4 1177.1 104.1 1178 103.6 1178.6C103.1 1179.2 102.5 1179.8 101.8 1180.2C101.2 1180.6 100.4 1180.9 99.6 1181C98.9 1181.2 98.1 1181.3 97.3 1181.4C96.6 1181.5 95.8 1181.7 95 1181.8C94.2 1182 93.4 1182.2 92.6 1182.2C91.8 1182.2 90.9 1182.2 90.1 1181.9C89.4 1181.7 88.7 1181.1 88 1180.7C87.3 1180.2 86.8 1179.5 86.2 1179C85.6 1178.4 85.1 1178 84.4 1177.5C83.8 1177.1 83 1176.9 82.3 1176.5C81.6 1176.1 80.8 1175.7 80.1 1175.1C79.5 1174.6 79 1174 78.5 1173.3C78.1 1172.6 77.9 1171.7 77.6 1170.9C77.4 1170.2 77.2 1169.4 76.9 1168.6C76.6 1167.8 76.3 1167.1 76 1166.2C75.8 1165.4 75.4 1164.6 75.4 1163.8C75.3 1162.9 75.4 1162 75.6 1161.2C75.9 1160.4 76.5 1159.6 77 1158.9C77.4 1158.2 78.1 1157.6 78.6 1156.9C79.1 1156.3 79.5 1155.7 79.9 1155C80.3 1154.4 80.6 1153.6 81 1153C81.4 1152.3 81.8 1151.7 82.4 1151.1C82.9 1150.6 83.7 1150.2 84.4 1149.9C85.1 1149.6 85.9 1149.4 86.6 1149.1C87.3 1148.9 88 1148.7 88.6 1148.4C89.3 1148 89.9 1147.6 90.6 1147.3C91.3 1147 92 1146.6 92.7 1146.4C93.5 1146.3 94.3 1146.3 95 1146.5C95.7 1146.6 96.5 1147 97.2 1147.2C97.9 1147.4 98.5 1147.7 99.3 1147.9C100 1148 100.7 1148 101.5 1148.1C102.2 1148.2 103.1 1148.2 103.9 1148.3C104.7 1148.5 105.5 1148.7 106.2 1149.1C107 1149.5 107.6 1150 108.3 1150.5C108.9 1151 109.5 1151.6 110.1 1152.2C110.8 1152.7 111.5 1153.2 112.1 1153.9C112.8 1154.5 113.6 1155.1 114.2 1155.8C114.7 1156.5 115.3 1157.4 115.5 1158.3C115.7 1159.1 115.6 1160.1 115.4 1161.1C115.2 1162 114.8 1162.9 114.4 1163.8ZM181.6 1158.8C181.6 1159.4 181.7 1160 181.7 1160.6C181.7 1161.2 181.6 1161.9 181.4 1162.5C181.1 1163 180.5 1163.5 180.1 1164C179.7 1164.4 179.2 1164.8 178.8 1165.3C178.5 1165.8 178.4 1166.4 178.2 1166.9C177.9 1167.5 177.7 1168.1 177.3 1168.5C176.9 1169 176.3 1169.2 175.7 1169.5C175.2 1169.8 174.7 1170 174.2 1170.3C173.7 1170.7 173.4 1171.3 172.9 1171.7C172.4 1172.1 171.8 1172.6 171.2 1172.7C170.7 1172.9 170 1172.7 169.3 1172.7C168.7 1172.6 168.1 1172.4 167.5 1172.4C166.9 1172.5 166.3 1172.7 165.7 1172.7C165 1172.8 164.4 1172.8 163.8 1172.7C163.2 1172.5 162.7 1172 162.2 1171.7C161.6 1171.3 161.2 1170.9 160.6 1170.7C160 1170.4 159.3 1170.4 158.7 1170.2C158.1 1170 157.3 1169.8 156.8 1169.5C156.3 1169.1 155.9 1168.5 155.5 1167.9C155.1 1167.4 154.9 1166.8 154.5 1166.3C154 1165.7 153.4 1165.3 153 1164.7C152.6 1164.2 152.2 1163.5 152.1 1162.9C152 1162.2 152.3 1161.4 152.5 1160.7C152.7 1160 153 1159.4 153.2 1158.8C153.4 1158.1 153.3 1157.5 153.5 1156.9C153.6 1156.3 153.8 1155.7 154.1 1155.2C154.5 1154.7 155.1 1154.2 155.6 1153.8C156.1 1153.4 156.6 1153.1 156.9 1152.6C157.2 1152.2 157.3 1151.6 157.5 1151.1C157.7 1150.6 157.9 1149.9 158.3 1149.5C158.6 1149.1 159.1 1148.8 159.6 1148.4C160 1148.1 160.5 1147.8 160.9 1147.3C161.3 1146.9 161.6 1146.2 162.1 1145.6C162.5 1145.1 163 1144.5 163.6 1144.3C164.2 1144 164.9 1144.1 165.6 1144C166.2 1144 166.8 1144.1 167.5 1144.1C168.2 1144.1 168.8 1143.8 169.5 1143.8C170.1 1143.8 170.8 1143.8 171.4 1144.1C172 1144.3 172.5 1144.9 173 1145.4C173.6 1145.8 174 1146.3 174.5 1146.7C175 1147 175.6 1147.1 176.2 1147.4C176.8 1147.7 177.4 1148 177.9 1148.4C178.3 1148.8 178.5 1149.5 178.9 1150C179.2 1150.6 179.4 1151.2 179.7 1151.7C180.1 1152.2 180.7 1152.6 181.1 1153.1C181.5 1153.6 182 1154.2 182.1 1154.8C182.3 1155.5 182.1 1156.2 182 1156.8C181.9 1157.5 181.6 1158.1 181.6 1158.8ZM163.7 1195C163.6 1195.9 163.4 1196.7 163.1 1197.5C162.8 1198.4 162.3 1199.1 161.9 1199.9C161.6 1200.6 161.1 1201.3 160.9 1202.1C160.6 1202.9 160.4 1203.7 160.2 1204.5C160 1205.3 159.8 1206.3 159.5 1207.1C159.1 1207.8 158.6 1208.6 158 1209.2C157.3 1209.8 156.5 1210.2 155.7 1210.6C154.9 1211 154 1211.1 153.2 1211.5C152.5 1211.8 151.7 1212.1 151 1212.4C150.2 1212.7 149.5 1213.2 148.7 1213.4C147.9 1213.7 147.1 1213.9 146.2 1213.9C145.4 1213.9 144.6 1213.7 143.8 1213.5C142.9 1213.3 142.2 1212.9 141.4 1212.6C140.7 1212.4 140 1212.2 139.2 1212.1C138.4 1212 137.5 1212.1 136.7 1212C135.9 1211.9 134.9 1211.9 134.1 1211.6C133.3 1211.4 132.6 1210.9 131.9 1210.4C131.3 1209.9 130.8 1209.2 130.2 1208.5C129.7 1207.9 129.2 1207.2 128.7 1206.6C128.1 1205.9 127.5 1205.4 126.9 1204.7C126.3 1204.1 125.6 1203.5 125.1 1202.7C124.6 1202 124.3 1201.1 124.1 1200.3C123.9 1199.4 123.9 1198.5 124 1197.6C124 1196.7 124.2 1195.9 124.2 1195C124.2 1194.1 124.1 1193.3 124 1192.4C124 1191.5 123.7 1190.6 123.7 1189.6C123.7 1188.7 123.7 1187.7 124 1186.8C124.3 1186 124.8 1185.1 125.4 1184.4C126 1183.7 126.8 1183.1 127.6 1182.6C128.3 1182 129 1181.5 129.7 1181C130.4 1180.4 131 1179.8 131.8 1179.4C132.5 1178.9 133.2 1178.4 134.1 1178.2C134.9 1178 135.8 1177.9 136.7 1178C137.6 1178 138.5 1178.3 139.3 1178.5C140.1 1178.6 140.9 1178.8 141.6 1178.9C142.4 1178.9 143 1178.7 143.8 1178.6C144.5 1178.4 145.2 1178.1 146 1177.9C146.8 1177.8 147.6 1177.6 148.4 1177.7C149.2 1177.7 150 1177.9 150.8 1178C151.6 1178.2 152.3 1178.5 153.2 1178.7C154 1178.9 154.9 1179 155.8 1179.2C156.8 1179.5 157.9 1179.6 158.7 1180C159.6 1180.4 160.6 1180.9 161.2 1181.6C161.8 1182.3 162.2 1183.2 162.5 1184.2C162.8 1185.1 162.8 1186.1 163 1187C163.1 1188 163.1 1188.9 163.2 1189.8C163.3 1190.7 163.5 1191.5 163.6 1192.4C163.7 1193.3 163.8 1194.1 163.7 1195ZM65.9 1203.8C65.7 1204.4 65.5 1205 65.4 1205.6C65.3 1206.2 65.3 1206.9 65.3 1207.5C65.3 1208.2 65.3 1208.9 65.2 1209.5C65 1210.1 64.7 1210.8 64.3 1211.3C64 1211.8 63.3 1212.2 62.8 1212.6C62.3 1213 61.7 1213.3 61.2 1213.7C60.8 1214.1 60.4 1214.6 59.9 1215C59.4 1215.4 59 1215.9 58.4 1216.1C57.9 1216.4 57.2 1216.5 56.6 1216.6C55.9 1216.6 55.3 1216.5 54.6 1216.4C54 1216.4 53.5 1216.4 52.9 1216.4C52.4 1216.5 51.8 1216.8 51.2 1216.9C50.7 1217 50.1 1217.2 49.5 1217.3C48.9 1217.3 48.3 1217.1 47.7 1216.9C47.2 1216.7 46.7 1216.4 46.1 1216.2C45.6 1215.9 45 1215.7 44.4 1215.6C43.8 1215.4 43.1 1215.3 42.5 1215.1C41.9 1214.9 41.3 1214.6 40.9 1214.1C40.4 1213.7 40.1 1213.1 39.8 1212.5C39.6 1211.9 39.5 1211.3 39.2 1210.7C39 1210.1 38.7 1209.6 38.4 1209.1C38.1 1208.5 37.6 1208 37.3 1207.5C37.1 1206.9 36.8 1206.3 36.8 1205.7C36.7 1205 36.8 1204.4 36.8 1203.8C36.8 1203.1 37 1202.5 36.9 1201.9C36.9 1201.2 36.8 1200.6 36.7 1199.9C36.7 1199.2 36.5 1198.4 36.6 1197.7C36.7 1197 37 1196.3 37.4 1195.7C37.8 1195.2 38.4 1194.7 39 1194.3C39.5 1193.9 40.1 1193.6 40.7 1193.2C41.3 1192.8 41.7 1192.4 42.3 1192.1C42.8 1191.7 43.4 1191.3 44 1191.2C44.6 1191 45.3 1191 46 1191.1C46.7 1191.1 47.4 1191.4 48 1191.5C48.6 1191.6 49.1 1191.8 49.7 1191.8C50.2 1191.8 50.7 1191.6 51.2 1191.5C51.8 1191.3 52.4 1191.1 52.9 1191.1C53.5 1191.1 54 1191.2 54.6 1191.3C55.1 1191.4 55.6 1191.7 56.2 1191.8C56.8 1192 57.3 1192 58 1192.1C58.6 1192.2 59.4 1192.1 60.1 1192.3C60.7 1192.4 61.5 1192.6 62 1193C62.5 1193.4 62.9 1194 63.3 1194.5C63.6 1195.1 63.8 1195.8 64 1196.4C64.3 1197 64.6 1197.5 64.9 1198.1C65.2 1198.7 65.7 1199.2 65.9 1199.8C66.1 1200.4 66.2 1201.1 66.2 1201.8C66.2 1202.4 66 1203.1 65.9 1203.8ZM23.7 1210C23.6 1210.8 23.5 1211.6 23.4 1212.4C23.2 1213.2 23.1 1214 22.7 1214.7C22.3 1215.4 21.6 1216.1 21 1216.6C20.3 1217.1 19.4 1217.5 18.7 1217.9C18.1 1218.4 17.5 1218.7 17 1219.2C16.5 1219.7 16.3 1220.4 15.8 1220.8C15.4 1221.3 14.9 1221.8 14.3 1222.1C13.7 1222.4 13 1222.5 12.4 1222.7C11.7 1223 11.1 1223.1 10.6 1223.5C10 1223.8 9.6 1224.4 9 1224.9C8.4 1225.3 7.8 1225.8 7.1 1226C6.4 1226.2 5.7 1226.1 5 1226.1C4.3 1226 3.6 1225.7 2.9 1225.7C2.2 1225.6 1.5 1225.7 0.8 1225.8C0 1225.8 -0.8 1225.9 -1.5 1225.8C-2.3 1225.6 -3 1225.3 -3.6 1224.9C-4.2 1224.5 -4.7 1223.8 -5.2 1223.3C-5.8 1222.9 -6.4 1222.5 -7.1 1222.1C-7.8 1221.7 -8.7 1221.5 -9.3 1221C-10 1220.5 -10.7 1220 -11.1 1219.3C-11.6 1218.7 -11.7 1217.8 -11.9 1217C-12.1 1216.2 -12.2 1215.4 -12.4 1214.7C-12.6 1213.9 -13 1213.2 -13.1 1212.4C-13.3 1211.6 -13.5 1210.8 -13.4 1210C-13.3 1209.2 -12.9 1208.4 -12.4 1207.7C-12 1207 -11.3 1206.4 -10.9 1205.7C-10.5 1205.1 -10.2 1204.5 -9.9 1203.8C-9.6 1203.2 -9.5 1202.4 -9.1 1201.8C-8.8 1201.2 -8.3 1200.7 -7.8 1200.2C-7.2 1199.7 -6.5 1199.5 -6 1199C-5.4 1198.6 -4.9 1198.2 -4.4 1197.7C-3.9 1197.2 -3.6 1196.5 -3.1 1195.9C-2.6 1195.4 -2.1 1194.8 -1.4 1194.5C-0.8 1194.3 0.1 1194.3 0.8 1194.2C1.5 1194.2 2.2 1194.3 2.9 1194.3C3.6 1194.2 4.3 1194 5 1193.9C5.7 1193.8 6.5 1193.6 7.1 1193.7C7.8 1193.8 8.5 1194.2 9.1 1194.5C9.8 1194.9 10.3 1195.5 10.9 1195.9C11.4 1196.2 12 1196.4 12.7 1196.6C13.4 1196.8 14.2 1196.8 14.9 1197.1C15.6 1197.3 16.3 1197.6 16.9 1198.1C17.5 1198.5 18 1199.1 18.5 1199.6C19 1200.2 19.6 1200.7 20.2 1201.2C20.8 1201.8 21.7 1202.2 22.4 1202.8C23 1203.4 23.7 1204.1 24 1204.9C24.3 1205.7 24.3 1206.6 24.2 1207.5C24.2 1208.3 23.9 1209.2 23.7 1210ZM128.4 1240C127.8 1241.1 126.8 1242.1 126.2 1243.1C125.7 1244.1 125.2 1245 124.8 1246C124.5 1247 124.5 1248 124.2 1249C123.9 1249.9 123.5 1250.9 122.9 1251.8C122.3 1252.6 121.4 1253.2 120.7 1254C120.1 1254.8 119.4 1255.4 118.9 1256.4C118.4 1257.3 118.1 1258.6 117.6 1259.7C117.1 1260.8 116.5 1262.1 115.7 1262.9C114.9 1263.8 113.8 1264.3 112.8 1264.8C111.7 1265.2 110.5 1265.3 109.4 1265.8C108.3 1266.2 107.2 1266.8 106.1 1267.2C104.9 1267.7 103.7 1268.4 102.5 1268.5C101.3 1268.6 100 1268.3 98.8 1267.9C97.7 1267.5 96.6 1266.6 95.5 1266C94.5 1265.4 93.5 1264.8 92.4 1264.4C91.3 1264 90.1 1263.9 89 1263.4C87.9 1263 86.8 1262.4 85.9 1261.6C85.1 1260.8 84.5 1259.6 83.9 1258.6C83.3 1257.6 82.9 1256.5 82.2 1255.6C81.6 1254.6 80.7 1253.9 80 1253C79.3 1252.1 78.4 1251.2 78.1 1250.1C77.8 1249 77.9 1247.7 78 1246.6C78.1 1245.4 78.6 1244.2 78.7 1243.1C78.9 1242 78.8 1241.1 78.8 1240C78.7 1238.9 78.3 1237.9 78.4 1236.8C78.5 1235.8 78.8 1234.7 79.2 1233.8C79.6 1232.8 80.5 1232 81 1231.1C81.5 1230.2 81.9 1229.3 82.1 1228.2C82.4 1227.2 82.3 1225.9 82.6 1224.7C82.9 1223.6 83.2 1222.3 83.9 1221.4C84.5 1220.4 85.5 1219.7 86.4 1219.1C87.3 1218.4 88.4 1217.9 89.3 1217.2C90.3 1216.5 91.1 1215.5 92 1214.8C93 1214 94.1 1213.1 95.2 1212.8C96.4 1212.5 97.7 1212.6 98.9 1212.8C100.1 1213 101.3 1213.7 102.5 1214C103.7 1214.3 104.7 1214.5 105.8 1214.6C107 1214.8 108.2 1214.6 109.2 1214.8C110.3 1215.1 111.5 1215.5 112.4 1216C113.4 1216.6 114.2 1217.6 115.1 1218.2C116 1218.9 116.8 1219.5 117.8 1220C118.9 1220.5 120.2 1220.7 121.3 1221.2C122.4 1221.7 123.7 1222.3 124.5 1223.1C125.3 1224 125.8 1225.2 126.2 1226.3C126.6 1227.4 126.7 1228.7 127.1 1229.8C127.5 1230.9 128.1 1231.9 128.4 1233.1C128.8 1234.2 129.3 1235.3 129.3 1236.5C129.3 1237.6 128.9 1238.9 128.4 1240ZM170.2 1241.2C170.2 1241.8 169.9 1242.4 169.8 1243C169.7 1243.6 169.6 1244.2 169.5 1244.8C169.5 1245.4 169.6 1246.1 169.4 1246.7C169.3 1247.3 168.9 1247.9 168.5 1248.3C168 1248.7 167.3 1249 166.7 1249.3C166.2 1249.6 165.7 1249.9 165.2 1250.2C164.8 1250.6 164.5 1251.1 164 1251.4C163.6 1251.7 163 1251.9 162.5 1252C161.9 1252.1 161.3 1252 160.7 1252.1C160.2 1252.1 159.7 1252.3 159.3 1252.5C158.8 1252.7 158.4 1253.3 157.9 1253.5C157.4 1253.8 156.8 1254 156.2 1254.1C155.7 1254.2 155.1 1254 154.6 1254C154 1254 153.4 1254 152.8 1254.1C152.2 1254.2 151.4 1254.5 150.7 1254.5C150.1 1254.5 149.4 1254.4 148.9 1254.1C148.3 1253.8 147.9 1253.1 147.5 1252.7C147 1252.3 146.6 1251.8 146.1 1251.4C145.6 1251 144.9 1250.7 144.5 1250.3C144.1 1249.8 143.8 1249.2 143.6 1248.6C143.4 1247.9 143.5 1247.2 143.4 1246.6C143.3 1245.9 143.2 1245.4 143.1 1244.8C142.9 1244.2 142.5 1243.7 142.3 1243.1C142.2 1242.5 142.2 1241.8 142.3 1241.2C142.4 1240.7 142.9 1240.1 143.1 1239.5C143.3 1239 143.5 1238.4 143.7 1237.9C143.8 1237.3 143.8 1236.7 144 1236.2C144.2 1235.6 144.5 1235.1 144.9 1234.7C145.4 1234.3 146.1 1234.1 146.5 1233.8C147 1233.5 147.4 1233.2 147.8 1232.8C148.2 1232.4 148.4 1231.8 148.7 1231.4C149.1 1231.1 149.6 1230.7 150 1230.5C150.5 1230.3 151.1 1230.3 151.6 1230.1C152.1 1229.9 152.6 1229.7 153.1 1229.3C153.5 1229 154 1228.4 154.5 1228.1C155 1227.7 155.7 1227.5 156.2 1227.4C156.8 1227.3 157.4 1227.5 158.1 1227.6C158.7 1227.6 159.3 1227.6 159.9 1227.6C160.5 1227.6 161.3 1227.4 161.9 1227.6C162.5 1227.7 163.2 1228 163.7 1228.4C164.1 1228.8 164.4 1229.6 164.8 1230.1C165.2 1230.6 165.5 1231.1 165.9 1231.6C166.3 1232 166.9 1232.3 167.2 1232.8C167.6 1233.3 167.9 1233.9 168.1 1234.4C168.2 1235 168.1 1235.7 168.2 1236.3C168.3 1236.9 168.5 1237.4 168.8 1237.9C169 1238.4 169.5 1238.9 169.8 1239.5C170 1240 170.2 1240.7 170.2 1241.2ZM65.6 1255C65.7 1255.8 66.1 1256.6 66.4 1257.5C66.6 1258.4 67 1259.4 67 1260.2C66.9 1261.1 66.4 1261.9 66 1262.6C65.5 1263.4 64.7 1264 64.3 1264.7C63.8 1265.4 63.5 1266.2 63 1266.9C62.6 1267.7 62.2 1268.5 61.5 1269C60.9 1269.6 59.9 1269.8 59.1 1270.1C58.2 1270.4 57.3 1270.3 56.5 1270.7C55.8 1271 55.2 1271.5 54.5 1272C53.8 1272.4 53.2 1273.1 52.4 1273.5C51.7 1273.8 50.8 1273.8 50 1273.8C49.2 1273.9 48.3 1273.7 47.5 1273.8C46.7 1273.9 45.8 1274.3 44.9 1274.6C44 1274.8 43 1275.2 42.1 1275.1C41.2 1275 40.4 1274.5 39.6 1274.1C38.8 1273.7 38.2 1272.9 37.4 1272.4C36.7 1272 35.8 1271.7 35 1271.3C34.2 1270.8 33.3 1270.4 32.7 1269.8C32.1 1269.1 31.8 1268.1 31.5 1267.2C31.2 1266.4 31.2 1265.4 30.9 1264.6C30.6 1263.8 30.1 1263.1 29.7 1262.4C29.3 1261.6 28.6 1260.9 28.4 1260.1C28.2 1259.3 28.4 1258.4 28.5 1257.5C28.6 1256.7 29 1255.8 29.1 1255C29.2 1254.2 29 1253.4 29 1252.6C29 1251.7 28.8 1250.8 29 1250.1C29.3 1249.3 30 1248.6 30.5 1248C31.1 1247.3 31.9 1246.9 32.3 1246.3C32.8 1245.6 33 1244.9 33.4 1244.2C33.8 1243.5 34 1242.6 34.5 1242C35 1241.4 35.8 1241.1 36.5 1240.7C37.2 1240.3 38 1240.1 38.6 1239.6C39.3 1239.1 39.7 1238.4 40.3 1237.7C40.9 1237 41.6 1236.1 42.3 1235.6C43 1235.1 44 1234.9 44.8 1234.7C45.7 1234.5 46.6 1234.6 47.5 1234.4C48.4 1234.2 49.3 1233.8 50.3 1233.6C51.3 1233.4 52.4 1233.1 53.3 1233.4C54.2 1233.6 55.1 1234.3 55.8 1234.9C56.6 1235.6 57.1 1236.6 57.8 1237.2C58.4 1237.9 59.1 1238.4 59.8 1239C60.4 1239.6 61.1 1240.2 61.6 1240.9C62 1241.7 62.1 1242.8 62.3 1243.7C62.5 1244.5 62.3 1245.5 62.6 1246.3C62.8 1247.1 63.3 1247.6 63.7 1248.3C64.2 1248.9 64.8 1249.5 65.1 1250.3C65.4 1251 65.5 1251.8 65.5 1252.6C65.6 1253.4 65.4 1254.2 65.6 1255ZM16.8 1261.2C16.9 1261.8 17.2 1262.4 17.3 1263C17.3 1263.6 17.5 1264.3 17.3 1264.9C17.2 1265.5 16.7 1266 16.3 1266.5C16 1267 15.5 1267.3 15.2 1267.8C14.8 1268.3 14.7 1268.9 14.3 1269.4C14 1269.8 13.7 1270.4 13.2 1270.7C12.7 1271 12 1271.1 11.4 1271.3C10.9 1271.4 10.3 1271.5 9.8 1271.7C9.3 1271.9 8.9 1272.3 8.4 1272.6C8 1272.8 7.5 1273.2 7 1273.3C6.5 1273.4 5.9 1273.2 5.3 1273.2C4.8 1273.1 4.3 1273 3.8 1273C3.2 1273 2.7 1273.3 2.2 1273.3C1.6 1273.4 1 1273.5 0.5 1273.4C-0 1273.2 -0.5 1272.8 -0.9 1272.5C-1.4 1272.2 -1.7 1271.8 -2.2 1271.6C-2.7 1271.3 -3.3 1271.3 -3.8 1271.1C-4.3 1270.9 -4.9 1270.7 -5.3 1270.3C-5.7 1270 -6 1269.4 -6.3 1268.9C-6.6 1268.5 -6.8 1268 -7.2 1267.6C-7.6 1267.1 -8.2 1266.8 -8.6 1266.4C-9.1 1265.9 -9.7 1265.5 -10 1264.9C-10.3 1264.4 -10.3 1263.7 -10.4 1263.1C-10.5 1262.5 -10.5 1261.9 -10.6 1261.2C-10.6 1260.6 -10.9 1260 -11 1259.3C-11 1258.7 -11.1 1257.9 -10.8 1257.4C-10.5 1256.8 -9.9 1256.3 -9.4 1255.8C-8.9 1255.3 -8.2 1255 -7.8 1254.6C-7.3 1254.2 -7 1253.7 -6.5 1253.4C-6.1 1253 -5.7 1252.6 -5.1 1252.4C-4.6 1252.2 -3.9 1252.2 -3.3 1252.1C-2.7 1252 -2.1 1252 -1.7 1251.9C-1.2 1251.7 -0.9 1251.3 -0.5 1251C-0.1 1250.7 0.3 1250.3 0.8 1250.1C1.2 1249.9 1.8 1250 2.3 1249.9C2.8 1249.8 3.2 1249.8 3.7 1249.6C4.3 1249.4 4.8 1249 5.4 1248.8C6 1248.6 6.6 1248.3 7.2 1248.3C7.8 1248.3 8.3 1248.7 8.8 1248.9C9.4 1249.2 9.8 1249.6 10.3 1249.8C10.9 1250.1 11.5 1250.2 12 1250.5C12.6 1250.7 13.1 1251 13.5 1251.5C13.9 1252 14 1252.7 14.2 1253.2C14.4 1253.8 14.5 1254.4 14.8 1254.9C15 1255.4 15.5 1255.8 15.8 1256.3C16.1 1256.7 16.6 1257.2 16.7 1257.8C16.9 1258.3 16.8 1259 16.8 1259.5C16.8 1260.1 16.7 1260.7 16.8 1261.2ZM84.6 1291.2C84.7 1291.7 84.8 1292.2 85 1292.7C85.1 1293.2 85.3 1293.8 85.3 1294.4C85.3 1294.9 85.2 1295.4 85 1295.9C84.7 1296.4 84.2 1296.7 83.9 1297.1C83.5 1297.5 83.1 1297.8 82.7 1298.2C82.4 1298.5 82.2 1299 81.8 1299.3C81.4 1299.6 81.1 1300 80.6 1300.2C80.1 1300.4 79.6 1300.4 79.1 1300.5C78.6 1300.5 78.1 1300.5 77.6 1300.6C77.2 1300.7 76.8 1301 76.4 1301.2C76 1301.4 75.6 1301.8 75.2 1301.9C74.7 1302.1 74.2 1302.1 73.8 1302.1C73.3 1302.1 72.8 1301.9 72.4 1301.8C71.9 1301.8 71.4 1301.8 70.9 1301.8C70.4 1301.8 69.9 1301.9 69.4 1301.8C68.9 1301.7 68.4 1301.5 68 1301.2C67.6 1300.9 67.4 1300.3 67.1 1299.9C66.9 1299.5 66.7 1299 66.4 1298.6C66.1 1298.2 65.8 1298 65.5 1297.6C65.2 1297.2 64.9 1296.9 64.8 1296.4C64.6 1296 64.6 1295.5 64.6 1295C64.5 1294.6 64.6 1294.1 64.5 1293.7C64.4 1293.3 64.2 1292.9 64 1292.5C63.8 1292.1 63.4 1291.7 63.2 1291.2C63.1 1290.8 63 1290.3 63 1289.8C63 1289.4 63.2 1288.9 63.3 1288.4C63.4 1288 63.4 1287.5 63.4 1287C63.5 1286.5 63.4 1285.8 63.5 1285.3C63.6 1284.8 63.8 1284.3 64.1 1283.9C64.5 1283.5 65 1283.2 65.4 1282.9C65.9 1282.7 66.4 1282.5 66.8 1282.2C67.2 1281.9 67.6 1281.6 68 1281.3C68.4 1281 68.8 1280.7 69.3 1280.6C69.8 1280.4 70.4 1280.5 70.9 1280.5C71.4 1280.5 71.9 1280.6 72.4 1280.7C72.8 1280.7 73.3 1280.6 73.8 1280.6C74.2 1280.5 74.7 1280.3 75.2 1280.4C75.6 1280.4 76.1 1280.6 76.5 1280.8C77 1281 77.3 1281.5 77.7 1281.8C78 1282.1 78.4 1282.4 78.7 1282.6C79.1 1282.8 79.6 1282.9 80 1283.1C80.3 1283.4 80.7 1283.6 81 1284C81.3 1284.3 81.4 1284.8 81.6 1285.2C81.8 1285.6 81.9 1286.1 82.1 1286.4C82.3 1286.8 82.7 1287.1 83 1287.4C83.3 1287.8 83.8 1288.1 84 1288.5C84.3 1288.9 84.4 1289.4 84.5 1289.8C84.6 1290.3 84.5 1290.8 84.6 1291.2Z" fill="#39adc6"/>
<path d="M1902.1 2080C1901.7 2082.5 1899.8 2085 1899.1 2087.4C1898.5 2089.9 1898 2092.3 1898.4 2094.8C1898.7 2097.3 1901.2 2100.1 1901 2102.5C1900.9 2105 1898.2 2107.2 1897.3 2109.6C1896.5 2112 1896.1 2114.4 1896 2116.9C1895.8 2119.4 1896.7 2122.1 1896.3 2124.6C1895.9 2127.1 1894.1 2129.2 1893.6 2131.6C1893.2 2134.1 1894.2 2137 1893.5 2139.4C1892.7 2141.7 1889.9 2143.4 1889.2 2145.8C1888.4 2148.2 1889.9 2151.4 1889.1 2153.7C1888.3 2156.1 1885.5 2157.7 1884.3 2159.9C1883.2 2162.2 1883 2164.8 1882.3 2167.2C1881.6 2169.6 1881.2 2172.2 1880.2 2174.5C1879.1 2176.7 1877.2 2178.6 1876 2180.8C1874.8 2183 1874.3 2185.6 1873.1 2187.7C1871.8 2189.9 1870.3 2191.9 1868.6 2193.8C1866.8 2195.6 1863.9 2196.7 1862.6 2198.8C1861.3 2200.9 1861.9 2204.4 1860.7 2206.6C1859.5 2208.7 1857.2 2210.2 1855.4 2211.9C1853.6 2213.7 1851.7 2215.4 1849.9 2217.1C1848.2 2218.9 1846.2 2220.4 1844.7 2222.5C1843.3 2224.5 1842.9 2227.5 1841.3 2229.5C1839.7 2231.4 1837.1 2232.4 1835.4 2234.1C1833.6 2235.9 1832.5 2238.4 1830.7 2240.1C1828.9 2241.9 1826.6 2243 1824.7 2244.7C1822.7 2246.3 1821.3 2248.4 1819.2 2249.9C1817.2 2251.3 1814.5 2252 1812.4 2253.3C1810.3 2254.7 1808.6 2256.6 1806.5 2258C1804.5 2259.4 1802.3 2260.7 1800.1 2261.8C1797.9 2262.9 1795.2 2263.2 1793.1 2264.6C1791 2266 1789.9 2269.1 1787.7 2270.3C1785.5 2271.5 1782.3 2270.8 1780 2271.8C1777.7 2272.8 1776.1 2275 1773.9 2276.4C1771.8 2277.7 1769.6 2279 1767.2 2279.9C1764.9 2280.7 1762.4 2281.2 1759.9 2281.6C1757.4 2282 1754.6 2281.5 1752.3 2282.4C1749.9 2283.2 1748.1 2285.8 1745.8 2286.8C1743.5 2287.8 1740.9 2288 1738.4 2288.2C1735.9 2288.4 1733.3 2288.1 1730.8 2288.3C1728.3 2288.4 1725.8 2288.6 1723.4 2289.2C1721 2289.9 1718.7 2291.7 1716.3 2292C1713.8 2292.4 1711.2 2290.8 1708.7 2291.2C1706.2 2291.7 1704 2294.5 1701.5 2294.9C1699.1 2295.4 1696.5 2294 1694 2293.9C1691.5 2293.7 1689 2294.1 1686.5 2294.1C1684 2294 1681.5 2293.6 1679 2293.6C1676.5 2293.6 1674 2293.9 1671.5 2294C1669 2294.1 1666.4 2294.7 1664 2294.2C1661.5 2293.8 1659.2 2291.9 1656.8 2291.3C1654.4 2290.6 1651.9 2290.6 1649.4 2290.3C1646.9 2290 1644.4 2290.2 1641.9 2289.6C1639.5 2289 1637.3 2287.6 1634.9 2287C1632.5 2286.4 1629.9 2286.6 1627.4 2286C1625 2285.5 1622.7 2284.5 1620.3 2283.7C1618 2282.8 1615.8 2281.7 1613.4 2280.9C1611 2280.1 1608.4 2279.8 1606.1 2279C1603.8 2278.1 1601.6 2276.9 1599.4 2275.6C1597.3 2274.3 1595.7 2271.9 1593.3 2271.1C1590.9 2270.2 1587.5 2271.5 1585.2 2270.5C1583 2269.4 1581.7 2266.4 1579.7 2264.9C1577.7 2263.4 1575.3 2262.6 1573.2 2261.3C1571.1 2260 1569.2 2258.3 1567 2257.1C1564.8 2256 1562.1 2255.5 1559.8 2254.3C1557.6 2253.1 1555.6 2251.6 1553.8 2249.9C1552 2248.1 1550.6 2245.8 1548.9 2244C1547.2 2242.1 1545.2 2240.6 1543.5 2238.8C1541.8 2236.9 1540.8 2234.5 1538.8 2232.9C1536.8 2231.4 1533.3 2231.3 1531.6 2229.6C1529.8 2227.8 1529.8 2224.4 1528.3 2222.4C1526.8 2220.5 1524.1 2219.5 1522.4 2217.7C1520.8 2215.8 1519.7 2213.5 1518.3 2211.4C1516.8 2209.4 1515.3 2207.4 1513.8 2205.4C1512.4 2203.4 1510.8 2201.5 1509.5 2199.4C1508.2 2197.3 1507.1 2195 1505.9 2192.8C1504.8 2190.6 1504 2188.3 1502.5 2186.2C1501.1 2184.2 1499 2182.5 1497.4 2180.5C1495.9 2178.5 1494.4 2176.5 1493.2 2174.3C1492.1 2172 1491.2 2169.7 1490.5 2167.2C1489.8 2164.8 1490 2162.1 1489 2159.8C1488.1 2157.5 1485.5 2155.8 1484.8 2153.4C1484 2151.1 1485 2148.1 1484.4 2145.7C1483.8 2143.2 1482.2 2141.2 1481.1 2138.9C1480 2136.6 1478.7 2134.4 1477.8 2132C1476.9 2129.7 1476.1 2127.3 1475.8 2124.8C1475.5 2122.3 1476.3 2119.6 1475.9 2117.1C1475.5 2114.7 1473.8 2112.4 1473.4 2109.9C1473 2107.5 1473.8 2104.9 1473.7 2102.4C1473.6 2099.9 1473.2 2097.4 1472.9 2094.9C1472.7 2092.5 1472.7 2090 1472.3 2087.5C1472 2085 1470.9 2082.5 1470.8 2080C1470.7 2077.5 1471.4 2075 1471.8 2072.5C1472.2 2070 1472.9 2067.6 1473.1 2065.1C1473.3 2062.6 1472.7 2060 1472.9 2057.5C1473.1 2055.1 1473.5 2052.6 1474.1 2050.1C1474.7 2047.7 1475.9 2045.4 1476.2 2042.9C1476.6 2040.5 1476 2037.8 1476.2 2035.3C1476.5 2032.8 1477.1 2030.4 1477.8 2028C1478.5 2025.6 1479.8 2023.3 1480.4 2020.9C1481.1 2018.5 1480.4 2015.7 1481.5 2013.4C1482.6 2011.1 1485.9 2009.6 1487 2007.4C1488 2005.1 1487.5 2002.3 1488.1 1999.8C1488.7 1997.4 1489.5 1995 1490.6 1992.8C1491.7 1990.5 1493.3 1988.5 1494.6 1986.4C1496 1984.3 1497.6 1982.4 1498.5 1980.1C1499.5 1977.8 1499.5 1974.9 1500.6 1972.7C1501.7 1970.4 1503.7 1968.7 1505.2 1966.7C1506.7 1964.7 1508.2 1962.7 1509.7 1960.8C1511.3 1958.8 1513.5 1957.4 1514.6 1955.1C1515.8 1952.9 1515.2 1949.3 1516.6 1947.3C1518 1945.2 1521 1944.4 1523 1942.8C1524.9 1941.2 1526.7 1939.5 1528.4 1937.7C1530.2 1935.9 1531.6 1933.9 1533.3 1932C1534.9 1930.2 1536.9 1928.7 1538.4 1926.7C1540 1924.7 1540.6 1921.7 1542.5 1920C1544.3 1918.4 1547.5 1918.2 1549.6 1916.9C1551.8 1915.6 1553.2 1913.5 1555.2 1912C1557.2 1910.5 1559.6 1909.5 1561.5 1908C1563.5 1906.4 1564.9 1904.1 1566.9 1902.7C1568.9 1901.2 1571.5 1900.6 1573.6 1899.4C1575.8 1898.1 1577.8 1896.6 1579.8 1895.1C1581.8 1893.6 1583.6 1891.8 1585.7 1890.3C1587.7 1888.9 1589.8 1887.5 1592.1 1886.3C1594.3 1885.2 1596.5 1884 1599 1883.5C1601.5 1882.9 1604.5 1883.7 1606.9 1883C1609.3 1882.4 1611.3 1880.6 1613.5 1879.3C1615.6 1878 1617.6 1875.9 1620 1875.3C1622.4 1874.8 1625.5 1876.2 1628 1875.8C1630.4 1875.5 1632.6 1874.2 1635 1873.3C1637.3 1872.5 1639.6 1871.3 1642 1870.7C1644.4 1870.1 1647 1870.2 1649.4 1869.6C1651.8 1869.1 1654.2 1867.8 1656.6 1867.2C1659 1866.7 1661.6 1866.5 1664.1 1866.4C1666.5 1866.3 1669.1 1866.5 1671.6 1866.6C1674.1 1866.7 1676.6 1866.9 1679.1 1867C1681.5 1867 1684 1866.9 1686.5 1866.9C1689 1866.9 1691.5 1866.7 1693.9 1866.9C1696.4 1867.1 1698.8 1868.1 1701.3 1868C1703.8 1868 1706.5 1866.4 1708.9 1866.6C1711.4 1866.8 1713.6 1869 1716.1 1869.2C1718.6 1869.5 1721.4 1867.8 1723.9 1867.9C1726.4 1868.1 1728.8 1869.2 1731.1 1870.2C1733.4 1871.2 1735.5 1873.1 1737.9 1873.8C1740.3 1874.5 1743 1873.9 1745.5 1874.3C1748 1874.7 1750.5 1875.1 1752.7 1876.1C1755 1877.2 1756.8 1879.5 1759.2 1880.4C1761.5 1881.3 1764.4 1880.7 1766.6 1881.6C1768.9 1882.6 1770.5 1885.1 1772.9 1886C1775.2 1886.8 1778.5 1885.7 1780.7 1886.8C1782.9 1887.9 1784 1891.3 1786.2 1892.5C1788.3 1893.8 1791.3 1893.5 1793.7 1894.3C1796.2 1895 1798.6 1895.9 1800.8 1897.1C1803 1898.3 1805 1899.9 1806.8 1901.6C1808.7 1903.4 1809.8 1906 1811.7 1907.6C1813.7 1909.2 1816.4 1909.7 1818.3 1911.3C1820.2 1912.8 1821.4 1915.3 1823.3 1917C1825.1 1918.7 1827.2 1920 1829.3 1921.4C1831.5 1922.7 1834 1923.6 1836 1925.2C1838 1926.7 1839.8 1928.5 1841.2 1930.6C1842.6 1932.7 1842.8 1935.9 1844.3 1937.9C1845.8 1940 1848.2 1941 1850.1 1942.7C1852 1944.4 1854.1 1945.9 1855.5 1948C1856.9 1950 1857.2 1952.9 1858.7 1954.9C1860.3 1956.8 1863 1957.9 1864.8 1959.8C1866.5 1961.6 1867.9 1963.7 1869.1 1965.9C1870.3 1968.1 1871 1970.6 1872 1972.9C1873 1975.2 1873.7 1977.6 1875 1979.8C1876.4 1981.9 1878.7 1983.5 1879.9 1985.7C1881.1 1987.9 1881.4 1990.5 1882 1992.9C1882.7 1995.4 1883.1 1997.9 1883.9 2000.2C1884.7 2002.6 1886 2004.7 1886.9 2007.1C1887.7 2009.4 1887.8 2012 1888.9 2014.2C1890 2016.5 1892.4 2018.4 1893.3 2020.7C1894.2 2023 1893.6 2025.8 1894.2 2028.2C1894.7 2030.7 1895.8 2033 1896.5 2035.4C1897.2 2037.8 1897.7 2040.2 1898.3 2042.7C1898.9 2045.1 1900 2047.5 1900 2050C1900 2052.5 1898.3 2055.2 1898.3 2057.7C1898.2 2060.3 1899.1 2062.6 1899.7 2065.1C1900.2 2067.6 1901.2 2070 1901.7 2072.5C1902.1 2075 1902.5 2077.5 1902.1 2080Z" fill="#9bdbe2"/><path d="M1555 1930C1554.7 1930.6 1554.3 1931.2 1554.1 1931.8C1553.9 1932.4 1553.8 1932.9 1553.7 1933.5C1553.6 1934.1 1553.6 1934.8 1553.4 1935.3C1553.1 1935.9 1552.8 1936.4 1552.4 1936.9C1552 1937.3 1551.5 1937.7 1551.2 1938.2C1550.8 1938.7 1550.6 1939.2 1550.4 1939.9C1550.1 1940.5 1550 1941.3 1549.7 1942C1549.4 1942.6 1549 1943.3 1548.5 1943.8C1548 1944.3 1547.3 1944.5 1546.6 1944.8C1546 1945.2 1545.4 1945.4 1544.7 1945.7C1544.1 1946.1 1543.4 1946.6 1542.7 1946.9C1542 1947.2 1541.2 1947.4 1540.5 1947.4C1539.8 1947.3 1539 1947 1538.3 1946.6C1537.6 1946.3 1537 1945.7 1536.4 1945.3C1535.8 1944.9 1535.2 1944.7 1534.5 1944.4C1533.9 1944.1 1533.3 1943.9 1532.7 1943.5C1532.2 1943 1531.7 1942.5 1531.4 1941.9C1531 1941.3 1530.8 1940.6 1530.5 1940C1530.2 1939.4 1529.9 1938.9 1529.5 1938.5C1529.1 1938 1528.5 1937.6 1528.1 1937.1C1527.8 1936.6 1527.4 1936.1 1527.3 1935.5C1527.1 1934.9 1527.3 1934.2 1527.3 1933.5C1527.3 1932.9 1527.4 1932.3 1527.3 1931.7C1527.2 1931.1 1526.9 1930.6 1526.8 1930C1526.7 1929.4 1526.5 1928.8 1526.5 1928.2C1526.5 1927.6 1526.8 1927 1527.1 1926.4C1527.3 1925.8 1527.7 1925.4 1527.9 1924.8C1528.1 1924.2 1528.2 1923.6 1528.3 1923C1528.4 1922.3 1528.4 1921.5 1528.5 1920.8C1528.7 1920.2 1529.1 1919.5 1529.5 1919C1529.9 1918.4 1530.5 1918.1 1531 1917.6C1531.5 1917.2 1532 1916.7 1532.5 1916.2C1533 1915.6 1533.5 1914.9 1534.1 1914.5C1534.7 1914 1535.4 1913.6 1536.1 1913.5C1536.8 1913.3 1537.6 1913.5 1538.4 1913.7C1539.1 1913.8 1539.8 1914.1 1540.5 1914.3C1541.2 1914.4 1541.9 1914.4 1542.5 1914.5C1543.2 1914.6 1543.9 1914.7 1544.5 1915C1545.1 1915.3 1545.7 1915.8 1546.2 1916.2C1546.7 1916.7 1547.1 1917.4 1547.6 1917.8C1548 1918.2 1548.5 1918.5 1549.1 1918.8C1549.7 1919.1 1550.4 1919.2 1550.9 1919.6C1551.5 1919.9 1552 1920.4 1552.4 1920.9C1552.8 1921.4 1552.9 1922.1 1553.2 1922.7C1553.4 1923.3 1553.7 1923.9 1554 1924.4C1554.3 1925 1554.8 1925.5 1555.1 1926.1C1555.3 1926.7 1555.6 1927.4 1555.6 1928C1555.6 1928.7 1555.2 1929.4 1555 1930ZM1624 1952.5C1624.1 1953.6 1624.5 1954.8 1624.4 1956C1624.3 1957.1 1623.8 1958.2 1623.2 1959.3C1622.7 1960.3 1621.7 1961.1 1621.2 1962.1C1620.7 1963.1 1620.4 1964.2 1620 1965.2C1619.6 1966.3 1619.4 1967.5 1618.7 1968.4C1618.1 1969.3 1617 1969.9 1615.9 1970.4C1614.9 1970.9 1613.6 1971 1612.5 1971.5C1611.5 1971.9 1610.8 1972.5 1609.9 1973.1C1609 1973.7 1608.3 1974.6 1607.3 1974.9C1606.3 1975.3 1605.1 1975.2 1604.1 1975.2C1603 1975.2 1602 1974.8 1600.9 1974.9C1599.9 1974.9 1599 1975.4 1598 1975.7C1597 1976.1 1595.9 1976.9 1594.8 1977.1C1593.7 1977.3 1592.5 1977.2 1591.4 1977.1C1590.3 1976.9 1589.3 1976.4 1588.1 1976.3C1587 1976.1 1585.6 1976.3 1584.3 1976.2C1583 1976.1 1581.3 1976.2 1580.1 1975.8C1578.9 1975.3 1577.9 1974.3 1577.1 1973.4C1576.3 1972.4 1575.9 1971 1575.3 1969.9C1574.6 1968.8 1573.8 1967.9 1573.2 1966.8C1572.6 1965.7 1571.7 1964.7 1571.5 1963.5C1571.2 1962.3 1571.5 1960.8 1571.7 1959.5C1572 1958.3 1572.7 1957 1573 1955.8C1573.3 1954.6 1573.3 1953.6 1573.3 1952.5C1573.3 1951.4 1573 1950.3 1573.2 1949.2C1573.4 1948.2 1573.9 1947.1 1574.4 1946.2C1574.9 1945.2 1575.8 1944.4 1576.2 1943.5C1576.6 1942.5 1576.7 1941.4 1576.9 1940.3C1577.2 1939.2 1577.2 1937.9 1577.7 1936.9C1578.2 1935.9 1579.1 1935.1 1579.9 1934.4C1580.8 1933.8 1582 1933.5 1582.9 1932.9C1583.8 1932.2 1584.5 1931.4 1585.4 1930.7C1586.3 1930 1587.1 1929 1588.1 1928.5C1589.1 1928.1 1590.3 1928.1 1591.5 1928.1C1592.6 1928.2 1593.8 1928.7 1594.9 1928.7C1596 1928.7 1596.9 1928.4 1598 1928.2C1599.1 1928 1600.2 1927.5 1601.3 1927.4C1602.4 1927.4 1603.5 1927.8 1604.5 1928.1C1605.6 1928.4 1606.5 1929.2 1607.5 1929.5C1608.6 1929.8 1609.8 1929.8 1611 1930C1612.2 1930.2 1613.7 1930.1 1614.8 1930.6C1615.9 1931.1 1616.8 1932 1617.6 1932.9C1618.4 1933.8 1618.8 1935.1 1619.5 1936C1620.2 1937 1621 1937.8 1621.8 1938.7C1622.6 1939.7 1623.6 1940.6 1624.1 1941.7C1624.5 1942.8 1624.5 1944.2 1624.5 1945.4C1624.4 1946.6 1623.9 1947.9 1623.8 1949.1C1623.7 1950.3 1623.9 1951.4 1624 1952.5ZM1684.4 1918.8C1684.8 1919.8 1685.3 1920.9 1685.5 1922C1685.7 1923.2 1685.8 1924.4 1685.7 1925.5C1685.5 1926.6 1685.1 1927.7 1684.7 1928.8C1684.3 1929.8 1683.7 1930.8 1683.2 1931.9C1682.7 1932.9 1682.3 1934 1681.8 1935.1C1681.2 1936.1 1680.7 1937.3 1680 1938.2C1679.2 1939.1 1678.3 1940 1677.2 1940.5C1676.1 1941 1674.8 1941.2 1673.5 1941.3C1672.3 1941.5 1671 1941.3 1669.8 1941.3C1668.7 1941.3 1667.6 1941.2 1666.6 1941.3C1665.5 1941.4 1664.5 1941.7 1663.5 1941.8C1662.5 1941.9 1661.5 1942.1 1660.5 1942.1C1659.5 1942 1658.5 1941.8 1657.5 1941.5C1656.5 1941.2 1655.6 1940.8 1654.7 1940.5C1653.7 1940.2 1652.8 1940 1651.8 1939.8C1650.7 1939.7 1649.6 1939.7 1648.5 1939.6C1647.4 1939.4 1646.1 1939.4 1645 1938.9C1644 1938.5 1642.9 1937.9 1642.1 1937.1C1641.4 1936.3 1640.9 1935.2 1640.4 1934.2C1639.9 1933.2 1639.6 1932 1639.3 1931C1638.9 1930 1638.5 1929 1638.1 1928C1637.7 1927 1637.3 1926.1 1637 1925C1636.8 1924 1636.7 1922.9 1636.8 1921.9C1636.9 1920.8 1637.3 1919.8 1637.6 1918.8C1637.9 1917.7 1638.4 1916.8 1638.6 1915.9C1638.8 1914.9 1638.9 1914 1638.9 1913C1638.9 1911.9 1638.6 1910.8 1638.6 1909.7C1638.6 1908.5 1638.5 1907.3 1638.7 1906.2C1638.9 1905 1639.4 1903.9 1639.9 1903C1640.5 1902 1641.3 1901.2 1642.1 1900.3C1642.8 1899.5 1643.7 1898.7 1644.5 1897.9C1645.3 1897 1646 1896 1646.9 1895.3C1647.8 1894.5 1648.8 1893.6 1649.9 1893.2C1651 1892.7 1652.3 1892.5 1653.5 1892.5C1654.7 1892.5 1656 1892.9 1657.1 1893.3C1658.3 1893.6 1659.4 1894.1 1660.5 1894.4C1661.6 1894.8 1662.6 1895 1663.6 1895.2C1664.6 1895.4 1665.7 1895.4 1666.7 1895.6C1667.7 1895.9 1668.7 1896.2 1669.6 1896.7C1670.5 1897.3 1671.3 1898.1 1672 1898.8C1672.7 1899.5 1673.3 1900.5 1674 1901.2C1674.6 1901.9 1675.3 1902.6 1676.1 1903.2C1676.8 1903.8 1677.8 1904.3 1678.5 1904.9C1679.3 1905.5 1680.2 1906.2 1680.8 1907C1681.4 1907.9 1681.8 1908.8 1682.1 1909.8C1682.4 1910.8 1682.4 1911.8 1682.6 1912.8C1682.8 1913.8 1682.9 1914.8 1683.2 1915.8C1683.5 1916.7 1684 1917.7 1684.4 1918.8ZM1561.4 1992.5C1561.3 1993.3 1560.9 1994.1 1560.6 1994.9C1560.4 1995.7 1559.9 1996.4 1559.7 1997.1C1559.5 1997.9 1559.4 1998.6 1559.2 1999.4C1559.1 2000.2 1559.2 2001.2 1559 2002C1558.8 2002.9 1558.6 2003.8 1558.2 2004.5C1557.8 2005.3 1557.1 2005.9 1556.5 2006.5C1555.8 2007 1554.9 2007.3 1554.2 2007.7C1553.4 2008.1 1552.7 2008.4 1551.9 2008.8C1551.2 2009.2 1550.5 2009.7 1549.8 2010.1C1549 2010.4 1548.3 2010.8 1547.5 2011C1546.7 2011.2 1545.8 2011.2 1544.9 2011.1C1544.1 2011 1543.3 2010.6 1542.5 2010.4C1541.7 2010.3 1541 2010 1540.2 2009.9C1539.4 2009.9 1538.7 2010 1537.8 2010C1536.9 2010.1 1536 2010.4 1535.1 2010.4C1534.2 2010.4 1533.2 2010.4 1532.3 2010.2C1531.4 2010 1530.6 2009.5 1529.8 2009.1C1529 2008.6 1528.3 2008 1527.6 2007.4C1526.8 2006.9 1526.1 2006.3 1525.3 2005.7C1524.6 2005 1523.8 2004.4 1523.2 2003.7C1522.6 2002.9 1522 2002 1521.8 2001.1C1521.6 2000.1 1521.7 1999 1521.9 1998C1522 1997 1522.5 1996 1522.9 1995.1C1523.2 1994.2 1523.7 1993.3 1523.9 1992.5C1524.2 1991.7 1524.4 1990.9 1524.6 1990.1C1524.8 1989.4 1525 1988.6 1525.3 1987.9C1525.6 1987.2 1525.9 1986.5 1526.4 1985.8C1526.8 1985.2 1527.5 1984.7 1527.9 1984.1C1528.4 1983.5 1528.9 1983 1529.3 1982.4C1529.7 1981.7 1529.9 1981 1530.3 1980.3C1530.6 1979.5 1530.8 1978.6 1531.3 1977.8C1531.7 1977.1 1532.2 1976.4 1532.9 1975.8C1533.5 1975.3 1534.3 1975 1535.1 1974.7C1535.9 1974.4 1536.7 1974.3 1537.6 1974C1538.4 1973.8 1539.1 1973.5 1540 1973.2C1540.8 1973 1541.6 1972.6 1542.5 1972.4C1543.4 1972.2 1544.3 1972 1545.2 1972.1C1546.1 1972.1 1547 1972.4 1547.8 1972.7C1548.6 1973.1 1549.4 1973.6 1550.2 1974C1551 1974.4 1551.7 1974.8 1552.5 1975.1C1553.3 1975.5 1554.2 1975.8 1555 1976.2C1555.9 1976.6 1556.8 1977 1557.4 1977.6C1558.1 1978.2 1558.7 1978.9 1559.1 1979.8C1559.5 1980.6 1559.6 1981.6 1559.8 1982.5C1560 1983.4 1560 1984.3 1560.2 1985.2C1560.3 1986 1560.6 1986.8 1560.8 1987.6C1561 1988.4 1561.3 1989.2 1561.4 1990C1561.5 1990.8 1561.6 1991.7 1561.4 1992.5ZM1634.6 2023.8C1635 2024.5 1635.6 2025.4 1635.9 2026.3C1636.2 2027.2 1636.5 2028.2 1636.5 2029C1636.5 2029.9 1636.1 2030.8 1635.7 2031.6C1635.4 2032.4 1634.9 2033.2 1634.6 2034C1634.2 2034.9 1634 2035.9 1633.6 2036.7C1633.2 2037.6 1632.8 2038.5 1632.2 2039.2C1631.5 2039.8 1630.6 2040.2 1629.7 2040.6C1628.8 2040.9 1627.7 2040.9 1626.8 2041.2C1625.9 2041.4 1625.1 2041.7 1624.3 2042C1623.5 2042.4 1622.8 2042.9 1621.9 2043.2C1621.1 2043.4 1620.2 2043.5 1619.3 2043.4C1618.5 2043.4 1617.6 2042.9 1616.8 2042.7C1615.9 2042.5 1615.1 2042.3 1614.3 2042.2C1613.5 2042.1 1612.6 2042.2 1611.8 2042.1C1611 2042 1610.1 2041.9 1609.4 2041.5C1608.7 2041.1 1608.1 2040.3 1607.6 2039.7C1607 2039 1606.6 2038.3 1606.1 2037.7C1605.5 2037.1 1604.8 2036.8 1604.2 2036.3C1603.6 2035.8 1602.8 2035.5 1602.3 2034.9C1601.7 2034.3 1601.4 2033.5 1601.1 2032.8C1600.8 2032 1600.8 2031.2 1600.6 2030.5C1600.3 2029.7 1599.9 2029.1 1599.4 2028.4C1598.9 2027.7 1598.1 2027 1597.6 2026.3C1597.2 2025.5 1596.8 2024.6 1596.6 2023.8C1596.5 2022.9 1596.7 2022 1596.8 2021.1C1596.9 2020.3 1597.1 2019.4 1597.2 2018.5C1597.2 2017.6 1597 2016.6 1597.2 2015.6C1597.3 2014.7 1597.5 2013.7 1598 2012.9C1598.5 2012.2 1599.4 2011.6 1600.2 2011.1C1601 2010.5 1602 2010.2 1602.8 2009.8C1603.5 2009.3 1604.1 2008.7 1604.8 2008.2C1605.5 2007.7 1606.1 2007 1606.9 2006.6C1607.6 2006.3 1608.5 2006.1 1609.4 2005.9C1610.2 2005.8 1611.1 2006 1612 2005.9C1612.8 2005.8 1613.5 2005.6 1614.3 2005.3C1615.1 2005 1615.9 2004.4 1616.8 2004.2C1617.6 2003.9 1618.5 2003.7 1619.4 2003.8C1620.2 2003.9 1621.1 2004.4 1621.9 2004.7C1622.7 2005 1623.4 2005.5 1624.2 2005.9C1625 2006.2 1625.8 2006.3 1626.6 2006.6C1627.4 2007 1628.3 2007.3 1628.9 2008C1629.4 2008.6 1629.8 2009.5 1630.1 2010.4C1630.5 2011.2 1630.5 2012.2 1630.8 2013C1631.1 2013.7 1631.5 2014.4 1631.9 2015C1632.3 2015.7 1632.9 2016.2 1633.2 2016.9C1633.6 2017.6 1633.8 2018.4 1633.9 2019.1C1634.1 2019.9 1633.9 2020.7 1634 2021.5C1634.2 2022.2 1634.3 2023 1634.6 2023.8ZM1583 2071.2C1582.5 2073.1 1581.3 2074.9 1580.7 2076.7C1580.1 2078.5 1579.7 2080.2 1579.3 2082C1578.9 2083.8 1578.8 2085.7 1578.2 2087.4C1577.5 2089.1 1576.5 2090.7 1575.3 2092.1C1574.1 2093.5 1572.4 2094.4 1571.1 2095.7C1569.8 2096.9 1568.6 2098.1 1567.5 2099.5C1566.4 2100.9 1565.7 2102.7 1564.5 2104.1C1563.3 2105.5 1561.9 2106.9 1560.3 2107.7C1558.7 2108.4 1556.6 2108.5 1554.8 2108.7C1552.9 2108.9 1551.1 2108.7 1549.4 2109C1547.6 2109.2 1546.1 2109.9 1544.4 2110.2C1542.7 2110.6 1540.9 2111.1 1539.2 2110.9C1537.6 2110.7 1535.8 2109.9 1534.3 2109.1C1532.7 2108.3 1531.4 2106.9 1529.9 2106.1C1528.4 2105.4 1527 2104.9 1525.5 2104.6C1523.9 2104.2 1522 2104.3 1520.5 2103.8C1518.9 2103.3 1517.3 2102.5 1516 2101.5C1514.7 2100.5 1513.9 2099 1512.7 2097.8C1511.6 2096.6 1510.5 2095.4 1509.2 2094.3C1507.8 2093.3 1505.9 2092.5 1504.5 2091.3C1503.1 2090.1 1501.6 2088.8 1500.8 2087.2C1500 2085.6 1500 2083.6 1499.8 2081.8C1499.6 2080 1499.9 2078.2 1499.7 2076.5C1499.5 2074.7 1498.8 2073 1498.4 2071.2C1498.1 2069.5 1497.4 2067.6 1497.5 2065.8C1497.6 2064 1498.3 2062.1 1499 2060.5C1499.7 2058.8 1501.1 2057.4 1501.8 2055.7C1502.6 2054.1 1503.1 2052.5 1503.6 2050.6C1504.1 2048.8 1504.1 2046.6 1504.8 2044.8C1505.6 2043.1 1506.6 2041.2 1507.9 2039.9C1509.3 2038.6 1511.3 2037.9 1513 2037C1514.7 2036.1 1516.4 2035.5 1518.1 2034.6C1519.8 2033.7 1521.2 2032.5 1522.9 2031.8C1524.6 2031.1 1526.4 2030.3 1528.3 2030.4C1530.2 2030.4 1532.3 2031.4 1534.1 2032.1C1535.9 2032.9 1537.6 2034.2 1539.2 2034.9C1540.9 2035.5 1542.3 2035.8 1543.9 2036.1C1545.4 2036.5 1547 2036.4 1548.5 2036.9C1549.9 2037.4 1551.3 2038.2 1552.6 2039.1C1553.8 2040 1554.8 2041.3 1556.1 2042C1557.4 2042.8 1558.8 2043.3 1560.4 2043.7C1562 2044.1 1564.2 2044 1566 2044.5C1567.7 2045.1 1569.7 2045.8 1571.1 2046.8C1572.5 2047.9 1573.4 2049.5 1574.4 2050.9C1575.5 2052.4 1576.3 2053.9 1577.4 2055.4C1578.6 2056.9 1580.2 2058.3 1581.2 2060C1582.3 2061.7 1583.5 2063.5 1583.8 2065.4C1584 2067.3 1583.5 2069.4 1583 2071.2ZM1694.7 2085C1694.9 2086.2 1695.2 2087.3 1695.6 2088.6C1696 2089.9 1696.8 2091.4 1697.1 2092.8C1697.3 2094.2 1697.5 2095.8 1697.2 2097.1C1696.8 2098.4 1696 2099.6 1695.2 2100.7C1694.5 2101.8 1693.4 2102.8 1692.6 2103.8C1691.7 2104.9 1691 2106.1 1690.2 2107.2C1689.4 2108.3 1688.7 2109.7 1687.6 2110.6C1686.6 2111.6 1685.4 2112.4 1684.1 2112.9C1682.8 2113.4 1681.3 2113.5 1679.9 2113.8C1678.6 2114.1 1677.3 2114.3 1676 2114.7C1674.7 2115.1 1673.5 2115.8 1672.1 2116.4C1670.8 2116.9 1669.4 2117.8 1668 2118C1666.6 2118.3 1665.1 2118.3 1663.7 2118C1662.3 2117.8 1660.9 2116.9 1659.6 2116.4C1658.3 2115.8 1657 2115.2 1655.7 2114.6C1654.4 2114.1 1652.9 2113.9 1651.6 2113.4C1650.3 2112.8 1648.9 2112.3 1647.8 2111.3C1646.7 2110.4 1645.9 2109.1 1645.2 2107.8C1644.5 2106.5 1644.2 2104.9 1643.7 2103.6C1643.2 2102.3 1642.8 2101.1 1642.2 2099.9C1641.5 2098.8 1640.6 2097.8 1640 2096.6C1639.3 2095.5 1638.6 2094.3 1638.3 2093C1638 2091.7 1638.1 2090.3 1638.2 2088.9C1638.3 2087.6 1638.9 2086.3 1639.1 2085C1639.3 2083.7 1639.4 2082.5 1639.4 2081.2C1639.5 2080 1639.2 2078.6 1639.4 2077.3C1639.6 2076.1 1640 2074.7 1640.6 2073.7C1641.3 2072.6 1642.4 2071.7 1643.4 2070.8C1644.3 2069.9 1645.4 2069.2 1646.3 2068.3C1647.1 2067.4 1647.7 2066.4 1648.3 2065.3C1649 2064.2 1649.4 2062.9 1650.2 2061.8C1651 2060.8 1651.9 2059.7 1652.9 2058.9C1654 2058.1 1655.2 2057.7 1656.4 2057C1657.6 2056.3 1658.7 2055.7 1659.9 2054.9C1661.1 2054 1662.3 2052.8 1663.6 2051.8C1665 2050.9 1666.5 2049.6 1668 2049.1C1669.5 2048.5 1671.3 2048.3 1672.8 2048.4C1674.4 2048.6 1675.9 2049.4 1677.4 2050C1678.8 2050.7 1680.2 2051.6 1681.5 2052.3C1682.9 2053.1 1684.3 2053.8 1685.5 2054.7C1686.7 2055.6 1688 2056.6 1688.8 2057.9C1689.6 2059.2 1690.1 2061 1690.5 2062.5C1690.8 2064.1 1690.7 2066 1690.8 2067.5C1691 2069 1691.1 2070.3 1691.4 2071.5C1691.8 2072.7 1692.4 2073.6 1692.9 2074.7C1693.4 2075.8 1694.1 2076.8 1694.4 2077.9C1694.7 2079.1 1694.7 2080.3 1694.7 2081.5C1694.8 2082.7 1694.6 2083.8 1694.7 2085ZM1498.1 2118.8C1498 2119.5 1497.9 2120.2 1497.9 2121C1498 2121.9 1498.4 2122.7 1498.5 2123.6C1498.6 2124.4 1498.7 2125.4 1498.5 2126.2C1498.2 2127 1497.6 2127.6 1497.1 2128.3C1496.6 2129 1495.9 2129.5 1495.5 2130.3C1495 2131 1494.8 2131.9 1494.3 2132.6C1493.9 2133.3 1493.3 2134.1 1492.6 2134.5C1491.9 2135 1490.9 2135.1 1490.1 2135.3C1489.3 2135.6 1488.4 2135.7 1487.6 2136C1486.9 2136.3 1486.2 2137 1485.5 2137.4C1484.7 2137.7 1483.9 2138.2 1483.1 2138.3C1482.2 2138.4 1481.3 2138.1 1480.5 2138C1479.7 2137.9 1478.9 2137.6 1478 2137.5C1477.2 2137.4 1476.3 2137.6 1475.5 2137.5C1474.6 2137.4 1473.7 2137.3 1473 2136.9C1472.3 2136.4 1471.8 2135.5 1471.2 2134.8C1470.7 2134.1 1470.4 2133.3 1469.8 2132.7C1469.3 2132.1 1468.6 2131.7 1468.1 2131.2C1467.6 2130.6 1467 2130.1 1466.7 2129.4C1466.4 2128.7 1466.4 2127.7 1466.3 2127C1466.1 2126.2 1466.1 2125.5 1465.7 2124.9C1465.4 2124.2 1464.8 2123.7 1464.3 2123.1C1463.8 2122.5 1463.2 2121.8 1463 2121.1C1462.7 2120.3 1462.8 2119.5 1462.7 2118.8C1462.6 2118 1462.6 2117.2 1462.4 2116.4C1462.2 2115.5 1461.7 2114.6 1461.5 2113.7C1461.3 2112.7 1461.2 2111.7 1461.4 2110.8C1461.6 2110 1462.3 2109.3 1462.9 2108.6C1463.4 2107.9 1464.1 2107.3 1464.7 2106.6C1465.2 2105.9 1465.6 2105.1 1466.2 2104.4C1466.8 2103.8 1467.4 2103.1 1468.2 2102.8C1469.1 2102.4 1470.1 2102.5 1471 2102.3C1471.9 2102.2 1472.8 2102.3 1473.6 2102.1C1474.4 2101.9 1475 2101.4 1475.8 2101.1C1476.5 2100.8 1477.3 2100.4 1478.1 2100.3C1478.9 2100.2 1479.7 2100.5 1480.5 2100.6C1481.3 2100.8 1482 2101 1482.8 2101C1483.6 2101 1484.5 2100.6 1485.4 2100.6C1486.2 2100.6 1487.2 2100.6 1487.9 2100.9C1488.7 2101.2 1489.3 2102 1489.9 2102.5C1490.5 2103.1 1491 2103.8 1491.6 2104.3C1492.2 2104.8 1493 2105.1 1493.6 2105.6C1494.2 2106.1 1494.9 2106.7 1495.2 2107.4C1495.6 2108.2 1495.6 2109.1 1495.7 2110C1495.9 2110.8 1495.9 2111.6 1496.1 2112.3C1496.4 2113 1497 2113.6 1497.3 2114.2C1497.7 2114.9 1498.1 2115.7 1498.3 2116.4C1498.4 2117.2 1498.1 2118 1498.1 2118.8ZM1620 2113.8C1620.1 2114.6 1619.8 2115.4 1619.8 2116.3C1619.7 2117.1 1619.7 2118 1619.7 2118.9C1619.7 2119.8 1619.8 2120.8 1619.6 2121.7C1619.5 2122.6 1619.2 2123.5 1618.7 2124.3C1618.2 2125 1617.4 2125.6 1616.7 2126.2C1616.1 2126.8 1615.3 2127.3 1614.6 2127.9C1614 2128.5 1613.4 2129.2 1612.8 2129.8C1612.3 2130.5 1611.7 2131.4 1611 2132C1610.3 2132.6 1609.5 2133.1 1608.6 2133.4C1607.8 2133.7 1606.8 2133.6 1605.8 2133.7C1604.9 2133.7 1604 2133.6 1603.1 2133.6C1602.2 2133.6 1601.4 2133.8 1600.5 2133.8C1599.6 2133.9 1598.7 2134 1597.9 2133.8C1597 2133.6 1596.2 2133.1 1595.4 2132.6C1594.7 2132.1 1594.1 2131.3 1593.5 2130.7C1592.9 2130 1592.4 2129.4 1591.7 2128.9C1591.1 2128.5 1590.4 2128.2 1589.7 2127.8C1589.1 2127.4 1588.3 2127.1 1587.7 2126.5C1587.1 2126 1586.6 2125.4 1586.2 2124.7C1585.8 2124 1585.6 2123.3 1585.2 2122.6C1584.8 2121.9 1584.5 2121.3 1584 2120.6C1583.5 2119.9 1582.8 2119.4 1582.3 2118.6C1581.8 2117.9 1581.3 2117.1 1581.1 2116.3C1580.9 2115.5 1581 2114.6 1581.1 2113.8C1581.3 2112.9 1581.7 2112.1 1581.9 2111.3C1582.1 2110.5 1582.2 2109.7 1582.3 2108.9C1582.4 2108 1582.4 2107.1 1582.5 2106.3C1582.7 2105.5 1583 2104.6 1583.4 2103.9C1583.9 2103.2 1584.6 2102.6 1585.2 2102C1585.8 2101.4 1586.4 2100.9 1587 2100.2C1587.5 2099.5 1587.9 2098.8 1588.4 2098C1588.9 2097.1 1589.3 2096.1 1589.9 2095.4C1590.5 2094.7 1591.3 2094 1592.1 2093.5C1593 2093.1 1594 2093 1594.9 2092.8C1595.8 2092.6 1596.8 2092.7 1597.7 2092.6C1598.6 2092.5 1599.6 2092.3 1600.5 2092.3C1601.4 2092.3 1602.4 2092.2 1603.3 2092.5C1604.2 2092.8 1605.1 2093.4 1605.8 2094C1606.5 2094.7 1607.1 2095.7 1607.7 2096.5C1608.2 2097.3 1608.7 2098.1 1609.2 2098.7C1609.7 2099.3 1610.3 2099.7 1610.9 2100.2C1611.5 2100.7 1612.1 2101.1 1612.6 2101.7C1613.1 2102.2 1613.4 2102.9 1613.8 2103.6C1614.1 2104.2 1614.3 2105 1614.6 2105.6C1615 2106.2 1615.4 2106.8 1615.9 2107.4C1616.5 2107.9 1617.3 2108.4 1617.9 2109.1C1618.5 2109.7 1619.2 2110.5 1619.5 2111.2C1619.9 2112 1620 2112.9 1620 2113.8ZM1549.3 2147.5C1549.2 2148.4 1549.2 2149.3 1548.8 2150.1C1548.5 2151 1547.7 2151.7 1547.1 2152.4C1546.5 2153.1 1545.7 2153.7 1545.2 2154.3C1544.8 2155 1544.5 2155.7 1544.2 2156.4C1543.8 2157.1 1543.7 2158 1543.2 2158.6C1542.8 2159.3 1542.2 2159.8 1541.5 2160.3C1540.9 2160.7 1540 2160.9 1539.4 2161.3C1538.7 2161.8 1538.2 2162.2 1537.6 2162.8C1537 2163.3 1536.5 2164.2 1535.9 2164.7C1535.2 2165.2 1534.5 2165.7 1533.7 2165.9C1532.9 2166.1 1532 2165.9 1531.2 2166C1530.4 2166 1529.6 2165.9 1528.8 2166C1527.9 2166.1 1527.1 2166.5 1526.2 2166.6C1525.4 2166.8 1524.4 2166.9 1523.6 2166.8C1522.7 2166.7 1521.9 2166.2 1521.1 2165.9C1520.4 2165.5 1519.7 2165 1518.9 2164.6C1518.1 2164.2 1517.2 2164.1 1516.3 2163.7C1515.4 2163.4 1514.3 2163.2 1513.5 2162.7C1512.7 2162.2 1512.1 2161.5 1511.6 2160.7C1511.1 2159.9 1511 2158.8 1510.7 2157.9C1510.4 2157 1510.2 2156.2 1509.9 2155.3C1509.6 2154.5 1509.1 2153.7 1508.9 2152.8C1508.7 2152 1508.6 2151 1508.8 2150.1C1509 2149.2 1509.6 2148.3 1510 2147.5C1510.4 2146.7 1511 2146 1511.2 2145.2C1511.5 2144.4 1511.5 2143.7 1511.6 2142.9C1511.7 2142.1 1511.7 2141.3 1512 2140.6C1512.3 2139.8 1512.8 2139.2 1513.2 2138.5C1513.7 2137.9 1514.3 2137.4 1514.7 2136.7C1515.1 2136 1515.4 2135.3 1515.7 2134.5C1516.1 2133.7 1516.3 2132.6 1516.8 2131.9C1517.3 2131.2 1518 2130.5 1518.7 2130.1C1519.4 2129.7 1520.4 2129.6 1521.3 2129.4C1522.1 2129.2 1522.9 2129.1 1523.7 2128.8C1524.6 2128.5 1525.3 2128.1 1526.2 2127.9C1527 2127.7 1527.9 2127.6 1528.8 2127.7C1529.6 2127.9 1530.4 2128.5 1531.2 2128.9C1532 2129.3 1532.7 2129.8 1533.4 2130.1C1534.2 2130.4 1535 2130.4 1535.8 2130.5C1536.6 2130.6 1537.6 2130.6 1538.4 2130.9C1539.2 2131.1 1539.9 2131.6 1540.6 2132.1C1541.3 2132.6 1541.8 2133.3 1542.5 2133.8C1543.1 2134.3 1543.9 2134.8 1544.7 2135.3C1545.5 2135.8 1546.6 2136.2 1547.3 2136.8C1548 2137.5 1548.6 2138.3 1548.9 2139.2C1549.2 2140 1549.1 2141.1 1549.1 2142C1549.1 2143 1549 2143.9 1549 2144.8C1549.1 2145.7 1549.3 2146.6 1549.3 2147.5ZM1673.1 2175C1673 2176.2 1672.6 2177.4 1672.3 2178.5C1672.1 2179.7 1671.7 2180.8 1671.5 2182C1671.3 2183.1 1671.3 2184.4 1671.1 2185.6C1670.9 2186.8 1670.7 2188.1 1670.1 2189.2C1669.5 2190.2 1668.5 2191.1 1667.5 2191.9C1666.5 2192.6 1665.2 2193 1664.1 2193.6C1663 2194.2 1662 2194.7 1661.1 2195.3C1660.1 2195.9 1659.3 2196.7 1658.4 2197.3C1657.4 2197.9 1656.4 2198.5 1655.4 2198.8C1654.3 2199.1 1653.1 2199.1 1652 2199.1C1650.8 2199.1 1649.7 2198.8 1648.6 2198.9C1647.6 2198.9 1646.6 2199.1 1645.5 2199.3C1644.4 2199.6 1643.3 2200.1 1642.2 2200.3C1641 2200.4 1639.8 2200.5 1638.7 2200.3C1637.6 2200 1636.6 2199.3 1635.7 2198.7C1634.7 2198.1 1634 2197.2 1633.1 2196.5C1632.2 2195.9 1631.3 2195.4 1630.3 2194.8C1629.4 2194.2 1628.4 2193.7 1627.6 2192.9C1626.8 2192.2 1626.1 2191.2 1625.7 2190.2C1625.3 2189.2 1625.2 2187.9 1625 2186.8C1624.8 2185.8 1624.7 2184.7 1624.3 2183.8C1624 2182.8 1623.4 2182 1622.8 2181.1C1622.2 2180.2 1621.4 2179.3 1620.9 2178.2C1620.4 2177.2 1620 2176.1 1619.8 2175C1619.5 2173.9 1619.6 2172.8 1619.6 2171.6C1619.5 2170.4 1619.4 2169.3 1619.3 2168C1619.1 2166.7 1618.7 2165.3 1618.6 2163.9C1618.6 2162.5 1618.5 2160.9 1618.9 2159.7C1619.4 2158.4 1620.2 2157.3 1621.2 2156.4C1622.2 2155.5 1623.6 2154.9 1624.8 2154.3C1625.9 2153.6 1627.2 2153.2 1628.3 2152.6C1629.5 2152.1 1630.5 2151.4 1631.7 2151.1C1632.8 2150.7 1634.1 2150.3 1635.3 2150.4C1636.5 2150.4 1637.9 2150.8 1639.1 2151.1C1640.3 2151.5 1641.5 2152.1 1642.5 2152.4C1643.6 2152.7 1644.5 2152.8 1645.5 2152.8C1646.5 2152.8 1647.5 2152.5 1648.5 2152.4C1649.5 2152.4 1650.5 2152.3 1651.5 2152.6C1652.5 2152.8 1653.4 2153.3 1654.3 2153.7C1655.2 2154.2 1656 2154.8 1657 2155.1C1657.9 2155.5 1659 2155.7 1660.1 2156C1661.2 2156.3 1662.6 2156.4 1663.6 2156.9C1664.6 2157.4 1665.7 2158.1 1666.4 2159C1667.1 2159.8 1667.5 2161 1667.9 2162C1668.4 2163.1 1668.7 2164.2 1669.2 2165.2C1669.7 2166.2 1670.4 2167.1 1670.9 2168.2C1671.5 2169.2 1672.2 2170.3 1672.6 2171.4C1672.9 2172.6 1673.1 2173.8 1673.1 2175ZM1602.6 2200C1602.9 2201.2 1603.7 2202.5 1604 2203.8C1604.3 2205 1604.4 2206.4 1604.2 2207.7C1604 2209 1603.2 2210.1 1602.8 2211.3C1602.3 2212.5 1602 2213.7 1601.7 2215.1C1601.4 2216.5 1601.5 2218.2 1601 2219.5C1600.4 2220.8 1599.6 2222.1 1598.5 2223C1597.4 2223.8 1595.7 2224.1 1594.4 2224.7C1593.1 2225.2 1591.9 2225.7 1590.7 2226.3C1589.5 2227 1588.6 2228.1 1587.3 2228.6C1586.1 2229.1 1584.7 2229.4 1583.4 2229.4C1582 2229.3 1580.6 2228.6 1579.3 2228.5C1577.9 2228.4 1576.8 2228.3 1575.5 2228.5C1574.2 2228.7 1572.9 2229.6 1571.6 2229.8C1570.2 2230.1 1568.8 2230.2 1567.5 2230C1566.1 2229.8 1565 2229 1563.7 2228.6C1562.4 2228.2 1561.1 2227.8 1559.6 2227.6C1558.1 2227.3 1556.3 2227.4 1554.9 2226.9C1553.5 2226.3 1552.1 2225.5 1551.1 2224.4C1550.2 2223.2 1549.9 2221.5 1549.3 2220.1C1548.7 2218.7 1548.3 2217.4 1547.7 2216.1C1547.1 2214.8 1546.1 2213.7 1545.8 2212.3C1545.4 2211 1545.4 2209.4 1545.6 2208C1545.9 2206.6 1546.9 2205 1547.3 2203.7C1547.8 2202.4 1548.2 2201.2 1548.3 2200C1548.5 2198.8 1548 2197.6 1548.1 2196.4C1548.2 2195.2 1548.3 2193.9 1548.8 2192.8C1549.3 2191.8 1550.3 2190.9 1550.9 2189.8C1551.4 2188.7 1551.8 2187.7 1552 2186.5C1552.3 2185.2 1552.1 2183.6 1552.4 2182.3C1552.8 2181 1553.3 2179.6 1554.2 2178.7C1555 2177.7 1556.3 2177.2 1557.4 2176.4C1558.4 2175.5 1559.3 2174.7 1560.3 2173.7C1561.3 2172.7 1562.1 2171.2 1563.2 2170.4C1564.4 2169.5 1565.7 2168.9 1567.1 2168.6C1568.4 2168.3 1570 2168.8 1571.4 2168.8C1572.8 2168.8 1574.1 2168.7 1575.5 2168.5C1576.9 2168.3 1578.4 2167.5 1579.8 2167.4C1581.2 2167.3 1582.8 2167.4 1584.1 2167.9C1585.4 2168.4 1586.6 2169.6 1587.8 2170.3C1589 2171.1 1590.2 2171.8 1591.4 2172.4C1592.7 2173 1594.3 2173.2 1595.4 2174.1C1596.5 2174.9 1597.6 2176 1598.3 2177.2C1598.9 2178.5 1599 2180.3 1599.4 2181.7C1599.7 2183.1 1600 2184.3 1600.6 2185.5C1601.1 2186.7 1602.1 2187.6 1602.6 2188.8C1603 2190 1603.3 2191.3 1603.3 2192.6C1603.3 2193.8 1602.6 2195.2 1602.5 2196.4C1602.4 2197.7 1602.4 2198.8 1602.6 2200ZM1672.1 2247C1672 2248 1671.5 2249.1 1671.2 2250.1C1671 2251.1 1670.7 2252 1670.5 2253C1670.3 2254.1 1670.4 2255.2 1670.2 2256.2C1670 2257.2 1669.7 2258.3 1669.1 2259.2C1668.5 2260 1667.4 2260.6 1666.5 2261.2C1665.6 2261.8 1664.5 2262.1 1663.7 2262.7C1662.8 2263.2 1662.1 2263.8 1661.3 2264.4C1660.5 2264.9 1659.8 2265.6 1658.9 2265.8C1658 2266.1 1656.9 2266.1 1655.9 2266.1C1654.9 2266 1653.9 2265.6 1653 2265.6C1652.1 2265.5 1651.3 2265.5 1650.5 2265.7C1649.6 2265.9 1648.8 2266.4 1648 2266.6C1647.2 2266.8 1646.2 2266.9 1645.4 2266.8C1644.5 2266.7 1643.7 2266.4 1642.9 2266.2C1642 2266 1641.2 2265.8 1640.2 2265.8C1639.2 2265.8 1638.1 2266 1637 2266C1636 2265.9 1634.8 2265.9 1633.9 2265.4C1632.9 2265 1632.2 2264.2 1631.6 2263.4C1630.9 2262.7 1630.5 2261.7 1629.9 2260.9C1629.4 2260 1628.6 2259.3 1628 2258.5C1627.4 2257.7 1626.7 2256.9 1626.3 2256C1626 2255 1625.9 2253.9 1626 2252.9C1626 2251.9 1626.5 2250.8 1626.6 2249.8C1626.7 2248.8 1626.8 2247.9 1626.8 2247C1626.7 2246.1 1626.3 2245.1 1626.2 2244.1C1626.1 2243.2 1626 2242.1 1626.2 2241.2C1626.4 2240.2 1627 2239.3 1627.4 2238.4C1627.7 2237.5 1628.2 2236.7 1628.5 2235.8C1628.9 2234.8 1628.9 2233.7 1629.3 2232.6C1629.7 2231.6 1630 2230.5 1630.7 2229.7C1631.4 2228.9 1632.5 2228.4 1633.5 2228C1634.4 2227.7 1635.6 2227.6 1636.7 2227.3C1637.7 2227.1 1638.6 2226.8 1639.5 2226.5C1640.4 2226.2 1641.3 2225.7 1642.3 2225.7C1643.2 2225.6 1644.3 2225.8 1645.3 2226.1C1646.2 2226.4 1647.1 2227.2 1648 2227.5C1648.9 2227.9 1649.6 2228.2 1650.5 2228.4C1651.3 2228.5 1652.2 2228.2 1653 2228.3C1653.9 2228.3 1654.8 2228.3 1655.6 2228.6C1656.4 2228.9 1657.1 2229.5 1657.8 2230C1658.6 2230.4 1659.2 2231 1660 2231.3C1660.9 2231.7 1662 2231.7 1662.9 2232.1C1663.9 2232.4 1665.1 2232.7 1665.9 2233.3C1666.7 2233.8 1667.3 2234.7 1667.8 2235.6C1668.3 2236.4 1668.4 2237.5 1668.9 2238.4C1669.3 2239.3 1669.8 2240.1 1670.3 2241C1670.8 2241.9 1671.5 2242.9 1671.8 2243.9C1672.1 2244.9 1672.2 2246 1672.1 2247ZM1607.4 2276.2C1607 2277.1 1606.4 2277.8 1606.1 2278.6C1605.9 2279.4 1605.9 2280.2 1605.7 2281C1605.5 2281.8 1605.4 2282.6 1605 2283.3C1604.6 2284 1603.9 2284.5 1603.3 2285.1C1602.7 2285.7 1602.1 2286.1 1601.7 2286.7C1601.2 2287.4 1601.1 2288.3 1600.7 2289C1600.3 2289.7 1600 2290.5 1599.4 2291C1598.8 2291.6 1597.9 2291.7 1597.1 2292C1596.4 2292.3 1595.6 2292.5 1594.9 2292.9C1594.2 2293.3 1593.6 2294 1592.9 2294.5C1592.2 2294.9 1591.4 2295.4 1590.5 2295.6C1589.7 2295.7 1588.8 2295.4 1588 2295.3C1587.2 2295.2 1586.4 2295 1585.5 2295C1584.7 2295 1583.8 2295.3 1582.9 2295.4C1582 2295.5 1580.9 2295.6 1580.1 2295.4C1579.2 2295.2 1578.4 2294.6 1577.7 2294.2C1576.9 2293.7 1576.2 2293.1 1575.4 2292.7C1574.5 2292.3 1573.5 2292.1 1572.6 2291.6C1571.8 2291.1 1570.8 2290.6 1570.3 2289.8C1569.8 2289 1569.6 2287.9 1569.5 2287C1569.3 2286 1569.3 2285 1569.2 2284C1569 2283.1 1568.6 2282.3 1568.5 2281.5C1568.4 2280.6 1568.2 2279.7 1568.5 2278.8C1568.7 2278 1569.4 2277 1569.8 2276.2C1570.3 2275.5 1570.9 2274.8 1571.1 2274C1571.4 2273.3 1571.3 2272.6 1571.4 2271.8C1571.5 2271.1 1571.5 2270.2 1571.8 2269.6C1572.1 2268.9 1572.7 2268.3 1573.1 2267.7C1573.6 2267 1574 2266.5 1574.3 2265.8C1574.6 2265 1574.7 2264 1574.9 2263.2C1575.2 2262.3 1575.5 2261.4 1576.1 2260.7C1576.6 2260.1 1577.5 2259.8 1578.3 2259.4C1579 2259 1579.8 2258.8 1580.6 2258.4C1581.3 2257.9 1582 2257.2 1582.8 2256.8C1583.6 2256.4 1584.5 2256 1585.3 2256C1586.2 2256 1587.1 2256.4 1588 2256.7C1588.9 2256.9 1589.6 2257.3 1590.5 2257.5C1591.3 2257.6 1592.2 2257.5 1593 2257.5C1593.9 2257.6 1594.8 2257.6 1595.6 2257.9C1596.4 2258.2 1597 2258.9 1597.8 2259.4C1598.5 2259.8 1599.1 2260.4 1599.8 2260.8C1600.6 2261.2 1601.7 2261.3 1602.5 2261.8C1603.3 2262.2 1604.3 2262.6 1604.9 2263.3C1605.5 2264 1605.8 2265 1606.1 2265.8C1606.4 2266.7 1606.5 2267.6 1606.8 2268.5C1607.1 2269.3 1607.7 2270 1608 2270.9C1608.3 2271.7 1608.5 2272.7 1608.4 2273.6C1608.3 2274.5 1607.7 2275.4 1607.4 2276.2Z" fill="#39adc6"/>
<rect x="214" y="1319" width="486" height="147" rx="73.5" fill="#f76f6c"/>
<rect x="801" y="1311.5" width="638" height="147.5" rx="73.75" fill="#f76f6c"/>
<rect x="521" y="1666" width="610.5" height="73" rx="36.5" fill="#ec1c26"/>
<rect x="590.5" y="1828.5" width="3" height="198" rx="1.5" fill="#f76f6c"/>
<rect x="1044.5" y="1828.5" width="3" height="198" rx="1.5" fill="#f76f6c"/>
<filter id="soft" x="-5%" y="-20%" width="110%" height="140%"><feGaussianBlur stdDeviation="2.5"/></filter>
<rect x="514" y="2199" width="626.5" height="106" rx="53" fill="#fff" filter="url(#soft)"/>
<rect x="516" y="2201" width="622.5" height="102" rx="51" fill="#fff"/>
<text x="181.9" y="221.6" font-size="76" fill="#0a1f4a" textLength="275.1" lengthAdjust="spacingAndGlyphs" font-weight="700" stroke="#0a1f4a" stroke-width="2.28" stroke-linejoin="round">Cancro</text>
<text x="181.9" y="305" font-size="76" fill="#0a1f4a" textLength="382.6" lengthAdjust="spacingAndGlyphs" font-weight="700" stroke="#0a1f4a" stroke-width="2.28" stroke-linejoin="round">do fígado:</text>
<text x="180.2" y="376.5" font-size="56.5" fill="#0a1f4a" textLength="341.3" lengthAdjust="spacingAndGlyphs">Estudo custo</text>
<text x="180.6" y="445" font-size="56.5" fill="#0a1f4a" textLength="472.4" lengthAdjust="spacingAndGlyphs">e carga da doença</text>
<text x="240.7" y="704.5" font-size="47.5" fill="#ffffff" textLength="99.9" lengthAdjust="spacingAndGlyphs" font-weight="700" stroke="#ffffff" stroke-width="1.43" stroke-linejoin="round">50%</text>
<text x="129.7" y="765" font-size="30.5" fill="#ec1c26" textLength="257.8" lengthAdjust="spacingAndGlyphs">Dos doentes são</text>
<text x="394.1" y="765" font-size="30.5" fill="#ec1c26" textLength="249.4" lengthAdjust="spacingAndGlyphs" font-weight="700" stroke="#ec1c26" stroke-width="0.91" stroke-linejoin="round">diagnosticados</text>
<text x="659.2" y="765" font-size="30.5" fill="#ec1c26" textLength="143.3" lengthAdjust="spacingAndGlyphs" font-weight="700" stroke="#ec1c26" stroke-width="0.91" stroke-linejoin="round">em fases</text>
<text x="130.5" y="815" font-size="30.5" fill="#ec1c26" textLength="173" lengthAdjust="spacingAndGlyphs" font-weight="700" stroke="#ec1c26" stroke-width="0.91" stroke-linejoin="round">avançadas</text>
<text x="313.5" y="815" font-size="30.5" fill="#ec1c26" textLength="234.4" lengthAdjust="spacingAndGlyphs">devido ao facto</text>
<text x="563.6" y="815" font-size="30.5" fill="#ec1c26" textLength="244.5" lengthAdjust="spacingAndGlyphs">de a doença ser</text>
<text x="131" y="865" font-size="30.5" fill="#ec1c26" textLength="674.2" lengthAdjust="spacingAndGlyphs">assintomática na maioria dos seus estádios</text>
<text x="861.7" y="538.8" font-size="25.8" fill="#0a1f4a" textLength="145.2" lengthAdjust="spacingAndGlyphs" font-weight="700" stroke="#0a1f4a" stroke-width="0.77" stroke-linejoin="round">Carcinoma</text>
<text x="861.4" y="576.2" font-size="25.8" fill="#0a1f4a" textLength="186.7" lengthAdjust="spacingAndGlyphs" font-weight="700" stroke="#0a1f4a" stroke-width="0.77" stroke-linejoin="round">hepatocelular</text>
<text x="861.3" y="615" font-size="25.8" fill="#ffffff" textLength="269.2" lengthAdjust="spacingAndGlyphs">é o tipo mais comum</text>
<text x="861.3" y="651.2" font-size="25.8" fill="#ffffff" textLength="32.5" lengthAdjust="spacingAndGlyphs">de</text>
<text x="899.8" y="651.2" font-size="25.8" fill="#0a1f4a" textLength="227.9" lengthAdjust="spacingAndGlyphs" font-weight="700" stroke="#0a1f4a" stroke-width="0.77" stroke-linejoin="round">cancro do fígado</text>
<text x="1236.9" y="651.2" font-size="25.8" fill="#ffffff" textLength="19.1" lengthAdjust="spacingAndGlyphs">A</text>
<text x="1262.8" y="651.2" font-size="25.8" fill="#ffffff" textLength="24.8" lengthAdjust="spacingAndGlyphs" font-weight="700" stroke="#ffffff" stroke-width="0.77" stroke-linejoin="round">3ª</text>
<text x="1293.1" y="651.2" font-size="25.8" fill="#ffffff" textLength="197.4" lengthAdjust="spacingAndGlyphs">principal causa</text>
<text x="1235.8" y="688.8" font-size="25.8" fill="#ffffff" textLength="33.1" lengthAdjust="spacingAndGlyphs">de</text>
<text x="1273.9" y="688.8" font-size="25.8" fill="#0a1f4a" textLength="81.7" lengthAdjust="spacingAndGlyphs" font-weight="700" stroke="#0a1f4a" stroke-width="0.77" stroke-linejoin="round">morte</text>
<text x="1361.9" y="688.8" font-size="25.8" fill="#ffffff" textLength="145.6" lengthAdjust="spacingAndGlyphs">por doença</text>
<text x="1235.8" y="726.2" font-size="25.8" fill="#ffffff" textLength="256.7" lengthAdjust="spacingAndGlyphs">oncológica em todo</text>
<text x="1235.8" y="763.8" font-size="25.8" fill="#ffffff" textLength="113.4" lengthAdjust="spacingAndGlyphs">o mundo</text>
<text x="220.3" y="1006.5" font-size="25.3" fill="#ffffff" textLength="176.6" lengthAdjust="spacingAndGlyphs">Tudo isto tem</text>
<text x="401.8" y="1006.5" font-size="25.3" fill="#ffffff" textLength="90.5" lengthAdjust="spacingAndGlyphs" font-weight="700" stroke="#ffffff" stroke-width="0.76" stroke-linejoin="round">custos</text>
<text x="488.9" y="1006.5" font-size="25.3" fill="#ffffff" textLength="723.7" lengthAdjust="spacingAndGlyphs">, em vidas perdidas e gastos para os sistemas de saúde.</text>
<text x="219.5" y="1040" font-size="25.3" fill="#ffffff" textLength="194.9" lengthAdjust="spacingAndGlyphs">Custos que um</text>
<text x="420.3" y="1040" font-size="25.3" fill="#ffffff" textLength="93" lengthAdjust="spacingAndGlyphs" font-weight="700" stroke="#ffffff" stroke-width="0.76" stroke-linejoin="round">estudo</text>
<text x="509.9" y="1040" font-size="25.3" fill="#ffffff" textLength="923.8" lengthAdjust="spacingAndGlyphs">, realizado numa parceria entre a Associação Portuguesa para o Estudo</text>
<text x="219.8" y="1073.5" font-size="25.3" fill="#ffffff" textLength="1179.9" lengthAdjust="spacingAndGlyphs">do Fígado, a Sociedade Portuguesa de Gastrenterologia e a Exigo Consultores, com o apoio</text>
<text x="219.8" y="1107.5" font-size="25.3" fill="#ffffff" textLength="269.6" lengthAdjust="spacingAndGlyphs">da Roche, conseguiu</text>
<text x="494.2" y="1107.5" font-size="25.3" fill="#ffffff" textLength="636.5" lengthAdjust="spacingAndGlyphs" font-weight="700" stroke="#ffffff" stroke-width="0.76" stroke-linejoin="round">quantificar num espaço temporal de cinco anos</text>
<text x="1124.2" y="1107.5" font-size="25.3" fill="#ffffff" textLength="17.5" lengthAdjust="spacingAndGlyphs">:</text>
<text x="600.5" y="1252.6" font-size="47.5" fill="#f76f6c" textLength="455.5" lengthAdjust="spacingAndGlyphs" font-weight="700" stroke="#f76f6c" stroke-width="1.43" stroke-linejoin="round">Entre 2023 e 2027:</text>
<text x="280.1" y="1369" font-size="25.3" fill="#ffffff" textLength="164.3" lengthAdjust="spacingAndGlyphs">Prevê-se um</text>
<text x="450.6" y="1369" font-size="25.3" fill="#ffffff" textLength="156.4" lengthAdjust="spacingAndGlyphs" font-weight="700" stroke="#ffffff" stroke-width="0.76" stroke-linejoin="round">aumento da</text>
<text x="281" y="1401.5" font-size="25.3" fill="#ffffff" textLength="155.9" lengthAdjust="spacingAndGlyphs" font-weight="700" stroke="#ffffff" stroke-width="0.76" stroke-linejoin="round">prevalência</text>
<text x="446.3" y="1401.5" font-size="25.3" fill="#ffffff" textLength="174.7" lengthAdjust="spacingAndGlyphs">do carcinoma</text>
<text x="280.4" y="1435" font-size="25.3" fill="#ffffff" textLength="354.8" lengthAdjust="spacingAndGlyphs">hepatocelular em Portugal:</text>
<text x="308.3" y="1519" font-size="26.5" fill="#f76f6c" textLength="68.4" lengthAdjust="spacingAndGlyphs" font-weight="700" stroke="#f76f6c" stroke-width="0.79" stroke-linejoin="round">2023</text>
<text x="291.5" y="1572.7" font-size="44.5" fill="#0a1f4a" textLength="103.9" lengthAdjust="spacingAndGlyphs" font-weight="700" stroke="#0a1f4a" stroke-width="1.33" stroke-linejoin="round">4.151</text>
<text x="303.3" y="1606" font-size="27" fill="#0a1f4a" textLength="78.9" lengthAdjust="spacingAndGlyphs" font-weight="700" stroke="#0a1f4a" stroke-width="0.81" stroke-linejoin="round">casos</text>
<text x="429.2" y="1570.3" font-size="25.8" fill="#0a1f4a" textLength="56.8" lengthAdjust="spacingAndGlyphs">para</text>
<text x="537.8" y="1521.5" font-size="26.5" fill="#f76f6c" textLength="68.1" lengthAdjust="spacingAndGlyphs" font-weight="700" stroke="#f76f6c" stroke-width="0.79" stroke-linejoin="round">2027</text>
<text x="515" y="1572.7" font-size="44.5" fill="#0a1f4a" textLength="114.6" lengthAdjust="spacingAndGlyphs" font-weight="700" stroke="#0a1f4a" stroke-width="1.33" stroke-linejoin="round">4.851</text>
<text x="532.3" y="1606" font-size="27" fill="#0a1f4a" textLength="78.4" lengthAdjust="spacingAndGlyphs" font-weight="700" stroke="#0a1f4a" stroke-width="0.81" stroke-linejoin="round">casos</text>
<text x="861.3" y="1375.6" font-size="25.3" fill="#ffffff" textLength="298.5" lengthAdjust="spacingAndGlyphs" font-weight="700" stroke="#ffffff" stroke-width="0.76" stroke-linejoin="round">Anos de vida perdidos</text>
<text x="1165" y="1375.6" font-size="25.3" fill="#ffffff" textLength="210.7" lengthAdjust="spacingAndGlyphs">por mortalidade</text>
<text x="859.7" y="1409.7" font-size="25.3" fill="#ffffff" textLength="345.7" lengthAdjust="spacingAndGlyphs">prematura devido ao CHC:</text>
<text x="874.8" y="1531.3" font-size="44.5" fill="#0a1f4a" textLength="162.2" lengthAdjust="spacingAndGlyphs" font-weight="700" stroke="#0a1f4a" stroke-width="1.33" stroke-linejoin="round">120.314</text>
<text x="1045.6" y="1531" font-size="27" fill="#0a1f4a" textLength="318.1" lengthAdjust="spacingAndGlyphs" font-weight="700" stroke="#0a1f4a" stroke-width="0.81" stroke-linejoin="round">anos ao longo de 5 anos</text>
<text x="956.8" y="1568.8" font-size="26" fill="#0a1f4a" textLength="327" lengthAdjust="spacingAndGlyphs">(mais de 20.000 por ano)</text>
<text x="558.3" y="1712.7" font-size="25.3" fill="#ffffff" textLength="274.5" lengthAdjust="spacingAndGlyphs" font-weight="700" stroke="#ffffff" stroke-width="0.76" stroke-linejoin="round">Aumento dos custos</text>
<text x="838.5" y="1712.7" font-size="25.3" fill="#ffffff" textLength="256.4" lengthAdjust="spacingAndGlyphs">atribuídos ao CHC:*</text>
<text x="339.1" y="1787.3" font-size="26.5" fill="#f76f6c" textLength="66.3" lengthAdjust="spacingAndGlyphs" font-weight="700" stroke="#f76f6c" stroke-width="0.79" stroke-linejoin="round">2023</text>
<text x="343.5" y="1842.4" font-size="45" fill="#0a1f4a" textLength="55.9" lengthAdjust="spacingAndGlyphs" font-weight="700" stroke="#0a1f4a" stroke-width="1.35" stroke-linejoin="round">70</text>
<text x="262.1" y="1877" font-size="27" fill="#0a1f4a" textLength="220.1" lengthAdjust="spacingAndGlyphs" font-weight="700" stroke="#0a1f4a" stroke-width="0.81" stroke-linejoin="round">milhões de euros</text>
<text x="343" y="1932" font-size="25.8" fill="#0a1f4a" textLength="56.8" lengthAdjust="spacingAndGlyphs">para</text>
<text x="339.4" y="1996" font-size="26.5" fill="#f76f6c" textLength="66.6" lengthAdjust="spacingAndGlyphs" font-weight="700" stroke="#f76f6c" stroke-width="0.79" stroke-linejoin="round">2027</text>
<text x="346.5" y="2050" font-size="45" fill="#0a1f4a" textLength="50.8" lengthAdjust="spacingAndGlyphs" font-weight="700" stroke="#0a1f4a" stroke-width="1.35" stroke-linejoin="round">77</text>
<text x="262.1" y="2084.3" font-size="27" fill="#0a1f4a" textLength="220.1" lengthAdjust="spacingAndGlyphs" font-weight="700" stroke="#0a1f4a" stroke-width="0.81" stroke-linejoin="round">milhões de euros</text>
<text x="773.1" y="1901.8" font-size="45" fill="#0a1f4a" textLength="90" lengthAdjust="spacingAndGlyphs" font-weight="700" stroke="#0a1f4a" stroke-width="1.35" stroke-linejoin="round">29%</text>
<text x="702.9" y="1942.3" font-size="27" fill="#0a1f4a" textLength="230.9" lengthAdjust="spacingAndGlyphs" font-weight="700" stroke="#0a1f4a" stroke-width="0.81" stroke-linejoin="round">para transplantes</text>
<text x="752.1" y="1975.3" font-size="27" fill="#0a1f4a" textLength="131.6" lengthAdjust="spacingAndGlyphs" font-weight="700" stroke="#0a1f4a" stroke-width="0.81" stroke-linejoin="round">hepáticos</text>
<text x="1204.9" y="1901.8" font-size="45" fill="#0a1f4a" textLength="133.5" lengthAdjust="spacingAndGlyphs" font-weight="700" stroke="#0a1f4a" stroke-width="1.35" stroke-linejoin="round">44,3%</text>
<text x="1157.6" y="1942.3" font-size="27" fill="#0a1f4a" textLength="227.2" lengthAdjust="spacingAndGlyphs" font-weight="700" stroke="#0a1f4a" stroke-width="0.81" stroke-linejoin="round">para tratamentos</text>
<text x="1200.7" y="1975.3" font-size="27" fill="#0a1f4a" textLength="141.3" lengthAdjust="spacingAndGlyphs" font-weight="700" stroke="#0a1f4a" stroke-width="0.81" stroke-linejoin="round">sistémicos</text>
<text x="529.7" y="2148" font-size="16.5" fill="#1d2f55" textLength="595.5" lengthAdjust="spacingAndGlyphs">* Dados recolhidos em 2022, pelo que as projeções poderão estar subestimadas.</text>
<text x="782.7" y="2189" font-size="16.5" fill="#1d2f55" textLength="87.8" lengthAdjust="spacingAndGlyphs">Um Estudo:</text>
<text x="579.3" y="2268.5" font-size="54.5" fill="#2ba3dd" textLength="60.5" lengthAdjust="spacingAndGlyphs" font-weight="700" stroke="#2ba3dd" stroke-width="2.18" stroke-linejoin="round">APEF</text>
<path d="M575.6 2225.6C574.8 2227.2 571.8 2230.3 570.6 2235C569.5 2239.7 568.4 2247.5 568.8 2253.8C569.1 2260 570.4 2267.5 572.5 2272.5C574.6 2277.5 578.5 2281.7 581.2 2283.8C584 2285.8 584 2286.5 588.8 2285C593.5 2283.5 603.3 2278.8 610 2275C616.7 2271.2 622.9 2267.1 628.8 2262.5C634.6 2257.9 641 2251.7 645 2247.5C649 2243.3 651 2239.8 652.5 2237.5C654 2235.2 654.2 2235.4 653.8 2233.8C653.3 2232.1 652.1 2229.3 650 2227.5C647.9 2225.7 645.8 2224.3 641.2 2223.1C636.7 2222 627.7 2221.1 622.5 2220.6C617.3 2220.1 614.2 2219.9 610 2220C605.8 2220.1 601.7 2220.2 597.5 2221.2C593.3 2222.3 588.1 2224.2 585 2226.2C581.9 2228.3 580.3 2230.6 578.8 2233.8C577.2 2236.9 576 2241.7 575.6 2245C575.2 2248.3 576.1 2252.3 576.2 2253.8" fill="none" stroke="#e3262c" stroke-width="2.3" stroke-linecap="round" stroke-linejoin="round"/>
<text x="658.2" y="2236.5" font-size="9" fill="#2ba3dd" textLength="32.4" lengthAdjust="spacingAndGlyphs" font-weight="700" stroke="#2ba3dd" stroke-width="0.45" stroke-linejoin="round">ASSOCIAÇÃO</text>
<text x="658" y="2247.2" font-size="9" fill="#2ba3dd" textLength="33.7" lengthAdjust="spacingAndGlyphs" font-weight="700" stroke="#2ba3dd" stroke-width="0.45" stroke-linejoin="round">PORTUGUESA</text>
<text x="658" y="2257.9" font-size="9" fill="#2ba3dd" textLength="40.5" lengthAdjust="spacingAndGlyphs" font-weight="700" stroke="#2ba3dd" stroke-width="0.45" stroke-linejoin="round">PARA O ESTUDO</text>
<text x="658" y="2268.5" font-size="9" fill="#2ba3dd" textLength="6.6" lengthAdjust="spacingAndGlyphs" font-weight="700" stroke="#2ba3dd" stroke-width="0.45" stroke-linejoin="round">DO</text>
<text x="666.8" y="2268.5" font-size="9" fill="#e3262c" textLength="18.2" lengthAdjust="spacingAndGlyphs" font-weight="700" stroke="#e3262c" stroke-width="0.45" stroke-linejoin="round">FÍGADO</text>
<path d="M761.9 2236.9 H776.2" fill="none" stroke="#3fb3cc" stroke-width="7.2" stroke-linecap="butt"/>
<path d="M763.1 2236.9 H756 A7.19 7.19 0 0 0 756 2251.2 H761.9" fill="none" stroke="#2f5be3" stroke-width="7.2" stroke-linecap="butt"/>
<path d="M760.6 2251.2 H770.1 A8.5 8.5 0 0 1 770.1 2268.2 H758.8" fill="none" stroke="#0c2148" stroke-width="7.2" stroke-linecap="butt"/>
<path d="M745.2 2264.6 H756.9 A3.6 3.6 0 0 1 756.9 2271.9 H745.2 Z" fill="#f7a531"/>
<path d="M783.5 2233.1 V2268.2 A3.6 3.6 0 0 0 790.8 2268.2 V2233.1 Z" fill="#3fb3cc"/>
<path d="M790.8 2236.9 H805 A7.19 7.19 0 0 1 805 2251.2 H795" fill="none" stroke="#0c2148" stroke-width="7.2" stroke-linecap="butt"/>
<path d="M783.5 2247.6 H794.4 A3.6 3.6 0 0 1 794.4 2254.9 H783.5 Z" fill="#2f5be3"/>
<path d="M825.1 2251.2 A15.1 15.1 0 0 0 855.1 2254.6" fill="none" stroke="#0c2148" stroke-width="7.2" stroke-linecap="butt"/>
<path d="M842.7 2237.6 A15.1 15.1 0 0 0 825 2253" fill="none" stroke="#2f5be3" stroke-width="7.2" stroke-linecap="round"/>
<path d="M822.5 2247.6 H831.9 A3.6 3.6 0 0 1 831.9 2254.9 H822.5 Z" fill="#3fb3cc"/>
<path d="M858.8 2248.2 H841.9 A3.6 3.6 0 0 0 841.9 2255.5 H858.8 Z" fill="#f7a531"/>
<text x="874" y="2255" font-size="8.3" fill="#1c2a4a" textLength="41.4" lengthAdjust="spacingAndGlyphs">Sociedade</text>
<text x="873.7" y="2263.1" font-size="8.3" fill="#1c2a4a" textLength="55.1" lengthAdjust="spacingAndGlyphs">Portuguesa de</text>
<text x="874" y="2271" font-size="8.3" fill="#1c2a4a" textLength="74.7" lengthAdjust="spacingAndGlyphs" font-weight="700">Gastrenterologia</text>
<path d="M995 2253L1015.6 2230H1065.6L1086.25 2253L1065.6 2276.25H1015.6Z" fill="none" stroke="#1b4fb8" stroke-width="2.4" stroke-linejoin="miter"/>
<text x="1012.5" y="2261" font-size="25" fill="#1b4fb8" textLength="58.9" lengthAdjust="spacingAndGlyphs" font-weight="700">Roche</text>
</svg>
</body>
</html>
